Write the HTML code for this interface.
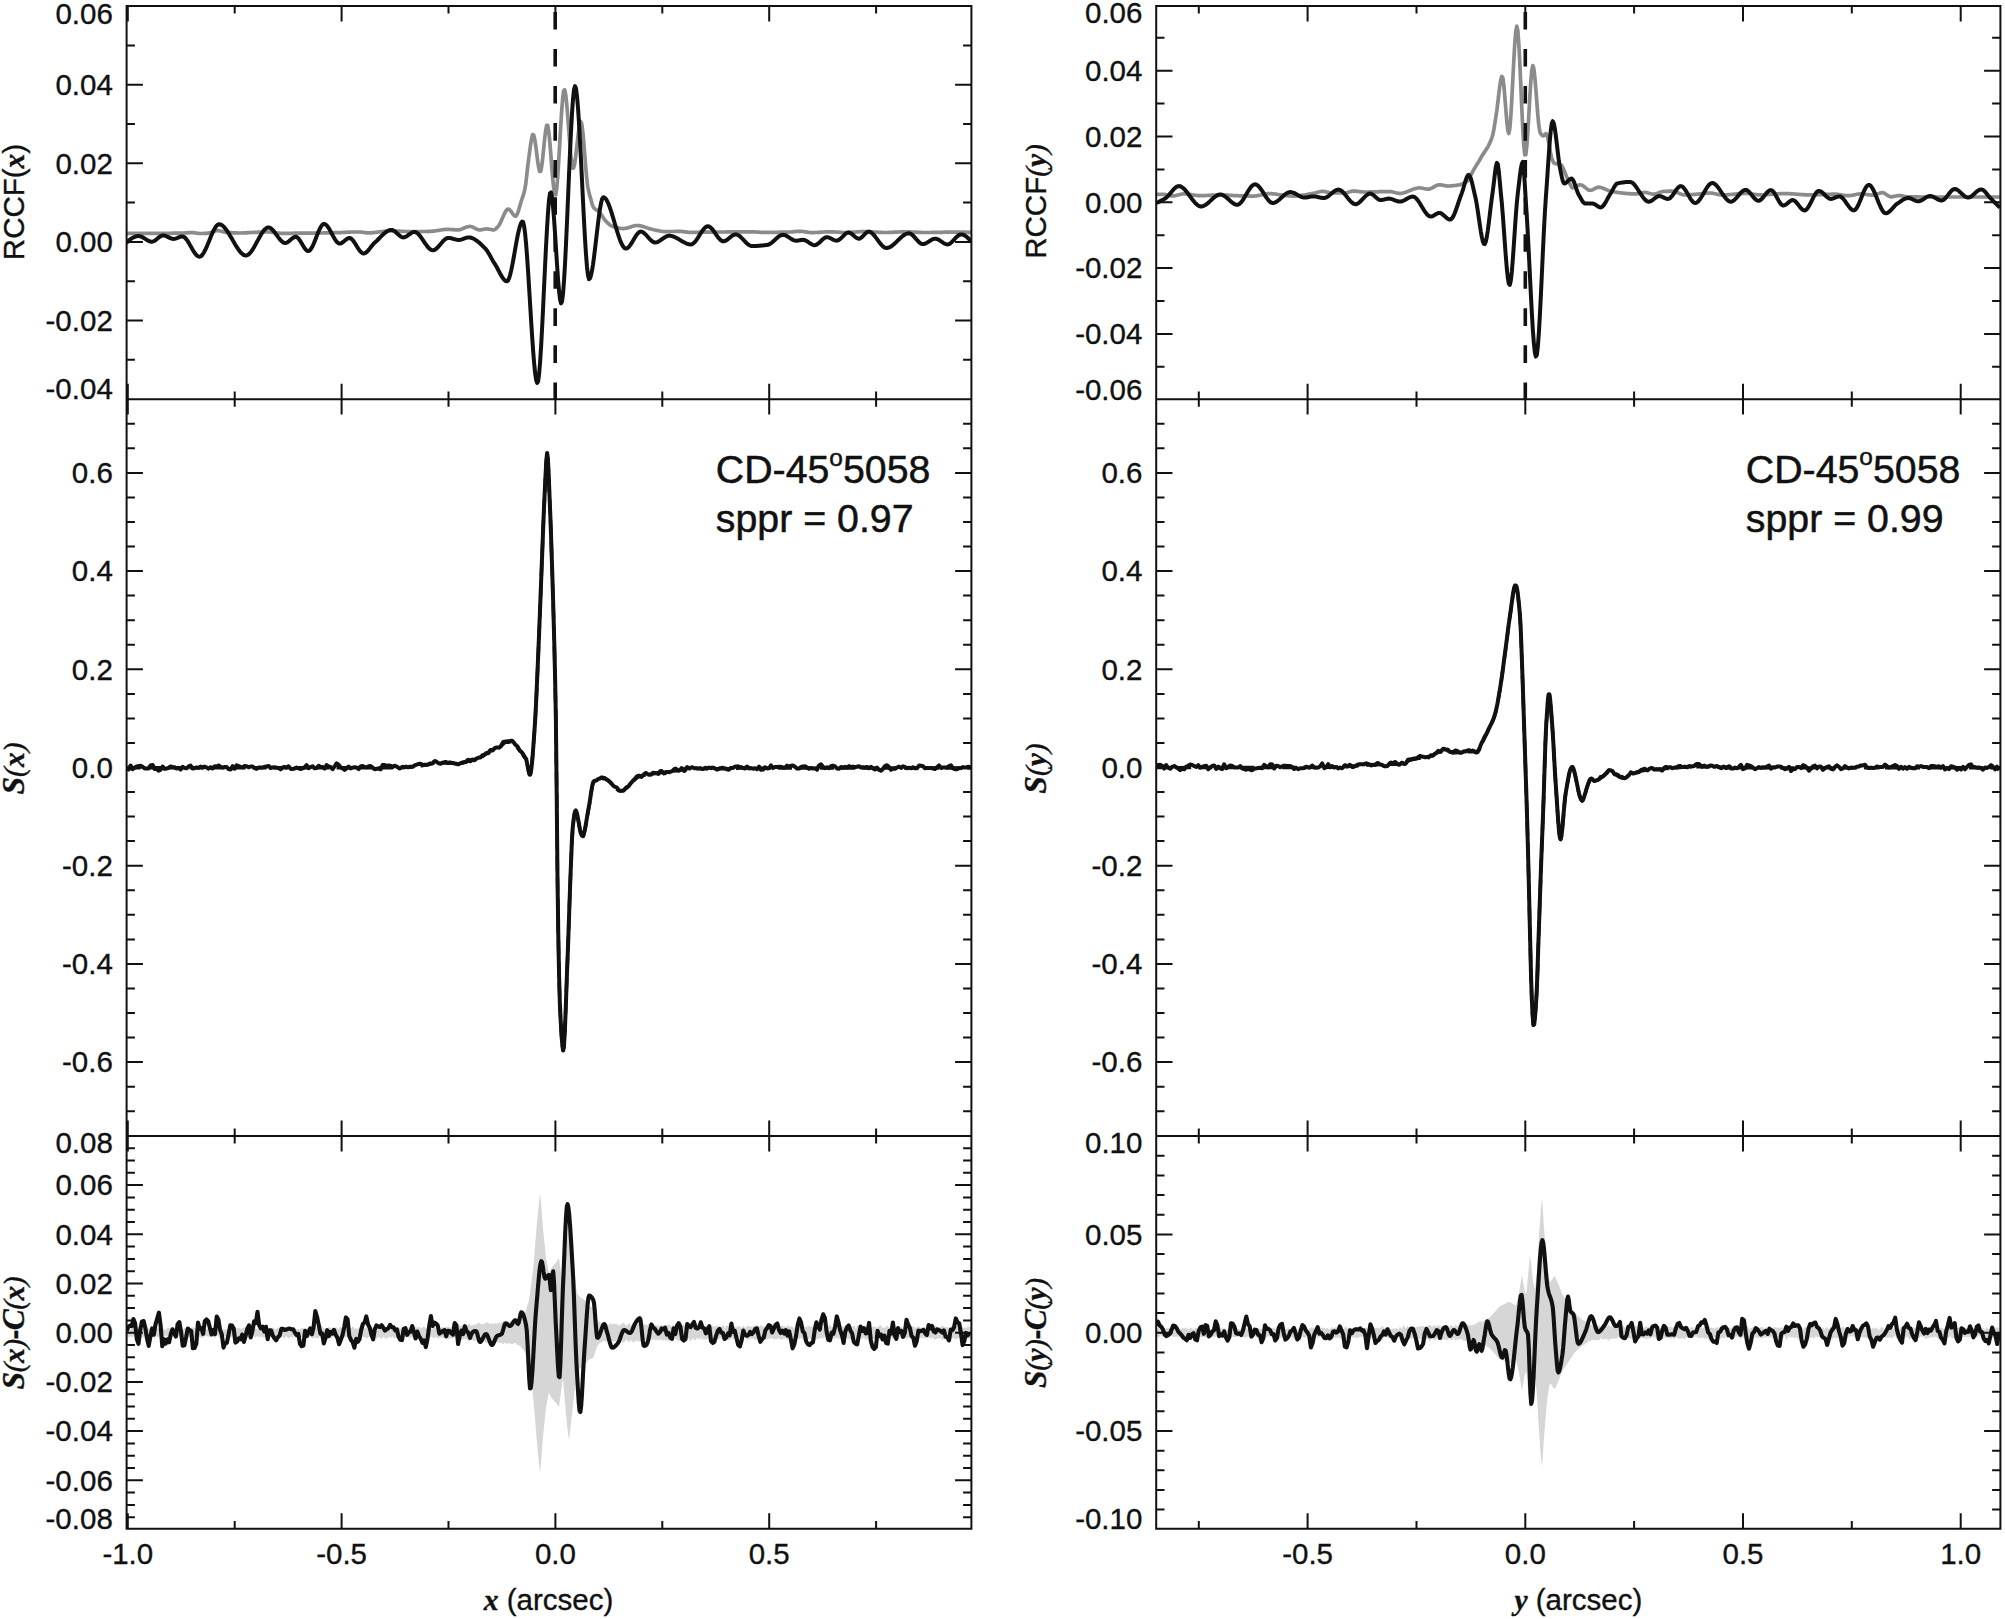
<!DOCTYPE html>
<html lang="en"><head><meta charset="utf-8"><title>RCCF / S-curve figure: CD-45 5058</title>
<style>html,body{margin:0;padding:0;background:#fff}svg{display:block}</style></head>
<body>
<svg width="2005" height="1619" viewBox="0 0 2005 1619">
<rect width="2005" height="1619" fill="#fff"/>
<g id="colL">
<clipPath id="cLt"><rect x="126.6" y="6" width="844.8" height="393.2"/></clipPath>
<clipPath id="cLm"><rect x="126.6" y="399.2" width="844.8" height="736.8"/></clipPath>
<clipPath id="cLb"><rect x="126.6" y="1136" width="844.8" height="392.7"/></clipPath>
<g clip-path="url(#cLt)" fill="none" stroke-linejoin="round" stroke-linecap="butt">
<path d="M126.5 233.3L127.5 233.3L128.5 233.3L129.5 233.3L130.5 233.3L131.5 233.3L132.5 233.3L133.5 233.3L134.5 233.3L135.5 233.3L136.5 233.3L137.5 233.3L138.5 233.3L139.5 233.3L140.5 233.3L141.5 233.3L142.5 233.3L143.5 233.3L144.5 233.3L145.5 233.3L146.5 233.3L147.5 233.3L148.5 233.3L149.5 233.3L150.5 233.3L151.5 233.3L152.5 233.3L153.5 233.3L154.5 233.3L155.5 233.3L156.5 233.3L157.5 233.3L158.5 233.3L159.5 233.3L160.5 233.3L161.5 233.3L162.5 233.3L163.5 233.3L164.5 233.3L165.5 233.3L166.5 233.3L167.5 233.3L168.5 233.3L169.5 233.3L170.5 233.3L171.5 233.3L172.5 233.2L173.5 233.2L174.5 233.2L175.5 233.2L176.5 233.2L177.5 233.2L178.5 233.2L179.5 233.2L180.5 233.2L181.5 233.2L182.5 233.1L183.5 233.1L184.5 233L185.5 232.9L186.5 232.9L187.5 232.8L188.5 232.7L189.5 232.7L190.5 232.6L191.5 232.6L192.5 232.6L193.5 232.7L194.5 232.8L195.5 233L196.5 233.1L197.5 233.3L198.5 233.4L199.5 233.5L200.5 233.5L201.5 233.5L202.5 233.5L203.5 233.4L204.5 233.4L205.5 233.3L206.5 233.3L207.5 233.2L208.5 233.1L209.5 232.9L210.5 232.7L211.5 232.3L212.5 231.9L213.5 231.5L214.5 231.2L215.5 230.9L216.5 230.7L217.5 230.6L218.5 230.7L219.5 230.8L220.5 231L221.5 231.3L222.5 231.6L223.5 231.9L224.5 232.1L225.5 232.3L226.5 232.3L227.5 232.4L228.5 232.5L229.5 232.6L230.5 232.6L231.5 232.7L232.6 232.8L233.6 232.8L234.6 232.9L235.6 232.9L236.6 232.9L237.6 233L238.6 233L239.6 233L240.6 233L241.6 233L242.6 233L243.6 232.9L244.6 232.9L245.6 232.8L246.6 232.8L247.6 232.7L248.6 232.6L249.6 232.6L250.6 232.5L251.6 232.5L252.6 232.4L253.6 232.4L254.6 232.3L255.6 232.3L256.6 232.3L257.6 232.2L258.6 232.2L259.6 232.2L260.6 232.1L261.6 232.1L262.6 232.1L263.6 232.1L264.6 232L265.6 232L266.6 232L267.6 232L268.6 232L269.6 232L270.6 232.1L271.6 232.2L272.6 232.3L273.6 232.5L274.6 232.6L275.6 232.7L276.6 232.9L277.6 233L278.6 233.1L279.6 233.2L280.6 233.3L281.6 233.3L282.6 233.3L283.6 233.3L284.6 233.3L285.6 233.3L286.6 233.3L287.6 233.3L288.6 233.3L289.6 233.3L290.6 233.3L291.6 233.3L292.6 233.3L293.6 233.2L294.6 233.2L295.6 233.2L296.6 233.2L297.6 233.2L298.6 233.2L299.6 233.2L300.6 233.2L301.6 233.2L302.6 233.2L303.6 233.2L304.6 233.2L305.6 233.2L306.6 233.1L307.6 233.1L308.6 233.1L309.6 233.1L310.6 233.1L311.6 233.1L312.6 233.1L313.6 233.1L314.6 233.1L315.6 233.1L316.6 233L317.6 233L318.6 233L319.6 233L320.6 233L321.6 233L322.6 233L323.6 232.9L324.6 232.9L325.6 232.9L326.6 232.9L327.6 232.9L328.6 232.9L329.6 232.8L330.6 232.8L331.6 232.8L332.6 232.8L333.6 232.8L334.6 232.7L335.6 232.7L336.6 232.7L337.6 232.7L338.6 232.6L339.6 232.6L340.6 232.6L341.6 232.5L342.6 232.5L343.6 232.4L344.6 232.4L345.6 232.3L346.6 232.2L347.6 232.2L348.6 232.1L349.6 232.1L350.6 232L351.6 232L352.6 232L353.6 232L354.6 232L355.6 232L356.6 232L357.6 232L358.6 232L359.6 232L360.6 232L361.6 232.1L362.6 232.2L363.6 232.4L364.6 232.6L365.6 232.7L366.6 232.8L367.6 232.9L368.6 232.9L369.6 232.9L370.6 232.8L371.6 232.8L372.6 232.7L373.6 232.6L374.6 232.5L375.6 232.4L376.6 232.3L377.6 232.1L378.6 232L379.6 231.9L380.6 231.8L381.6 231.6L382.6 231.5L383.6 231.4L384.6 231.3L385.6 231.2L386.6 231.1L387.6 231L388.6 231L389.6 230.9L390.6 230.9L391.6 230.9L392.6 230.9L393.6 230.9L394.6 231L395.6 231L396.6 231L397.6 231.1L398.6 231.1L399.6 231.2L400.6 231.3L401.6 231.3L402.6 231.4L403.6 231.4L404.6 231.5L405.6 231.5L406.6 231.5L407.6 231.6L408.6 231.6L409.6 231.6L410.6 231.6L411.6 231.6L412.6 231.6L413.6 231.6L414.6 231.6L415.6 231.6L416.6 231.6L417.6 231.6L418.6 231.6L419.6 231.6L420.6 231.5L421.6 231.5L422.6 231.5L423.6 231.5L424.6 231.5L425.6 231.5L426.6 231.5L427.6 231.4L428.6 231.4L429.6 231.4L430.6 231.4L431.6 231.3L432.6 231.2L433.6 231.1L434.6 231L435.6 230.8L436.6 230.7L437.6 230.5L438.6 230.3L439.6 230.2L440.6 230L441.6 229.8L442.6 229.7L443.7 229.6L444.7 229.5L445.7 229.4L446.7 229.4L447.7 229.4L448.7 229.4L449.7 229.5L450.7 229.5L451.7 229.6L452.7 229.7L453.7 229.7L454.7 229.8L455.7 229.8L456.7 229.9L457.7 229.9L458.7 229.9L459.7 229.7L460.7 229.4L461.7 229.1L462.7 228.7L463.7 228.2L464.7 227.8L465.7 227.4L466.7 227L467.7 226.7L468.7 226.5L469.7 226.4L470.7 226.5L471.7 226.8L472.7 227.1L473.7 227.6L474.7 228.1L475.7 228.7L476.7 229.1L477.7 229.5L478.7 229.8L479.7 229.9L480.7 229.8L481.7 229.7L482.7 229.5L483.7 229.3L484.7 229.1L485.7 229L486.7 228.9L487.7 229L488.7 229.1L489.7 229.3L490.7 229.5L491.7 229.7L492.7 229.8L493.7 229.9L494.7 229.6L495.7 228.9L496.7 227.9L497.7 226.9L498.7 225.7L499.7 224L500.7 222L501.7 219.7L502.7 217.4L503.7 215.2L504.7 213.1L505.7 211.3L506.7 210L507.7 209.2L508.7 209.2L509.7 209.8L510.7 210.9L511.7 212.3L512.7 213.8L513.7 215.1L514.7 215.9L515.7 216.2L516.7 215.2L517.7 213L518.7 210L519.7 206.5L520.7 203L521.7 199.7L522.7 196.8L523.7 193.7L524.7 189.9L525.7 184.4L526.7 175.8L527.7 166.5L528.7 158.7L529.7 151.3L530.7 144L531.7 138L532.7 134.6L533.7 134.9L534.7 139.1L535.7 145.6L536.7 153.5L537.7 161.2L538.7 167.6L539.7 171.5L540.7 171.3L541.7 166.4L542.7 158.2L543.7 148.3L544.7 138.4L545.7 130.2L546.7 125.3L547.7 125.4L548.7 131L549.7 140.7L550.7 152.9L551.7 166L552.7 178.3L553.7 188.3L554.7 194.4L555.7 194.9L556.7 188.6L557.7 176.8L558.7 161.4L559.7 144.1L560.7 126.6L561.7 110.7L562.7 98.1L563.7 90.6L564.7 89.8L565.7 94.7L566.7 103.9L567.7 115.8L568.7 129.1L569.7 142.4L570.7 154.3L571.7 163.4L572.7 168.2L573.7 167.9L574.7 163.5L575.7 156.3L576.7 147.7L577.7 138.6L578.7 130.5L579.7 124.3L580.7 121.5L581.7 123.5L582.7 130.7L583.7 141.5L584.7 154.2L585.7 167L586.7 178.3L587.7 186.3L588.7 191.3L589.7 195.3L590.7 198.8L591.7 202.4L592.7 205.9L593.7 207.7L594.7 208.7L595.7 209.5L596.7 210.1L597.7 210.7L598.7 211.5L599.7 212.6L600.7 213.9L601.7 215.3L602.7 216.8L603.7 218.3L604.7 219.7L605.7 221L606.7 222L607.7 223L608.7 223.9L609.7 224.7L610.7 225.4L611.7 226L612.7 226.4L613.7 226.7L614.7 227L615.7 227.3L616.7 227.6L617.7 227.9L618.7 228.1L619.7 228.3L620.7 228.4L621.7 228.5L622.7 228.6L623.7 228.6L624.7 228.5L625.7 228.3L626.7 228.1L627.7 227.9L628.7 227.6L629.7 227.2L630.7 226.9L631.7 226.6L632.7 226.3L633.7 226L634.7 225.8L635.7 225.6L636.7 225.5L637.7 225.5L638.7 225.6L639.7 225.7L640.7 225.9L641.7 226.1L642.7 226.4L643.7 226.7L644.7 227L645.7 227.4L646.7 227.7L647.7 228.1L648.7 228.4L649.7 228.7L650.7 229L651.7 229.3L652.7 229.5L653.7 229.8L654.8 230L655.8 230.2L656.8 230.4L657.8 230.6L658.8 230.8L659.8 231L660.8 231.2L661.8 231.3L662.8 231.5L663.8 231.5L664.8 231.6L665.8 231.6L666.8 231.6L667.8 231.6L668.8 231.6L669.8 231.6L670.8 231.5L671.8 231.5L672.8 231.5L673.8 231.5L674.8 231.5L675.8 231.4L676.8 231.4L677.8 231.4L678.8 231.4L679.8 231.4L680.8 231.4L681.8 231.5L682.8 231.6L683.8 231.7L684.8 231.8L685.8 231.9L686.8 232.1L687.8 232.2L688.8 232.3L689.8 232.3L690.8 232.3L691.8 232.3L692.8 232.3L693.8 232.3L694.8 232.3L695.8 232.3L696.8 232.3L697.8 232.3L698.8 232.3L699.8 232.2L700.8 232.2L701.8 232.2L702.8 232.2L703.8 232.2L704.8 232.2L705.8 232.2L706.8 232.2L707.8 232.1L708.8 232.1L709.8 232.1L710.8 232.1L711.8 232.1L712.8 232.1L713.8 232.1L714.8 232.1L715.8 232L716.8 232L717.8 232L718.8 232L719.8 232L720.8 232L721.8 232L722.8 232L723.8 232L724.8 232L725.8 232L726.8 231.9L727.8 231.9L728.8 231.9L729.8 231.9L730.8 231.9L731.8 231.9L732.8 231.9L733.8 231.9L734.8 231.9L735.8 231.9L736.8 231.9L737.8 231.8L738.8 231.8L739.8 231.8L740.8 231.8L741.8 231.8L742.8 231.8L743.8 231.8L744.8 231.8L745.8 231.8L746.8 231.8L747.8 231.8L748.8 231.8L749.8 231.8L750.8 231.8L751.8 231.8L752.8 231.9L753.8 231.9L754.8 231.9L755.8 232L756.8 232.1L757.8 232.1L758.8 232.2L759.8 232.2L760.8 232.3L761.8 232.3L762.8 232.4L763.8 232.4L764.8 232.4L765.8 232.4L766.8 232.4L767.8 232.4L768.8 232.4L769.8 232.4L770.8 232.4L771.8 232.4L772.8 232.4L773.8 232.3L774.8 232.3L775.8 232.3L776.8 232.3L777.8 232.3L778.8 232.3L779.8 232.2L780.8 232.2L781.8 232.2L782.8 232.2L783.8 232.2L784.8 232.1L785.8 232.1L786.8 232.1L787.8 232.1L788.8 232L789.8 232L790.8 232L791.8 231.9L792.8 231.8L793.8 231.7L794.8 231.6L795.8 231.5L796.8 231.4L797.8 231.4L798.8 231.3L799.8 231.3L800.8 231.3L801.8 231.4L802.8 231.5L803.8 231.6L804.8 231.8L805.8 231.9L806.8 232.1L807.8 232.2L808.8 232.4L809.8 232.5L810.8 232.6L811.8 232.6L812.8 232.6L813.8 232.6L814.8 232.5L815.8 232.5L816.8 232.5L817.8 232.4L818.8 232.3L819.8 232.3L820.8 232.2L821.8 232.1L822.8 232.1L823.8 232L824.8 232L825.8 231.9L826.8 231.9L827.8 231.8L828.8 231.8L829.8 231.8L830.8 231.8L831.8 231.8L832.8 231.9L833.8 231.9L834.8 232L835.8 232L836.8 232.1L837.8 232.2L838.8 232.2L839.8 232.3L840.8 232.4L841.8 232.4L842.8 232.5L843.8 232.5L844.8 232.5L845.8 232.5L846.8 232.5L847.8 232.5L848.8 232.4L849.8 232.4L850.8 232.3L851.8 232.3L852.8 232.2L853.8 232.1L854.8 232.1L855.8 232L856.8 231.9L857.8 231.9L858.8 231.8L859.8 231.7L860.8 231.7L861.8 231.7L862.8 231.6L863.8 231.6L864.8 231.6L865.9 231.6L866.9 231.6L867.9 231.6L868.9 231.7L869.9 231.7L870.9 231.8L871.9 231.8L872.9 231.9L873.9 232L874.9 232L875.9 232.1L876.9 232.2L877.9 232.2L878.9 232.3L879.9 232.4L880.9 232.4L881.9 232.4L882.9 232.5L883.9 232.5L884.9 232.5L885.9 232.5L886.9 232.5L887.9 232.5L888.9 232.4L889.9 232.4L890.9 232.4L891.9 232.3L892.9 232.3L893.9 232.2L894.9 232.2L895.9 232.1L896.9 232.1L897.9 232L898.9 232L899.9 231.9L900.9 231.9L901.9 231.8L902.9 231.8L903.9 231.8L904.9 231.8L905.9 231.8L906.9 231.8L907.9 231.8L908.9 231.9L909.9 231.9L910.9 231.9L911.9 232L912.9 232L913.9 232.1L914.9 232.1L915.9 232.2L916.9 232.2L917.9 232.3L918.9 232.3L919.9 232.4L920.9 232.4L921.9 232.5L922.9 232.5L923.9 232.5L924.9 232.5L925.9 232.5L926.9 232.5L927.9 232.5L928.9 232.5L929.9 232.5L930.9 232.5L931.9 232.4L932.9 232.4L933.9 232.4L934.9 232.4L935.9 232.4L936.9 232.4L937.9 232.3L938.9 232.3L939.9 232.3L940.9 232.3L941.9 232.3L942.9 232.3L943.9 232.2L944.9 232.2L945.9 232.2L946.9 232.2L947.9 232.2L948.9 232.2L949.9 232.2L950.9 232.2L951.9 232.2L952.9 232.2L953.9 232.2L954.9 232.2L955.9 232.2L956.9 232.2L957.9 232.2L958.9 232.2L959.9 232.2L960.9 232.2L961.9 232.2L962.9 232.2L963.9 232.2L964.9 232.2L965.9 232.2L966.9 232.3L967.9 232.3L968.9 232.3L969.9 232.3L970.9 232.3" stroke="#8b8b8b" stroke-width="3.7"/>
<line x1="555.2" y1="400" x2="555.2" y2="0" stroke="#111111" stroke-width="3.6" stroke-dasharray="17.6 19.45"/>
<path d="M126.2 243L127.2 242L128.2 241.1L129.2 240.2L130.2 239.4L131.2 238.7L132.2 238.1L133.2 237.5L134.2 237.1L135.2 236.7L136.2 236.4L137.2 236.2L138.2 236.1L139.2 236.1L140.2 236.3L141.2 236.6L142.2 237.1L143.2 237.6L144.2 238.2L145.2 238.9L146.2 239.5L147.2 240.1L148.2 240.7L149.2 241.1L150.2 241.5L151.2 241.7L152.2 241.7L153.2 241.4L154.2 241L155.2 240.3L156.2 239.6L157.2 238.8L158.2 237.9L159.2 237.2L160.2 236.5L161.2 235.9L162.2 235.6L163.2 235.5L164.2 235.6L165.2 235.9L166.2 236.2L167.2 236.7L168.2 237.1L169.2 237.6L170.2 238.1L171.2 238.5L172.2 238.7L173.2 238.9L174.2 238.9L175.2 238.7L176.2 238.4L177.2 238L178.2 237.6L179.2 237.1L180.2 236.8L181.2 236.5L182.2 236.4L183.2 236.6L184.2 237.1L185.2 237.9L186.2 239.1L187.2 240.4L188.2 241.9L189.2 243.6L190.2 245.4L191.2 247.1L192.2 248.9L193.2 250.6L194.2 252.2L195.2 253.6L196.2 254.8L197.2 255.8L198.2 256.4L199.2 256.7L200.2 256.6L201.2 256L202.2 255L203.2 253.6L204.2 251.9L205.2 250L206.2 247.8L207.2 245.6L208.2 243.2L209.2 240.7L210.2 238.2L211.2 235.8L212.2 233.5L213.2 231.3L214.2 229.4L215.2 227.7L216.2 226.2L217.2 225.2L218.2 224.5L219.2 224.3L220.2 224.4L221.2 224.8L222.2 225.4L223.2 226.2L224.2 227.2L225.2 228.4L226.2 229.7L227.2 231.1L228.2 232.6L229.2 234.2L230.2 235.9L231.2 237.6L232.2 239.3L233.2 241.1L234.2 242.8L235.2 244.5L236.2 246.1L237.2 247.7L238.2 249.2L239.2 250.6L240.2 251.8L241.2 252.9L242.2 253.8L243.2 254.6L244.2 255.1L245.2 255.4L246.2 255.5L247.2 255.2L248.2 254.7L249.2 253.9L250.2 252.9L251.2 251.6L252.2 250.2L253.2 248.6L254.2 246.9L255.2 245.1L256.2 243.3L257.2 241.4L258.2 239.6L259.2 237.7L260.2 236L261.2 234.3L262.2 232.7L263.2 231.3L264.2 230L265.2 229L266.2 228.2L267.1 227.7L268.1 227.4L269.1 227.5L270.1 227.9L271.1 228.5L272.1 229.4L273.1 230.4L274.1 231.6L275.1 232.9L276.1 234.3L277.1 235.7L278.1 237.1L279.1 238.4L280.1 239.6L281.1 240.7L282.1 241.6L283.1 242.4L284.1 242.8L285.1 243L286.1 242.9L287.1 242.5L288.1 241.8L289.1 241.1L290.1 240.2L291.1 239.3L292.1 238.5L293.1 237.8L294.1 237.2L295.1 236.9L296.1 236.8L297.1 237.3L298.1 238.1L299.1 239.3L300.1 240.8L301.1 242.4L302.1 244.1L303.1 245.8L304.1 247.4L305.1 248.8L306.1 250L307.1 250.8L308.1 251.1L309.1 250.9L310.1 250.1L311.1 248.8L312.1 247.1L313.1 245L314.1 242.7L315.1 240.2L316.1 237.7L317.1 235.1L318.1 232.6L319.1 230.3L320.1 228.2L321.1 226.4L322.1 225.1L323.1 224.2L324.1 223.9L325.1 224.1L326.1 224.8L327.1 225.8L328.1 227.2L329.1 228.7L330.1 230.5L331.1 232.3L332.1 234.2L333.1 236.1L334.1 237.9L335.1 239.5L336.1 241L337.1 242.2L338.1 243L339.1 243.5L340.1 243.6L341.1 243.3L342.1 242.7L343.1 242L344.1 241.2L345.1 240.3L346.1 239.5L347.1 238.8L348.1 238.3L349.1 238L350.1 238.1L351.1 238.6L352.1 239.5L353.1 240.6L354.1 242L355.1 243.5L356.1 245.1L357.1 246.8L358.1 248.4L359.1 249.8L360.1 251.2L361.1 252.2L362.1 253L363.1 253.4L364.1 253.5L365.1 253.1L366.1 252.5L367.1 251.6L368.1 250.6L369.1 249.4L370.1 248.1L371.1 246.8L372.1 245.6L373.1 244.3L374.1 243.2L375.1 242.3L376.1 241.4L377.1 240.5L378.1 239.5L379.1 238.5L380.1 237.4L381.1 236.4L382.1 235.4L383.1 234.5L384.1 233.6L385.1 232.7L386.1 232L387.1 231.3L388.1 230.8L389.1 230.3L390.1 230L391.1 229.9L392.1 230L393.1 230.3L394.1 230.9L395.1 231.6L396.1 232.5L397.1 233.4L398.1 234.3L399.1 235.2L400.1 236L401.1 236.7L402.1 237.2L403.1 237.4L404.1 237.3L405.1 237L406.1 236.6L407.1 236L408.1 235.2L409.1 234.5L410.1 233.8L411.1 233.1L412.1 232.5L413.1 232.1L414.1 231.9L415.1 232L416.1 232.3L417.1 233L418.1 233.8L419.1 234.9L420.1 236.1L421.1 237.4L422.1 238.9L423.1 240.3L424.1 241.8L425.1 243.3L426.1 244.7L427.1 246.1L428.1 247.3L429.1 248.4L430.1 249.2L431.1 249.9L432.1 250.2L433.1 250.3L434.1 250.1L435.1 249.6L436.1 248.9L437.1 248L438.1 247L439.1 245.8L440.1 244.7L441.1 243.5L442.1 242.3L443.1 241.2L444.1 240.2L445.1 239.3L446.1 238.6L447.1 238.1L448.1 237.9L449.1 237.9L450.1 238.1L451.1 238.2L452.1 238.5L453.1 238.8L454.1 239.1L455.1 239.3L456.1 239.6L457.1 239.8L458.1 239.9L459.1 239.9L460.1 239.8L461.1 239.6L462.1 239.3L463.1 238.9L464.1 238.5L465.1 238.2L466.1 237.8L467.1 237.6L468.1 237.4L469.1 237.4L470.1 237.5L471.1 237.7L472.1 238.1L473.1 238.5L474.1 239L475.1 239.6L476.1 240.3L477.1 241L478.1 241.8L479.1 242.6L480.1 243.5L481.1 244.4L482.1 245.4L483.1 246.3L484.1 247.3L485.1 248.3L486.1 249.5L487.1 250.8L488.1 252.4L489.1 254.1L490.1 255.8L491.1 257.6L492.1 259.4L493.1 261.2L494.1 262.8L495.1 264.4L496.1 266L497.1 267.8L498.1 269.7L499.1 271.6L500.1 273.5L501.1 275.3L502.1 277L503.1 278.4L504.1 279.7L505.1 280.6L506.1 281.1L507.1 281.3L508.1 280.4L509.1 278.2L510.1 275L511.1 270.9L512.1 266.1L513.1 260.9L514.1 255.3L515.1 249.6L516.1 243.9L517.1 238.5L518.1 233.5L519.1 229.2L520.1 225.6L521.1 223L522.1 221.6L523.1 221.9L524.1 225.9L525.1 233.5L526.1 244L527.1 257L528.1 271.7L529.1 287.6L530.1 304L531.1 320.4L532.1 336L533.1 350.4L534.1 362.9L535.1 372.9L536.1 379.8L537.1 383L538.1 381.4L539.1 374.1L540.1 362.2L541.1 346.5L542.1 328L543.1 307.7L544.1 286.4L545.1 265.2L546.1 245L547.1 226.8L548.1 211.5L549 200L550 193.3L551 192.4L552 197L553 206L554 218.4L555 232.9L556 248.5L557 264.1L558 278.5L559 290.6L560 299.3L561 303.4L562 301.8L563 294L564 281.2L565 264.3L566 244.2L567 221.9L568 198.6L569 175L570 152.3L571 131.5L572 113.4L573 99.2L574 89.7L575 86.1L576 88.6L577 96.1L578 107.8L579 122.9L580 140.6L581 160L582 180.4L583 200.8L584 220.5L585 238.6L586 254.4L587 267L588 275.5L589 279.1L590 278.4L591 275.4L592 270.7L593 264.5L594 257.2L595 249.1L596 240.5L597 231.9L598 223.5L599 215.7L600 208.9L601 203.3L602 199.3L603 197.4L604 197.3L605 198L606 199.1L607 200.8L608 202.8L609 205.2L610 208L611 210.9L612 214.1L613 217.4L614 220.8L615 224.2L616 227.6L617 230.9L618 234.1L619 237.1L620 239.9L621 242.4L622 244.5L623 246.3L624 247.6L625 248.4L626 248.6L627 248.3L628 247.7L629 246.7L630 245.4L631 244L632 242.4L633 240.7L634 239L635 237.3L636 235.7L637 234.3L638 233.2L639 232.3L640 231.7L641 231.6L642 231.8L643 232.3L644 233L645 233.9L646 234.9L647 236L648 237.1L649 238.3L650 239.3L651 240.3L652 241.2L653 241.9L654 242.3L655 242.5L656 242.4L657 242.2L658 241.8L659 241.2L660 240.6L661 239.9L662 239.2L663 238.5L664 237.8L665 237.2L666 236.6L667 236.2L668 235.9L669 235.7L670 235.7L671 235.9L672 236.1L673 236.4L674 236.8L675 237.2L676 237.7L677 238.2L678 238.8L679 239.4L680 240L681 240.6L682 241.2L683 241.8L684 242.3L685 242.8L686 243.3L687 243.7L688 244L689 244.2L690 244.4L691 244.4L692 244.2L693 243.6L694 242.8L695 241.8L696 240.5L697 239.1L698 237.6L699 236L700 234.4L701 232.8L702 231.3L703 230L704 228.7L705 227.7L706 226.9L707 226.4L708 226.3L709 226.5L710 227.1L711 227.9L712 228.9L713 230.1L714 231.5L715 232.9L716 234.4L717 235.8L718 237.2L719 238.4L720 239.5L721 240.4L722 241L723 241.3L724 241.2L725 241L726 240.5L727 239.8L728 239.1L729 238.3L730 237.4L731 236.6L732 235.9L733 235.2L734 234.8L735 234.5L736 234.4L737 234.6L738 235L739 235.6L740 236.4L741 237.3L742 238.3L743 239.3L744 240.4L745 241.5L746 242.5L747 243.4L748 244.3L749 245L750 245.5L751 245.9L752 246L753 246L754 246L755 245.9L756 245.9L757 245.9L758 245.8L759 245.7L760 245.7L761 245.6L762 245.5L763 245.4L764 245.3L765 245.2L766 245.1L767 245L768 244.8L769 244.4L770 243.9L771 243.3L772 242.5L773 241.6L774 240.7L775 239.8L776 238.8L777 237.9L778 237.1L779 236.3L780 235.7L781 235.2L782 234.9L783 234.8L784 234.9L785 235.2L786 235.6L787 236.2L788 236.8L789 237.4L790 238.1L791 238.8L792 239.4L793 239.9L794 240.3L795 240.6L796 240.7L797 240.7L798 240.5L799 240.4L800 240.2L801 240L802 239.9L803 239.8L804 239.9L805 240.2L806 240.7L807 241.3L808 241.9L809 242.6L810 243.3L811 243.9L812 244.5L813 244.9L814 245.2L815 245.2L816 244.9L817 244.4L818 243.7L819 242.9L820 242L821 241L822 240L823 239.1L824 238.4L825 237.7L826 237.3L827 237.2L828 237.3L829 237.6L830 238L830.9 238.5L831.9 239L832.9 239.6L833.9 240L834.9 240.4L835.9 240.6L836.9 240.7L837.9 240.4L838.9 239.9L839.9 239.2L840.9 238.3L841.9 237.3L842.9 236.3L843.9 235.3L844.9 234.3L845.9 233.5L846.9 232.9L847.9 232.6L848.9 232.5L849.9 232.8L850.9 233.3L851.9 234L852.9 234.9L853.9 235.8L854.9 236.7L855.9 237.5L856.9 238.1L857.9 238.5L858.9 238.7L859.9 238.5L860.9 237.9L861.9 237.1L862.9 236.1L863.9 235.1L864.9 234L865.9 233.1L866.9 232.3L867.9 231.8L868.9 231.7L869.9 231.9L870.9 232.4L871.9 233.1L872.9 234L873.9 235.1L874.9 236.3L875.9 237.6L876.9 238.9L877.9 240.3L878.9 241.7L879.9 243L880.9 244.2L881.9 245.3L882.9 246.3L883.9 247.1L884.9 247.6L885.9 248L886.9 248L887.9 247.8L888.9 247.5L889.9 247.1L890.9 246.5L891.9 245.8L892.9 245.1L893.9 244.2L894.9 243.3L895.9 242.4L896.9 241.4L897.9 240.4L898.9 239.4L899.9 238.5L900.9 237.6L901.9 236.7L902.9 235.9L903.9 235.2L904.9 234.5L905.9 234L906.9 233.6L907.9 233.4L908.9 233.3L909.9 233.5L910.9 233.9L911.9 234.6L912.9 235.5L913.9 236.5L914.9 237.6L915.9 238.8L916.9 239.9L917.9 241L918.9 242L919.9 242.9L920.9 243.6L921.9 244L922.9 244.1L923.9 244L924.9 243.7L925.9 243.2L926.9 242.7L927.9 242.1L928.9 241.5L929.9 240.8L930.9 240.2L931.9 239.6L932.9 239.2L933.9 238.9L934.9 238.7L935.9 238.8L936.9 239L937.9 239.4L938.9 239.9L939.9 240.6L940.9 241.2L941.9 241.9L942.9 242.6L943.9 243.2L944.9 243.7L945.9 244.1L946.9 244.4L947.9 244.4L948.9 244.1L949.9 243.6L950.9 242.8L951.9 241.9L952.9 240.9L953.9 239.8L954.9 238.7L955.9 237.7L956.9 236.7L957.9 235.8L958.9 235.1L959.9 234.6L960.9 234.4L961.9 234.5L962.9 234.7L963.9 235L964.9 235.6L965.9 236.2L966.9 237L967.9 238L968.9 239L969.9 240.2L970.9 241.5" stroke="#111111" stroke-width="4"/>
</g>
<g clip-path="url(#cLm)" fill="none" stroke-linejoin="round">
<path d="M126.6 767.9L128.6 769.5L130.6 765.5L132.6 769.2L134.6 767.7L136.6 766.4L138.6 766.1L140.6 765.7L142.6 766.8L144.6 768.4L146.6 768.4L148.6 768.4L150.6 765.4L152.6 764.9L154.6 769L156.6 769L158.6 770.6L160.6 769.6L162.6 766.5L164.6 768.9L166.6 768.5L168.6 767.9L170.6 766.4L172.6 767.2L174.6 767.2L176.6 768.5L178.6 767.8L180.6 769.6L182.6 766.8L184.6 767.9L186.6 768.2L188.6 766.4L190.6 765.6L192.6 768.4L194.6 768.3L196.6 767.4L198.6 767.9L200.6 766.6L202.6 767.6L204.6 766.6L206.6 767.5L208.6 768.7L210.6 767.2L212.6 768.5L214.6 766.2L216.6 766.8L218.6 765.5L220.6 766.9L222.6 767.4L224.6 767.1L226.6 767L228.6 769.1L230.6 769.6L232.6 766.2L234.6 768.7L236.6 765.4L238.6 766L240.6 766.9L242.6 767.4L244.6 766L246.6 766.2L248.6 767.3L250.6 766.5L252.6 766.4L254.6 768.1L256.6 768.8L258.6 767.6L260.6 767.5L262.6 767.4L264.6 766.8L266.6 766.6L268.6 765.9L270.6 768L272.6 767.4L274.6 767.2L276.6 767.6L278.6 768.1L280.6 769.4L282.6 767.4L284.6 766.9L286.6 767.6L288.6 766.3L290.6 768.9L292.6 768.9L294.6 768.6L296.6 767.5L298.6 768.4L300.6 769L302.6 768.4L304.6 767.2L306.6 765.1L308.6 768.2L310.6 767.1L312.6 766.2L314.6 768.3L316.6 768L318.6 765.7L320.6 766.9L322.6 766.9L324.6 768.6L326.6 765.1L328.6 766.4L330.6 767L332.6 769.2L334.6 766.3L336.6 763.3L338.6 764.7L340.6 767.2L342.6 768.4L344.6 769.9L346.6 768.4L348.6 766.5L350.6 768.4L352.6 767.6L354.6 767.2L356.6 767.4L358.6 769.1L360.6 766.5L362.6 765.9L364.6 767L366.6 767.2L368.6 766.3L370.6 766L372.6 767.6L374.6 769.2L376.6 768.7L378.6 768.6L380.6 769.3L382.6 765.1L384.6 765L386.6 766L388.6 765.5L390.6 765.7L392.6 767.2L394.6 765.7L396.6 766.5L399 768.1L399.8 768.5L400.6 768.2L401.4 767.4L402.2 766.9L403 766.8L403.8 767.2L404.6 767L405.4 767L406.2 766.6L407 767.2L407.8 767.2L408.6 767.2L409.4 766.7L410.2 766.7L411 766.8L411.8 766.9L412.6 766.7L413.4 766.3L414.2 765.8L415 765.3L415.8 764.9L416.6 764.7L417.4 764.4L418.2 764L419 763.9L419.8 763.8L420.6 763.8L421.4 764.1L422.2 764.7L423 765L423.8 764.9L424.6 764.7L425.4 764.7L426.2 764.8L427 764.8L427.8 764.7L428.6 764.4L429.4 763.8L430.2 763.4L431 763.5L431.8 763.5L432.6 763.2L433.4 762.2L434.2 761.5L435 761L435.8 761.3L436.6 761.8L437.4 762.5L438.2 762.9L439 763.5L439.8 763.6L440.6 763.7L441.4 763.2L442.2 762.9L443 762.5L443.8 762.4L444.6 762.2L445.4 761.9L446.2 762.3L447 762.5L447.8 762.9L448.6 762.7L449.4 762.6L450.2 762.6L451 762.6L451.8 762.9L452.6 762.9L453.4 763.3L454.2 763.3L455 763.7L455.8 763.7L456.6 763.8L457.4 764.2L458.2 764.3L459 764.2L459.8 763.4L460.6 763.3L461.4 762.9L462.2 762.8L463 762.2L463.8 762.2L464.6 762L465.4 762L466.2 761.5L467 760.5L467.8 759.9L468.6 759.8L469.4 760.9L470.2 761.3L471 760.9L471.8 759.7L472.6 759.5L473.4 759.9L474.2 760.3L475 759.8L475.8 759L476.6 758.6L477.4 758.2L478.2 757.9L479 757.6L479.8 757.6L480.6 757.3L481.4 756.5L482.2 755.5L483 754.9L483.8 754.7L484.7 754.4L485.5 753.8L486.3 753.1L487.1 753.3L487.9 753.3L488.7 752.9L489.5 751.3L490.3 750.2L491.1 749.9L491.9 750.5L492.7 750.5L493.5 749.6L494.3 748.5L495.1 748L495.9 747.6L496.7 747.4L497.5 747.4L498.3 747.6L499.1 747.7L499.9 747.1L500.7 746.4L501.5 745L502.3 743.6L503.1 742.2L503.9 741.7L504.7 741.7L505.5 741.6L506.3 741.9L507.1 741.8L507.9 742.1L508.7 742L509.5 741.7L510.3 741L511.1 740.7L511.9 740.8L512.7 741.3L513.5 742.1L514.3 743.2L515.1 744.4L515.9 745.2L516.7 745.8L517.5 746.4L518.3 747.9L519.1 749.4L519.9 750.8L520.7 751.2L521.5 751.9L522.3 752.9L523.1 754.6L523.9 756.2L524.7 757.4L525.5 758L526.3 759.5L527.1 763.3L527.9 767.5L528.7 771.4L529.5 774.5L530.3 774.4L531.1 770.8L531.9 764L532.7 754.8L533.5 744.2L534.3 733.2L535.1 721.4L535.9 706.6L536.7 689.5L537.5 671.3L538.3 652.8L539.1 633.7L539.9 613.3L540.7 592.3L541.5 571.4L542.3 551L543.1 529.9L543.9 509.9L544.7 493L545.5 475.8L546.3 460.9L547.1 452.9L547.9 458.6L548.7 474.4L549.5 495L550.3 514.9L551.1 536.9L551.9 561.5L552.7 587L553.5 613.7L554.3 643.7L555.1 677.9L555.9 720.2L556.7 794.7L557.5 878L558.3 935.4L559.1 976.6L559.9 1004.4L560.7 1020.9L561.5 1034.8L562.3 1044.9L563.1 1050.5L563.9 1046.8L564.7 1034L565.5 1014.8L566.3 992.3L567.1 970L567.9 949.6L568.7 926.8L569.5 903.3L570.3 881L571.1 860.5L571.9 840.5L572.7 828L573.5 820.6L574.3 814.8L575.1 811.3L575.9 810.4L576.7 812.4L577.5 815.8L578.3 820L579.1 824.6L579.9 829.1L580.7 833L581.5 834.9L582.3 835.9L583.1 836.2L583.9 833.8L584.7 830.4L585.5 826.3L586.3 821.7L587.1 816.8L587.9 812.1L588.7 807.7L589.5 803.3L590.3 798.1L591.1 792.6L591.9 787.7L592.7 783.9L593.5 781.5L594.3 780.9L595.1 780.7L595.9 780.6L596.7 780.2L597.5 779.5L598.3 779L599.1 778.7L599.9 778.5L600.7 778L601.5 777.8L602.3 778.2L603.1 778.5L603.9 778.4L604.7 778.3L605.5 778.7L606.3 779.3L607.1 779.9L607.9 780.2L608.7 780.9L609.5 781.4L610.3 782.2L611.1 782.9L611.9 784L612.7 785.1L613.5 785.9L614.3 786.5L615.1 786.9L615.9 787.1L616.7 787.5L617.5 788.3L618.3 789.6L619.1 790.5L619.9 790.8L620.7 790.8L621.5 790.8L622.3 790.7L623.1 790.7L623.9 790.2L624.7 789.4L625.5 788.3L626.3 787.5L627.1 787L627.9 786.8L628.7 786.1L629.5 785L630.3 783.9L631.1 782.8L631.9 782L632.7 780.9L633.5 780.2L634.3 779.3L635.1 778.7L635.9 777.6L636.7 776.7L637.5 776.1L638.3 775.8L639.1 775.7L639.9 776L640.7 776.6L641.5 777L642.3 776L643.1 775.3L643.9 774.2L644.7 773.8L645.5 773.1L646.3 773.1L647.1 773.9L647.9 774.4L648.7 774.7L649.5 774.6L650.3 774.7L651.1 774.6L651.9 773.7L652.7 773L653.5 772.8L654.3 773.2L655.2 773.3L656 772.9L656.8 773L657.6 773.7L658.4 773.9L659.2 773L660 771.4L660.8 771L661.6 771.1L662.4 772.2L663.2 772.7L664 773.4L664.8 773.2L665.6 772.8L666.4 772.1L667.2 771.9L668 772.1L668.8 772.2L669.6 772L670.4 771.7L671.2 771.6L672 771.1L672.8 770.5L673.6 769.8L674.4 769L675.2 768.7L676 768.8L676.8 769.7L677.6 770.4L678.4 770.7L679.2 770.7L680 769.9L680.8 769.1L681.6 768.1L682.4 768.7L683.2 769.7L684 770.9L684.8 770.8L685.6 769.5L686.4 767.8L687.2 767L688 767.6L688.8 768.2L689.6 768.6L690.4 768L691.2 767.7L692 767.2L692.8 767.5L693.6 767.8L694.4 768.2L695.2 768.3L696 768.2L696.8 768.3L697.6 768.5L698.4 768.6L699.2 768.3L700 768.2L700.8 768.3L701.6 768.9L702.4 769.1L703.2 769L704 768.4L704.8 767.9L705.6 767.7L706.4 768.1L707.2 768.3L708 768.1L708.8 767.5L709.6 767.8L710.4 767.9L711.2 768.2L712 767.6L712.8 767.8L713.6 767.8L714.4 768.3L715.2 768.5L716 769.1L716.8 769.5L717.6 769.4L718.4 769L719.2 768.5L720 768.2L720.8 768.1L721.6 767.9L722.4 767.7L723.2 767.9L724 768.2L724.8 768.4L725.6 768.5L726.4 768.7L727.2 769.4L728 769.7L728.8 769.7L729.6 769L730.4 768.2L731.2 767.9L732 768L732.8 768L733.6 767.7L734.4 766.9L735.2 766.7L736 766.5L736.8 766.6L737.6 766.3L738.4 766.5L739.2 766.9L740 767.4L741 767.1L743 767.8L745 768.5L747 766.5L749 768.4L751 768.1L753 768.7L755 768.2L757 769.3L759 766.7L761 769.8L763 769.6L765 767.2L767 768.4L769 768.3L771 765.4L773 768L775 766.9L777 767.1L779 766.7L781 766.9L783 767.5L785 767.7L787 765.6L789 766.8L791 765.7L793 765.5L795 766.7L797 768.6L799 768.6L801 767L803 766.5L805 766.3L807 767.5L809 768.8L811 767.9L813 768.6L815 768.2L817 769.7L819 765.4L821 764.3L823 766.7L825 768.3L827 767.2L829 768.1L831 766.1L833 765.6L835 766.3L837 768.4L839 768.7L841 766.9L843 767.7L845 766.8L847 767.5L849 766.1L851 767.2L853 766.6L855 767.3L857 766.7L859 766.3L861 767.5L863 767.1L865 767.5L867 767L869 768.3L871 766.7L873 768.4L875 769.5L877 767.6L879 769.9L881 770.7L883 768.8L885 766L887 765.2L889 766.9L891 769.8L893 768.8L895 768.8L897 767.5L899 766.6L901 767.9L903 766.2L905 767.1L907 768.2L909 767.8L911 768.3L913 767.2L915 768.3L917 768.3L919 765.6L921 765.8L923 766.3L925 768.2L927 768.1L929 768.1L931 767.9L933 768.5L935 769L937 767.2L939 765.4L941 768L943 767.4L945 767.6L947 767.4L949 766.1L951 765.3L953 768.4L955 769.2L957 769.2L959 768.2L961 768.1L963 767.1L965 767.6L967 767.1L969 766.8L971 767.7" stroke="#111111" stroke-width="4.0"/>
<path d="M126.6 767.8L399 767.8L399.8 767.8L400.6 767.7L401.4 767.7L402.2 767.6L403 767.6L403.8 767.5L404.6 767.5L405.4 767.4L406.2 767.4L407 767.3L407.8 767.2L408.6 767.2L409.4 767.1L410.2 767L411 766.9L411.8 766.9L412.6 766.8L413.4 766.7L414.2 766.6L415 766.6L415.8 766.5L416.6 766.4L417.4 766.3L418.2 766.2L419 766.1L419.8 766L420.6 765.9L421.4 765.8L422.2 765.7L423 765.5L423.8 765.4L424.6 765.2L425.4 765.1L426.2 764.9L427 764.7L427.8 764.5L428.6 764.4L429.4 764.2L430.2 764L431 763.9L431.8 763.7L432.6 763.6L433.4 763.4L434.2 763.3L435 763.2L435.8 763.1L436.6 763L437.4 763L438.2 762.9L439 762.9L439.8 762.9L440.6 762.9L441.4 762.9L442.2 762.9L443 763L443.8 763L444.6 763L445.4 763L446.2 763.1L447 763.1L447.8 763.1L448.6 763.2L449.4 763.2L450.2 763.2L451 763.3L451.8 763.3L452.6 763.3L453.4 763.4L454.2 763.4L455 763.4L455.8 763.5L456.6 763.5L457.4 763.5L458.2 763.5L459 763.5L459.8 763.5L460.6 763.4L461.4 763.3L462.2 763.1L463 763L463.8 762.7L464.6 762.5L465.4 762.2L466.2 762L467 761.7L467.8 761.4L468.6 761.1L469.4 760.9L470.2 760.6L471 760.4L471.8 760.2L472.6 760L473.4 759.9L474.2 759.7L475 759.5L475.8 759.3L476.6 759.1L477.4 758.9L478.2 758.7L479 758.4L479.8 758.1L480.6 757.7L481.4 757.2L482.2 756.7L483 756.2L483.8 755.6L484.7 754.9L485.5 754.3L486.3 753.7L487.1 753L487.9 752.4L488.7 751.9L489.5 751.3L490.3 750.8L491.1 750.4L491.9 750.1L492.7 749.7L493.5 749.4L494.3 749.2L495.1 748.9L495.9 748.6L496.7 748.4L497.5 748.1L498.3 747.7L499.1 747.4L499.9 746.9L500.7 746.3L501.5 745.6L502.3 744.9L503.1 744.2L503.9 743.4L504.7 742.8L505.5 742.1L506.3 741.6L507.1 741.2L507.9 741L508.7 741L509.5 741.2L510.3 741.4L511.1 741.9L511.9 742.4L512.7 743L513.5 743.7L514.3 744.4L515.1 745.3L515.9 746.1L516.7 747L517.5 747.9L518.3 748.8L519.1 749.7L519.9 750.6L520.7 751.4L521.5 752.2L522.3 753.1L523.1 754L523.9 755.1L524.7 756.3L525.5 757.8L526.3 760L527.1 763.8L527.9 768L528.7 771.9L529.5 774.5L530.3 774.8L531.1 771.3L531.9 764.5L532.7 755.3L533.5 744.7L534.3 733.7L535.1 721.9L535.9 707.1L536.7 690L537.5 671.8L538.3 653.3L539.1 634.2L539.9 613.8L540.7 592.8L541.5 571.9L542.3 551.5L543.1 530.4L543.9 510.4L544.7 493.5L545.5 476.3L546.3 461.4L547.1 453.9L547.9 459.1L548.7 474.9L549.5 495.5L550.3 515.4L551.1 537.4L551.9 562L552.7 587.5L553.5 614.2L554.3 644.2L555.1 678.4L555.9 720.7L556.7 795.2L557.5 878.5L558.3 935.9L559.1 977.1L559.9 1004.9L560.7 1021.4L561.5 1035.3L562.3 1045.4L563.1 1050.3L563.9 1047.3L564.7 1034.5L565.5 1015.3L566.3 992.8L567.1 970.5L567.9 950.1L568.7 927.3L569.5 903.8L570.3 881.5L571.1 861L571.9 841L572.7 828.5L573.5 821.1L574.3 815.3L575.1 811.9L575.9 811.4L576.7 813.1L577.5 816.3L578.3 820.5L579.1 825.1L579.9 829.6L580.7 833.5L581.5 836.2L582.3 837.2L583.1 836.4L583.9 834.2L584.7 830.9L585.5 826.8L586.3 822.2L587.1 817.3L587.9 812.6L588.7 808.2L589.5 803.8L590.3 798.6L591.1 793.1L591.9 788.2L592.7 784.5L593.5 782.7L594.3 781.7L595.1 780.9L595.9 780.2L596.7 779.5L597.5 778.9L598.3 778.4L599.1 778L599.9 777.7L600.7 777.5L601.5 777.3L602.3 777.3L603.1 777.4L603.9 777.6L604.7 777.9L605.5 778.4L606.3 779L607.1 779.6L607.9 780.3L608.7 781.1L609.5 781.9L610.3 782.8L611.1 783.7L611.9 784.6L612.7 785.5L613.5 786.3L614.3 787.1L615.1 787.9L615.9 788.6L616.7 789.3L617.5 789.8L618.3 790.3L619.1 790.6L619.9 790.8L620.7 790.9L621.5 790.8L622.3 790.6L623.1 790.3L623.9 790L624.7 789.5L625.5 788.9L626.3 788.3L627.1 787.6L627.9 786.8L628.7 786L629.5 785.2L630.3 784.4L631.1 783.5L631.9 782.7L632.7 781.8L633.5 781L634.3 780.2L635.1 779.5L635.9 778.8L636.7 778.1L637.5 777.6L638.3 777.1L639.1 776.7L639.9 776.3L640.7 776.1L641.5 775.9L642.3 775.7L643.1 775.5L643.9 775.3L644.7 775.1L645.5 775L646.3 774.8L647.1 774.7L647.9 774.5L648.7 774.4L649.5 774.2L650.3 774.1L651.1 774L651.9 773.9L652.7 773.7L653.5 773.6L654.3 773.5L655.2 773.4L656 773.3L656.8 773.2L657.6 773.1L658.4 772.9L659.2 772.8L660 772.7L660.8 772.6L661.6 772.5L662.4 772.4L663.2 772.3L664 772.2L664.8 772.1L665.6 772L666.4 771.9L667.2 771.8L668 771.7L668.8 771.6L669.6 771.5L670.4 771.4L671.2 771.4L672 771.3L672.8 771.2L673.6 771.1L674.4 771L675.2 770.9L676 770.8L676.8 770.7L677.6 770.5L678.4 770.4L679.2 770.3L680 770.2L680.8 770L681.6 769.8L682.4 769.7L683.2 769.5L684 769.3L684.8 769.2L685.6 769L686.4 768.9L687.2 768.7L688 768.6L688.8 768.5L689.6 768.4L690.4 768.4L691.2 768.4L692 768.4L692.8 768.4L693.6 768.4L694.4 768.4L695.2 768.4L696 768.4L696.8 768.5L697.6 768.5L698.4 768.5L699.2 768.5L700 768.5L700.8 768.6L701.6 768.6L702.4 768.6L703.2 768.6L704 768.6L704.8 768.7L705.6 768.7L706.4 768.7L707.2 768.7L708 768.7L708.8 768.8L709.6 768.8L710.4 768.8L711.2 768.8L712 768.8L712.8 768.8L713.6 768.8L714.4 768.8L715.2 768.8L716 768.8L716.8 768.8L717.6 768.8L718.4 768.8L719.2 768.8L720 768.8L720.8 768.7L721.6 768.7L722.4 768.7L723.2 768.7L724 768.7L724.8 768.7L725.6 768.6L726.4 768.6L727.2 768.6L728 768.6L728.8 768.6L729.6 768.5L730.4 768.5L731.2 768.5L732 768.5L732.8 768.4L733.6 768.4L734.4 768.4L735.2 768.3L736 768.3L736.8 768.3L737.6 768.2L738.4 768.2L739.2 768.1L740 768.1L971.4 768" stroke="#111111" stroke-width="3.4" stroke-dasharray="14 7"/>
</g>
<g clip-path="url(#cLb)" stroke-linejoin="round">
<path d="M127 1329.8L128 1328.5L129 1328.7L130 1328.2L131 1329.9L132 1327.7L133 1328.6L134 1329.7L135 1329.9L136 1329.8L137 1329.3L138 1327.6L139 1327.9L140 1329.2L141 1329.2L142 1326.9L143 1327.8L144 1329.4L145 1328.8L146 1329L147 1328.5L148 1327.8L149 1328.9L150 1328.3L151 1328.1L152 1327.9L153 1329.2L154 1328.8L155 1326.8L156 1328.8L157 1328.6L158 1328.2L159 1329.1L160 1329L161 1327.1L162 1327.4L163 1329.6L164 1328.5L165 1329.8L166 1330L167 1328.6L168 1327.2L169 1328.7L170 1327.3L171 1329.5L172 1328.4L173 1328.5L174 1328.5L175 1327.7L176 1328L177 1329L178 1329.8L179 1329L180 1328.6L181 1329L182 1329.9L183 1330.1L184 1327.8L185 1328.3L186 1329.1L187 1328.1L188 1328.1L189 1328.7L190 1328.9L191 1327.5L192 1327.7L193 1327.2L194 1327.6L195 1328.3L196 1328.9L197 1328.8L198 1329L199 1328.4L200 1328.3L201 1327.4L202 1327.3L203 1328.5L204 1328.1L205 1329.5L206 1329.1L207 1329.4L208 1328.4L209 1328.9L210 1329.2L211 1328.5L212 1330.1L213 1328.5L214 1328L215 1327.3L216 1329.5L217 1328.8L218 1330.3L219 1327.2L220 1328.6L221 1328.2L222 1329.8L223 1328.7L224 1329L225 1329.5L226 1329.5L227 1329.3L228 1329.2L229 1330L230 1327.3L231 1328.5L232 1328.3L233 1328.4L234 1328.7L235 1328.6L236 1328L237 1328.7L238 1327.4L239 1328.7L240 1327.5L241 1329.3L242 1328.2L243 1327.9L244 1327.3L245 1327.3L246 1329.3L247 1329L248 1327.1L249 1328.8L250 1329.8L251 1327.5L252 1327.9L253 1329.5L254 1329L255 1327.3L256 1328.8L257 1328.9L258 1328.8L259 1327.3L260 1329.9L261 1328.1L262 1328.4L263 1328.1L264 1327.8L265 1328.5L266 1328L267 1328.1L268 1327.2L269 1330.5L270 1328.6L271 1328.3L272 1329.6L273 1327.2L274 1327.9L275 1329.9L276 1328.6L277 1327.7L278 1328.2L279 1329L280 1327.8L281 1328L282 1329.1L283 1328.5L284 1327.1L285 1327.2L286 1329.1L287 1328.8L288 1327L289 1327.7L290 1328.2L291 1328.5L292 1328.1L293 1327.4L294 1330.3L295 1327.5L296 1329L297 1329.4L298 1328.8L299 1329.2L300 1329.1L301 1328.2L302 1328.6L303 1327.3L304 1329.5L305 1327.5L306 1329.2L307 1328L308 1328.5L309 1327.3L310 1329.3L311 1328.1L312 1326.8L313 1327L314 1328.4L315 1327.4L316 1327.2L317 1327.6L318 1327L319 1327.2L320 1330.1L321 1327.5L322 1324.9L323 1328.4L324 1328.3L325 1328L326 1328.7L327 1328.3L328 1328.1L329 1326.3L330 1328.2L331 1327.5L332 1328.2L333 1328.8L334 1328.6L335 1329L336 1326.8L337 1328.2L338 1329.3L339 1328L340 1326.2L341 1327.8L342 1328L343 1327.7L344 1328.3L345 1328.9L346 1326.8L347 1330.9L348 1328.4L349 1328.8L350 1328.1L351 1328.6L352 1326.9L353 1326.5L354 1327.8L355 1329.1L356 1328.6L357 1328.3L358 1328.7L359 1329L360 1326.4L361 1327.1L362 1328.8L363 1328.7L364 1327.9L365 1328.5L366 1327.4L367 1327.2L368 1327.9L369 1328.7L370 1328.2L371 1329.4L372 1328.2L373 1326.3L374 1328.4L375 1327.3L376 1326.8L377 1326.4L378 1329.1L379 1328L380 1328.4L381 1326.6L382 1326.9L383 1328.8L384 1328.3L385 1327.5L386 1326L387 1328.2L388 1326.7L389 1328.6L390 1328.9L391 1327.1L392 1328.5L393 1329.2L394 1326.7L395 1327.3L396 1328.9L397 1327L398 1327.4L399 1327.3L400 1328.7L401 1328.2L402 1329.7L403 1329.7L404 1327L405 1328.2L406 1327.6L407 1328L408 1328.2L409 1328.2L410 1327.3L411 1328L412 1329.1L413 1326.7L414 1326.5L415 1327L416 1326.4L417 1327.5L418 1327.7L419 1326.7L420 1327.2L421 1328.8L422 1327.8L423 1327.6L424 1325.7L425 1327.6L426 1328.3L427 1328.6L428 1327.7L429 1328.1L430 1327.6L431 1328.4L432 1329L433 1327.7L434 1327.2L435 1327.4L436 1328.8L437 1327.7L438 1326.7L439 1327.1L440 1328L441 1327.8L442 1327.8L443 1327.1L444 1327.7L445 1326.9L446 1327.1L447 1327.1L448 1326.5L449 1326.5L450 1327.6L451 1327.4L452 1326.2L453 1327.3L454 1328L455 1327.4L456 1327.7L457 1326.7L458 1326.5L459 1325.3L460 1326.1L461 1325.9L462 1325L463 1325.6L464 1327L465 1326.2L466 1326.6L467 1326.1L468 1324.8L469 1323.2L470 1325L471 1325.3L472 1326L473 1325L474 1323.7L475 1325.6L476 1324.3L477 1323.8L478 1323.5L479 1322.1L480 1324L481 1323.7L482 1324.6L483 1324L484 1324.2L485 1323.1L486 1322.8L487 1322.5L488 1322.4L489 1323.5L490 1324L491 1323.9L492 1323.3L493 1323.4L494 1324L495 1322.6L496 1323.9L497 1323L498 1323.4L499 1322.5L500 1322.3L501 1323.5L502 1322.3L503 1320.8L504 1322L505 1323.3L506 1320.3L507 1322.9L508 1321.3L509 1322.8L510 1321.1L511 1321.8L512 1321.1L513 1321.2L514 1322.6L515 1322.6L516 1321.8L517 1320.2L518 1320.6L519 1319.7L520 1319.9L521 1318.5L522 1317.2L523 1315.8L524 1314.5L525 1313.1L526 1310.2L527 1306.8L528 1303.2L529 1299.8L530 1293.3L531 1285.6L532 1277.9L533 1270.2L534 1258.9L535 1246.7L536 1234.4L537 1222.2L538 1212L539 1202.3L540 1192.7L541 1203.1L542 1215.8L543 1228.4L544 1238.4L545 1248.1L546 1257.7L547 1263L548 1267.9L549 1272.7L550 1270.7L551 1268.7L552 1266.7L553 1265.7L554 1264.7L555 1263.7L556 1262.7L557 1261L558 1259.3L559 1258.5L560 1266L561 1273.5L562 1281L563 1286.5L564 1274.4L565 1262.4L566 1250.8L567 1241.1L568 1231.4L569 1225.4L570 1233.9L571 1242.5L572 1251.4L573 1260.3L574 1269.1L575 1277.8L576 1286.6L577 1293.1L578 1294.4L579 1295.6L580 1296.9L581 1297.9L582 1298.4L583 1298.9L584 1299.4L585 1300.3L586 1301.8L587 1303.3L588 1304.8L589 1305.9L590 1306.3L591 1306.7L592 1307.1L593 1307.5L594 1309.4L595 1312.7L596 1316L597 1318.5L598 1320L599 1321.5L600 1322.1L601 1323.5L602 1323.1L603 1324.7L604 1324.5L605 1324.6L606 1322.8L607 1325.7L608 1324.5L609 1325.8L610 1322.7L611 1323.6L612 1325L613 1323.6L614 1323.6L615 1324.5L616 1324L617 1324.5L618 1324.5L619 1325.9L620 1325.2L621 1323.7L622 1324.2L623 1322.4L624 1323.2L625 1324L626 1326.2L627 1325L628 1324.3L629 1322.7L630 1324.1L631 1325.8L632 1323.7L633 1323.6L634 1323.4L635 1323.2L636 1325.3L637 1324.6L638 1324.1L639 1323.7L640 1325.1L641 1323.7L642 1323.8L643 1326.7L644 1324L645 1324.4L646 1325.2L647 1325.1L648 1324.2L649 1323.2L650 1324.2L651 1326.1L652 1325.1L653 1324.7L654 1327L655 1324.8L656 1325.5L657 1325.3L658 1326L659 1324.7L660 1326L661 1326.1L662 1325L663 1324.4L664 1325.7L665 1325.5L666 1324.5L667 1324.8L668 1325.2L669 1324.3L670 1324.6L671 1326.3L672 1326.4L673 1323.8L674 1326.2L675 1327.2L676 1325.9L677 1325.5L678 1324.8L679 1323.9L680 1325.7L681 1327.5L682 1326.3L683 1325.2L684 1324.5L685 1326L686 1326.6L687 1326.3L688 1327.2L689 1326.9L690 1323.9L691 1324.5L692 1326.6L693 1327.2L694 1325.3L695 1325.5L696 1325.7L697 1327.9L698 1326.3L699 1327L700 1325.2L701 1328.6L702 1325.5L703 1326.8L704 1325.4L705 1326.7L706 1325.2L707 1326.6L708 1326.9L709 1326.8L710 1325L711 1327L712 1326L713 1325.5L714 1327.3L715 1326.2L716 1326.5L717 1324.9L718 1326.9L719 1325.9L720 1327.4L721 1327.6L722 1325.8L723 1325.6L724 1325.7L725 1328.9L726 1324.9L727 1326L728 1326L729 1324.3L730 1325.6L731 1326.2L732 1327.3L733 1326.5L734 1325.5L735 1328.3L736 1326.1L737 1326.9L738 1327L739 1325.5L740 1326.6L741 1327.8L742 1327.2L743 1326L744 1325.8L745 1328.1L746 1327.2L747 1326.2L748 1325.2L749 1325.9L750 1327.1L751 1325.8L752 1327.3L753 1326.2L754 1326.6L755 1325.5L756 1325.3L757 1325.1L758 1326.3L759 1326.5L760 1326.1L761 1324.4L762 1326.4L763 1326.2L764 1326.5L765 1327.4L766 1325.7L767 1325.9L768 1326.4L769 1327L770 1326.9L771 1326.9L772 1327.9L773 1327L774 1325.6L775 1326.1L776 1326.9L777 1325.9L778 1326.8L779 1327.1L780 1326.5L781 1326.3L782 1324.9L783 1326.5L784 1326.6L785 1326.1L786 1327.8L787 1325.4L788 1325L789 1326.7L790 1327.1L791 1326.5L792 1326.3L793 1327.3L794 1328.1L795 1326.7L796 1327.3L797 1325.4L798 1326.8L799 1326.7L800 1326.6L801 1327.7L802 1327.5L803 1324.9L804 1325.5L805 1327.8L806 1326.4L807 1327L808 1326L809 1325.8L810 1327.1L811 1325.8L812 1327.2L813 1326.4L814 1325.2L815 1326.2L816 1326.5L817 1325.4L818 1327.3L819 1326.2L820 1326.9L821 1328.2L822 1326.8L823 1326.4L824 1328.6L825 1328.5L826 1326.9L827 1326.8L828 1326.9L829 1325.3L830 1324L831 1327L832 1326.5L833 1327.4L834 1325.8L835 1328.6L836 1325.8L837 1328.5L838 1326.5L839 1326.4L840 1327.7L841 1326.7L842 1325.5L843 1326.9L844 1326.6L845 1327.9L846 1327.2L847 1328.3L848 1325.5L849 1327.1L850 1325.9L851 1326L852 1327.2L853 1326.3L854 1325.9L855 1325.6L856 1329.5L857 1325.5L858 1325.6L859 1326.6L860 1327L861 1326.7L862 1326.1L863 1328.6L864 1325.3L865 1328L866 1324.8L867 1326.5L868 1325.9L869 1326.6L870 1327.3L871 1328.1L872 1327.5L873 1326.1L874 1327.3L875 1326.9L876 1327L877 1327.7L878 1327.4L879 1325.6L880 1325.6L881 1324.4L882 1327.7L883 1327.9L884 1326.8L885 1328.3L886 1326.6L887 1325.4L888 1326.6L889 1327.2L890 1328.7L891 1327L892 1327.9L893 1326.6L894 1326.8L895 1329L896 1328.2L897 1327.9L898 1326.8L899 1326.2L900 1328.1L901 1327.5L902 1326.6L903 1328.5L904 1327.9L905 1327.7L906 1327.7L907 1325.8L908 1326.8L909 1328.5L910 1325.8L911 1327.2L912 1327.2L913 1325.7L914 1327L915 1327.8L916 1327.8L917 1327.1L918 1326.3L919 1326.3L920 1327.3L921 1328.2L922 1326.3L923 1328.5L924 1327.3L925 1326.4L926 1328L927 1327.2L928 1327.9L929 1327.8L930 1327.5L931 1326.5L932 1327.7L933 1327.7L934 1325.8L935 1325.8L936 1326.2L937 1327.2L938 1327.1L939 1326.8L940 1327.1L941 1327L942 1326.1L943 1325.2L944 1326.8L945 1327.3L946 1326.8L947 1327.3L948 1327.8L949 1326.9L950 1327.5L951 1326L952 1326.8L953 1326.9L954 1327.6L955 1326.2L956 1326L957 1326.7L958 1327.7L959 1327L960 1329.8L961 1326.9L962 1326.4L963 1328.4L964 1326.8L965 1328.3L966 1327.6L967 1327.7L968 1325.8L969 1326.7L970 1327.3L971 1327.2L972 1324.9L972 1340.5L971 1338.2L970 1338.1L969 1338.7L968 1339.6L967 1337.7L966 1337.8L965 1337.1L964 1338.6L963 1337L962 1339L961 1338.5L960 1335.6L959 1338.4L958 1337.7L957 1338.7L956 1339.4L955 1339.2L954 1337.8L953 1338.5L952 1338.6L951 1339.4L950 1337.9L949 1338.5L948 1337.6L947 1338.1L946 1338.6L945 1338.1L944 1338.6L943 1340.2L942 1339.3L941 1338.4L940 1338.3L939 1338.6L938 1338.3L937 1338.2L936 1339.2L935 1339.6L934 1339.6L933 1337.7L932 1337.7L931 1338.9L930 1337.9L929 1337.6L928 1337.5L927 1338.2L926 1337.4L925 1339L924 1338.1L923 1336.9L922 1339.1L921 1337.2L920 1338.1L919 1339.1L918 1339.1L917 1338.3L916 1337.6L915 1337.6L914 1338.4L913 1339.7L912 1338.2L911 1338.2L910 1339.6L909 1336.9L908 1338.6L907 1339.6L906 1337.7L905 1337.7L904 1337.5L903 1336.9L902 1338.8L901 1337.9L900 1337.3L899 1339.2L898 1338.6L897 1337.5L896 1337.2L895 1336.4L894 1338.6L893 1338.8L892 1337.5L891 1338.4L890 1336.7L889 1338.2L888 1338.8L887 1340L886 1338.8L885 1337.1L884 1338.6L883 1337.5L882 1337.7L881 1341L880 1339.8L879 1339.8L878 1338L877 1337.7L876 1338.4L875 1338.5L874 1338.1L873 1339.3L872 1337.9L871 1337.3L870 1338.1L869 1338.8L868 1339.5L867 1338.9L866 1340.6L865 1337.4L864 1340.1L863 1336.8L862 1339.3L861 1338.7L860 1338.4L859 1338.8L858 1339.8L857 1339.9L856 1335.9L855 1339.8L854 1339.5L853 1339.1L852 1338.2L851 1339.4L850 1339.5L849 1338.3L848 1339.9L847 1337.1L846 1338.2L845 1337.5L844 1338.8L843 1338.5L842 1339.9L841 1338.7L840 1337.7L839 1339L838 1338.9L837 1336.9L836 1339.6L835 1336.8L834 1339.6L833 1338L832 1338.9L831 1338.4L830 1341.4L829 1340.1L828 1338.5L827 1338.6L826 1338.5L825 1336.9L824 1336.8L823 1339L822 1338.6L821 1337.2L820 1338.5L819 1339.2L818 1338.1L817 1340L816 1338.9L815 1339.2L814 1340.2L813 1339L812 1338.2L811 1339.6L810 1338.3L809 1339.6L808 1339.4L807 1338.4L806 1339L805 1337.6L804 1339.9L803 1340.5L802 1337.9L801 1337.7L800 1338.8L799 1338.7L798 1338.6L797 1340L796 1338.1L795 1338.7L794 1337.3L793 1338.1L792 1339.1L791 1338.9L790 1338.3L789 1338.7L788 1340.4L787 1340L786 1337.6L785 1339.3L784 1338.8L783 1338.9L782 1340.5L781 1339.1L780 1338.9L779 1338.3L778 1338.6L777 1339.5L776 1338.5L775 1339.3L774 1339.8L773 1338.4L772 1337.5L771 1338.5L770 1338.5L769 1338.4L768 1339L767 1339.5L766 1339.7L765 1338L764 1338.9L763 1339.2L762 1339L761 1341L760 1339.3L759 1338.9L758 1339.1L757 1340.3L756 1340.1L755 1339.9L754 1338.8L753 1339.2L752 1338.1L751 1339.6L750 1338.3L749 1339.5L748 1340.2L747 1339.2L746 1338.2L745 1337.3L744 1339.6L743 1339.4L742 1338.2L741 1337.6L740 1338.8L739 1339.9L738 1338.4L737 1338.5L736 1339.3L735 1337.1L734 1339.9L733 1338.9L732 1338.1L731 1339.2L730 1339.8L729 1341.1L728 1339.4L727 1339.4L726 1340.5L725 1336.5L724 1339.7L723 1339.8L722 1339.6L721 1337.8L720 1338L719 1339.5L718 1338.5L717 1340.5L716 1338.9L715 1339.2L714 1338.1L713 1339.9L712 1339.4L711 1338.4L710 1340.4L709 1338.6L708 1338.5L707 1338.8L706 1340.2L705 1338.7L704 1340L703 1338.6L702 1339.9L701 1336.8L700 1340.2L699 1338.4L698 1339.1L697 1337.5L696 1339.7L695 1339.9L694 1340.1L693 1338.2L692 1338.8L691 1340.9L690 1341.5L689 1338.5L688 1338.2L687 1339.1L686 1338.8L685 1339.4L684 1340.9L683 1340.2L682 1339.1L681 1337.9L680 1339.7L679 1341.5L678 1340.6L677 1339.9L676 1339.5L675 1338.2L674 1339.2L673 1341.6L672 1339L671 1339.1L670 1340.8L669 1341.1L668 1340.2L667 1340.6L666 1340.9L665 1339.9L664 1339.7L663 1341L662 1340.4L661 1339.3L660 1339.4L659 1340.7L658 1339.4L657 1340.1L656 1339.9L655 1340.6L654 1338.4L653 1340.7L652 1340.3L651 1339.3L650 1341.2L649 1342.2L648 1341.2L647 1340.3L646 1340.2L645 1341L644 1341.4L643 1338.7L642 1341.6L641 1341.7L640 1340.3L639 1341.7L638 1341.3L637 1340.8L636 1340.1L635 1342.2L634 1342L633 1341.8L632 1341.7L631 1339.6L630 1341.3L629 1342.7L628 1341.1L627 1340.4L626 1339.2L625 1341.4L624 1342.2L623 1343L622 1341.2L621 1341.7L620 1340.2L619 1339.5L618 1340.9L617 1340.9L616 1341.4L615 1340.9L614 1341.8L613 1341.8L612 1340.4L611 1341.8L610 1342.7L609 1339.6L608 1340.9L607 1339.7L606 1342.6L605 1340.8L604 1340.9L603 1340.7L602 1342.3L601 1341.9L600 1343.3L599 1343.9L598 1345.4L597 1346.9L596 1349.4L595 1352.7L594 1356L593 1357.9L592 1358.3L591 1358.7L590 1359.1L589 1359.5L588 1360.6L587 1362.1L586 1363.6L585 1365.1L584 1366L583 1366.5L582 1367L581 1367.5L580 1368.5L579 1369.8L578 1371L577 1372.3L576 1378.8L575 1387.6L574 1396.3L573 1405.1L572 1414L571 1422.9L570 1431.5L569 1440L568 1434L567 1424.3L566 1414.6L565 1403L564 1391L563 1378.9L562 1384.4L561 1391.9L560 1399.4L559 1406.9L558 1406.1L557 1404.4L556 1402.7L555 1401.7L554 1400.7L553 1399.7L552 1398.7L551 1396.7L550 1394.7L549 1392.7L548 1397.5L547 1402.4L546 1407.7L545 1417.3L544 1427L543 1437L542 1449.6L541 1462.3L540 1472.7L539 1463.1L538 1453.4L537 1443.2L536 1431L535 1418.7L534 1406.5L533 1395.2L532 1387.5L531 1379.8L530 1372.1L529 1365.7L528 1362.2L527 1358.7L526 1355.2L525 1352.3L524 1350.9L523 1349.6L522 1348.2L521 1346.9L520 1345.5L519 1345.7L518 1344.8L517 1345.2L516 1343.6L515 1342.8L514 1342.8L513 1344.2L512 1344.3L511 1343.6L510 1344.3L509 1342.6L508 1344.1L507 1342.5L506 1345.1L505 1342.1L504 1343.4L503 1344.6L502 1343.1L501 1341.9L500 1343.1L499 1342.9L498 1342L497 1342.4L496 1341.5L495 1342.8L494 1341.4L493 1342L492 1342.1L491 1341.5L490 1341.4L489 1341.9L488 1343L487 1342.9L486 1342.6L485 1342.3L484 1341.2L483 1341.4L482 1340.8L481 1341.7L480 1341.4L479 1343.3L478 1341.9L477 1341.6L476 1341.1L475 1339.8L474 1341.7L473 1340.4L472 1339.4L471 1340.1L470 1340.4L469 1342.2L468 1340.6L467 1339.3L466 1338.8L465 1339.2L464 1338.4L463 1339.8L462 1340.4L461 1339.5L460 1339.3L459 1340.1L458 1338.9L457 1338.7L456 1337.7L455 1338L454 1337.4L453 1338.1L452 1339.2L451 1338L450 1337.8L449 1338.9L448 1338.9L447 1338.3L446 1338.3L445 1338.5L444 1337.7L443 1338.3L442 1337.6L441 1337.6L440 1337.4L439 1338.3L438 1338.7L437 1337.7L436 1336.6L435 1338L434 1338.2L433 1337.7L432 1336.4L431 1337L430 1337.8L429 1337.3L428 1337.7L427 1336.8L426 1337.1L425 1337.8L424 1339.7L423 1337.8L422 1337.6L421 1336.6L420 1338.2L419 1338.7L418 1337.7L417 1337.9L416 1339L415 1338.4L414 1338.9L413 1338.7L412 1336.3L411 1337.4L410 1338.1L409 1337.2L408 1337.2L407 1337.4L406 1337.8L405 1337.2L404 1338.4L403 1335.7L402 1335.7L401 1337.2L400 1336.7L399 1338.1L398 1338L397 1338.4L396 1336.5L395 1338.1L394 1338.7L393 1336.2L392 1336.9L391 1338.3L390 1336.5L389 1336.8L388 1338.7L387 1337.2L386 1339.4L385 1337.9L384 1337.1L383 1336.6L382 1338.5L381 1338.8L380 1337L379 1337.4L378 1336.3L377 1339L376 1338.6L375 1338.1L374 1337L373 1339.1L372 1337.2L371 1336L370 1337.2L369 1336.7L368 1337.5L367 1338.2L366 1338L365 1336.9L364 1337.5L363 1336.7L362 1336.6L361 1338.3L360 1339L359 1336.4L358 1336.7L357 1337.1L356 1336.8L355 1336.3L354 1337.6L353 1338.9L352 1338.5L351 1336.8L350 1337.3L349 1336.6L348 1337L347 1334.5L346 1338.6L345 1336.5L344 1337.1L343 1337.7L342 1337.4L341 1337.6L340 1339.2L339 1337.4L338 1336.1L337 1337.2L336 1338.6L335 1336.4L334 1336.8L333 1336.6L332 1337.2L331 1337.9L330 1337.2L329 1339.1L328 1337.3L327 1337.1L326 1336.7L325 1337.4L324 1337.1L323 1337L322 1340.5L321 1337.9L320 1335.3L319 1338.2L318 1338.4L317 1337.8L316 1338.2L315 1338L314 1337L313 1338.4L312 1338.6L311 1337.3L310 1336.1L309 1338.1L308 1336.9L307 1337.4L306 1336.2L305 1337.9L304 1335.9L303 1338.1L302 1336.8L301 1337.2L300 1336.3L299 1336.2L298 1336.6L297 1336L296 1336.4L295 1337.9L294 1335.1L293 1338L292 1337.3L291 1336.9L290 1337.2L289 1337.7L288 1338.4L287 1336.6L286 1336.3L285 1338.2L284 1338.3L283 1336.9L282 1336.3L281 1337.4L280 1337.6L279 1336.4L278 1337.2L277 1337.7L276 1336.8L275 1335.5L274 1337.5L273 1338.2L272 1335.8L271 1337.1L270 1336.8L269 1334.9L268 1338.2L267 1337.3L266 1337.4L265 1336.9L264 1337.6L263 1337.3L262 1337L261 1337.3L260 1335.5L259 1338.1L258 1336.6L257 1336.5L256 1336.6L255 1338.1L254 1336.4L253 1335.9L252 1337.5L251 1337.9L250 1335.6L249 1336.6L248 1338.3L247 1336.4L246 1336.1L245 1338.1L244 1338.1L243 1337.5L242 1337.2L241 1336.1L240 1337.9L239 1336.7L238 1338L237 1336.7L236 1337.4L235 1336.8L234 1336.7L233 1337L232 1337.1L231 1336.9L230 1338.1L229 1335.4L228 1336.2L227 1336.1L226 1335.9L225 1335.9L224 1336.4L223 1336.7L222 1335.6L221 1337.2L220 1336.8L219 1338.2L218 1335.1L217 1336.6L216 1335.9L215 1338.1L214 1337.4L213 1336.9L212 1335.3L211 1336.9L210 1336.2L209 1336.5L208 1337L207 1336L206 1336.3L205 1335.9L204 1337.3L203 1336.9L202 1338.1L201 1338L200 1337.1L199 1337L198 1336.4L197 1336.6L196 1336.5L195 1337.1L194 1337.8L193 1338.2L192 1337.7L191 1337.9L190 1336.5L189 1336.7L188 1337.3L187 1337.3L186 1336.3L185 1337.1L184 1337.6L183 1335.3L182 1335.5L181 1336.4L180 1336.8L179 1336.4L178 1335.6L177 1336.4L176 1337.4L175 1337.7L174 1336.9L173 1336.9L172 1337L171 1335.9L170 1338.1L169 1336.7L168 1338.2L167 1336.8L166 1335.4L165 1335.6L164 1336.9L163 1335.8L162 1338L161 1338.3L160 1336.4L159 1336.3L158 1337.2L157 1336.8L156 1336.6L155 1338.6L154 1336.6L153 1336.2L152 1337.5L151 1337.3L150 1337.1L149 1336.5L148 1337.6L147 1336.9L146 1336.4L145 1336.6L144 1336L143 1337.6L142 1338.5L141 1336.2L140 1336.2L139 1337.5L138 1337.8L137 1336.1L136 1335.6L135 1335.5L134 1335.7L133 1336.8L132 1337.7L131 1335.5L130 1337.2L129 1336.7L128 1336.9L127 1335.6Z" fill="#d6d6d6" stroke="none"/>
<path d="M126.6 1330.9L128.3 1327L130 1325.5L131.7 1326.2L133.4 1319L135.1 1323.3L136.8 1339L138.5 1343.8L140.2 1330L141.9 1321.6L143.6 1321L145.3 1327.8L147 1338.4L148.7 1345.9L150.4 1336.5L152.1 1328.4L153.8 1334.7L155.5 1324.4L157.2 1318.6L158.9 1312.6L160.6 1325.3L162.3 1346.3L164 1339.2L165.7 1343.7L167.4 1339.4L169.1 1342.3L170.8 1334.1L172.5 1329.3L174.2 1333.3L175.9 1336.5L177.6 1324.2L179.3 1322.1L181 1331.3L182.7 1345.7L184.4 1345.2L186.1 1337.4L187.8 1328.5L189.5 1329.9L191.2 1331L192.9 1348.2L194.6 1348L196.3 1343.8L198 1322.6L199.7 1328.8L201.4 1328.2L203.1 1333.9L204.8 1321.2L206.5 1319.4L208.2 1321.1L209.9 1327.9L211.6 1334.5L213.3 1329.9L215 1334.1L216.7 1316.6L218.4 1319.6L220.1 1329.9L221.8 1334.5L223.5 1347.6L225.2 1343.3L226.9 1342.7L228.6 1334.4L230.3 1325.2L232 1325.6L233.7 1328.6L235.4 1342.6L237.1 1341.5L238.8 1338.4L240.5 1339.3L242.2 1334.6L243.9 1341.9L245.6 1336L247.3 1328.6L249 1325.4L250.7 1337.4L252.4 1330.9L254.1 1321.3L255.8 1323.1L257.5 1311.8L259.2 1325.3L260.9 1328.4L262.6 1326.6L264.3 1331.6L266 1326.8L267.7 1339.1L269.4 1330.3L271.1 1330.4L272.8 1335.7L274.5 1338.4L276.2 1340.3L277.9 1337.3L279.6 1335.6L281.3 1328.9L283 1328.8L284.7 1330L286.4 1329.6L288.1 1328.7L289.8 1328.5L291.5 1329.3L293.2 1329.4L294.9 1332.6L296.6 1335L298.3 1333.8L300 1343.9L301.7 1346.2L303.4 1345.5L305.1 1330.7L306.8 1336.1L308.5 1332.1L310.2 1328.4L311.9 1334.2L313.6 1327.2L315.3 1311.1L317 1316.8L318.7 1324.7L320.4 1333.7L322.1 1333.4L323.8 1343.4L325.5 1338.2L327.2 1330.2L328.9 1336.1L330.6 1331.8L332.3 1333.7L334 1329.8L335.7 1334.7L337.4 1337.8L339.1 1344.2L340.8 1339.9L342.5 1335.3L344.2 1327.1L345.9 1317.4L347.6 1319.3L349.3 1336L351 1339.9L352.7 1342.1L354.4 1347.7L356.1 1338.7L357.8 1341.8L359.5 1339.2L361.2 1329.9L362.9 1323.9L364.6 1322.7L366.3 1316.4L368 1324.3L369.7 1327.6L371.4 1334.6L373.1 1339.4L374.8 1329.2L376.5 1325.3L378.2 1326.5L379.9 1327L381.6 1325.2L383.3 1327.7L385 1330.6L386.7 1329.1L388.4 1328.2L390.1 1324.8L391.8 1327.1L393.5 1327.2L395.2 1330.4L396.9 1329.5L398.6 1336.7L400.3 1339.7L402 1340.1L403.7 1328.8L405.4 1328.1L407.1 1334.8L408.8 1332.1L410.5 1331.8L412.2 1326L413.9 1332.2L415.6 1338.5L417.3 1331.6L419 1336L420.7 1338.7L422.4 1342.8L424.1 1340.3L425.8 1347.1L427.5 1339.1L429.2 1326.1L430.9 1316L432.6 1326L434.3 1322.6L436 1323.5L437.7 1325.3L439.4 1333.7L441.1 1332.5L442.8 1330.9L444.5 1330.1L446.2 1336.3L447.9 1330.9L449.6 1331.1L451.3 1333.2L453 1334.6L454.7 1323L456.4 1325.2L458.1 1344L459.8 1335.7L461.5 1330.5L463.2 1334.1L464.9 1326.2L466.6 1331.1L468.3 1332.6L470 1338L470.8 1335.6L471.6 1333.8L472.4 1332.5L473.2 1331.7L474 1331.3L474.8 1331.1L475.6 1331L476.4 1331.3L477.2 1333.4L478 1336.5L478.8 1339.6L479.6 1341.7L480.4 1341.9L481.2 1341.2L482 1339.9L482.8 1338.4L483.6 1336.8L484.4 1335.4L485.2 1334.4L486 1334L486.8 1334.5L487.6 1335.9L488.4 1337.9L489.2 1340L490 1342.1L490.8 1343.9L491.6 1344.9L492.4 1344.9L493.2 1343.8L494 1342.2L494.8 1340.2L495.6 1338.2L496.4 1336.7L497.2 1335.9L498 1335.5L498.8 1335.2L499.6 1335L500.4 1334.7L501.2 1334.3L502 1333.5L502.8 1331.2L503.6 1328.2L504.4 1325.3L505.2 1323.5L506 1323.3L506.8 1323.7L507.6 1324.4L508.4 1325.2L509.2 1325.8L510 1326L510.8 1325.7L511.6 1324.8L512.4 1323.6L513.2 1322.3L514 1321.2L514.8 1320.4L515.6 1320.3L516.4 1321.5L517.2 1323.1L518 1324L518.8 1322.4L519.6 1318.7L520.4 1314.7L521.2 1312.4L522 1312.6L522.8 1313.6L523.6 1315.5L524.4 1318L525.2 1321.1L526 1324.7L526.8 1330.7L527.6 1344.7L528.4 1362.4L529.2 1378.7L530 1388.4L530.8 1388.1L531.6 1381.6L532.4 1371L533.2 1357.7L534 1343L534.8 1328.6L535.6 1315.9L536.4 1306.1L537.2 1296.8L538 1287.1L538.8 1278L539.6 1270.1L540.4 1264.2L541.2 1261.2L542 1261.8L542.8 1266.2L543.6 1272L544.4 1276.9L545.2 1278.7L546 1278.2L546.8 1277.1L547.6 1275.9L548.4 1275L549.2 1275.1L550 1282.6L550.8 1290.1L551.6 1286.2L552.4 1275.1L553.2 1271.3L554 1281.8L554.8 1300.5L555.6 1320.1L556.4 1335.3L557.2 1351.4L558 1366.4L558.8 1376.5L559.6 1377.2L560.4 1363.5L561.2 1340L562 1313.6L562.8 1290.8L563.6 1272.3L564.4 1252.3L565.2 1233L566 1217L566.8 1206.6L567.6 1204.1L568.4 1207.5L569.2 1214.6L570 1224.7L570.8 1236.8L571.6 1250.1L572.4 1263.8L573.2 1278.5L574 1298.3L574.8 1320.8L575.6 1343.1L576.4 1362L577.2 1376.5L578 1390.8L578.8 1403.1L579.6 1411L580.4 1412L581.2 1405.5L582 1393.7L582.8 1378.9L583.6 1363.8L584.4 1350.5L585.2 1339.5L586 1327.2L586.8 1315.1L587.6 1304.8L588.4 1297.7L589.2 1295.5L590 1295.7L590.8 1296.3L591.6 1297.2L592.4 1298.4L593.2 1299.8L594 1302.9L594.8 1311.3L595.6 1322.3L596.4 1332.2L597.2 1337.7L598 1337.7L598.8 1336.6L599.6 1334.7L600.4 1332.5L601.2 1330.2L602 1327.9L602.8 1325.9L603.6 1324.6L604.4 1324.1L605.2 1325.4L606 1328.3L606.8 1331.4L607.6 1334L608.4 1337L609.2 1340.2L610 1343.2L610.8 1345.6L611.6 1347.3L612.4 1347.8L613.2 1347.6L614 1347.2L614.8 1346.6L615.6 1345.8L616.4 1344.9L617.2 1344L618 1343L618.8 1341.7L619.6 1339.7L620.4 1337.5L621.2 1335.2L622 1333L622.8 1331.3L623.6 1330.2L624.4 1330L625.2 1330.3L626 1330.7L626.8 1331.3L627.6 1331.9L628.4 1332.5L629.2 1332.8L630 1333L630.8 1332.6L631.6 1331.5L632.4 1329.8L633.2 1327.9L634 1326L634.8 1324.1L635.6 1322.6L636.4 1321.5L637.2 1320.4L638 1319.4L638.8 1318.7L639.6 1318.2L640.4 1319.4L641.2 1325.1L642 1333.1L642.8 1340.8L643.6 1345.5L644.4 1345.9L645.2 1345.7L646 1345.3L646.8 1344.2L647.6 1342.4L648.4 1339.5L649.2 1335.5L650 1330L651.5 1324.4L653.2 1327.7L654.9 1328.9L656.6 1331.7L658.3 1333.7L660 1332.1L661.7 1328.5L663.4 1329.4L665.1 1327.7L666.8 1334.6L668.5 1332.9L670.2 1337.6L671.9 1338.8L673.6 1328.3L675.3 1334.1L677 1325.7L678.7 1323.2L680.4 1326.7L682.1 1338.9L683.8 1340.5L685.5 1338.9L687.2 1324L688.9 1325.8L690.6 1327.2L692.3 1324.4L694 1322L695.7 1327.9L697.4 1328.5L699.1 1327.4L700.8 1322.3L702.5 1327.6L704.2 1328.3L705.9 1333.4L707.6 1329L709.3 1326.2L711 1341.1L712.7 1343L714.4 1341.8L716.1 1335.8L717.8 1330.9L719.5 1328.9L721.2 1332.5L722.9 1333L724.6 1339L726.3 1337.4L728 1333.5L729.7 1335.3L731.4 1323.5L733.1 1331.9L734.8 1330.8L736.5 1338.1L738.2 1345L739.9 1346.4L741.6 1340.4L743.3 1330.5L745 1334.5L746.7 1335.8L748.4 1335.1L750.1 1331.9L751.8 1334.1L753.5 1332.4L755.2 1329L756.9 1328.3L758.6 1335.8L760.3 1341.8L762 1339.3L763.7 1337.8L765.4 1330.4L767.1 1328L768.8 1325.1L770.5 1326L772.2 1332.4L773.9 1328.4L775.6 1324.9L777.3 1323.5L779 1329.9L780.7 1333L782.4 1330.6L784.1 1333.6L785.8 1330.1L787.5 1335.6L789.2 1331.3L790.9 1339.4L792.6 1348.3L794.3 1344.4L796 1336.2L797.7 1325L799.4 1318.4L801.1 1322.6L802.8 1331.3L804.5 1333.1L806.2 1341.5L807.9 1344.2L809.6 1345.1L811.3 1343.1L813 1342.3L814.7 1330.3L816.4 1322.3L818.1 1326.4L819.8 1329.6L821.5 1319.7L823.2 1314.3L824.9 1318.1L826.6 1331.7L828.3 1339.7L830 1340.3L831.7 1332.5L833.4 1333.7L835.1 1326.7L836.8 1316.4L838.5 1322.3L840.2 1330.6L841.9 1334.9L843.6 1342.9L845.3 1331.5L847 1327.2L848.7 1325.4L850.4 1330.4L852.1 1333.4L853.8 1341.8L855.5 1343.7L857.2 1344.3L858.9 1335.2L860.6 1326.5L862.3 1331L864 1328.2L865.7 1333.4L867.4 1333.1L869.1 1322.9L870.8 1340.6L872.5 1346.9L874.2 1348.9L875.9 1347.1L877.6 1330.8L879.3 1336L881 1334.6L882.7 1339.5L884.4 1335.7L886.1 1343.1L887.8 1343.6L889.5 1330.7L891.2 1333.6L892.9 1322.6L894.6 1335.2L896.3 1338.9L898 1328L899.7 1332.2L901.4 1330.9L903.1 1336.9L904.8 1332.9L906.5 1319.8L908.2 1324.6L909.9 1328L911.6 1336.1L913.3 1337.7L915 1345.7L916.7 1341.5L918.4 1330.5L920.1 1331.3L921.8 1330.8L923.5 1329.9L925.2 1333.4L926.9 1335L928.6 1325L930.3 1328.4L932 1325.9L933.7 1331.5L935.4 1332.5L937.1 1329.3L938.8 1330.1L940.5 1330.9L942.2 1332.7L943.9 1330.3L945.6 1336.8L947.3 1337.4L949 1340.4L950.7 1329.8L952.4 1330.1L954.1 1327.2L955.8 1318.4L957.5 1322.1L959.2 1323.3L960.9 1332.6L962.6 1345.1L964.3 1341.2L966 1332.9L967.7 1335.3L969.4 1332.8" stroke="#111111" stroke-width="4.1" fill="none"/>
</g>
<path d="M126.6 5.0V1529.7M971.4 5.0V1529.7M126.6 6.0H971.4M126.6 399.2H971.4M126.6 1136.0H971.4M126.6 1528.7H971.4" stroke="#111111" stroke-width="2.0" fill="none"/>
<path d="M127.8 6.0v15.4M127.8 383.8v30.8M127.8 1120.6v30.8M127.8 1528.7v-15.4M341.6 6.0v15.4M341.6 383.8v30.8M341.6 1120.6v30.8M341.6 1528.7v-15.4M555.4 6.0v15.4M555.4 383.8v30.8M555.4 1120.6v30.8M555.4 1528.7v-15.4M769.2 6.0v15.4M769.2 383.8v30.8M769.2 1120.6v30.8M769.2 1528.7v-15.4M234.7 6.0v7.6M234.7 391.59999999999997v15.2M234.7 1128.4v15.2M234.7 1528.7v-7.6M448.5 6.0v7.6M448.5 391.59999999999997v15.2M448.5 1128.4v15.2M448.5 1528.7v-7.6M662.3 6.0v7.6M662.3 391.59999999999997v15.2M662.3 1128.4v15.2M662.3 1528.7v-7.6M876.1 6.0v7.6M876.1 391.59999999999997v15.2M876.1 1128.4v15.2M876.1 1528.7v-7.6" stroke="#111111" stroke-width="2.0" fill="none"/>
<text x="127.8" y="1564" font-size="29.5" text-anchor="middle" font-family="'Liberation Sans', Arial, Helvetica, sans-serif" fill="#111111" stroke="#111111" stroke-width="0.35">-1.0</text>
<text x="341.6" y="1564" font-size="29.5" text-anchor="middle" font-family="'Liberation Sans', Arial, Helvetica, sans-serif" fill="#111111" stroke="#111111" stroke-width="0.35">-0.5</text>
<text x="555.4" y="1564" font-size="29.5" text-anchor="middle" font-family="'Liberation Sans', Arial, Helvetica, sans-serif" fill="#111111" stroke="#111111" stroke-width="0.35">0.0</text>
<text x="769.2" y="1564" font-size="29.5" text-anchor="middle" font-family="'Liberation Sans', Arial, Helvetica, sans-serif" fill="#111111" stroke="#111111" stroke-width="0.35">0.5</text>
<path d="M126.6 45.4h8.3M971.4 45.4h-8.3M126.6 124h8.3M971.4 124h-8.3M126.6 202.6h8.3M971.4 202.6h-8.3M126.6 281.2h8.3M971.4 281.2h-8.3M126.6 359.8h8.3M971.4 359.8h-8.3M126.6 84.7h16.3M971.4 84.7h-16.3M126.6 163.3h16.3M971.4 163.3h-16.3M126.6 241.9h16.3M971.4 241.9h-16.3M126.6 320.5h16.3M971.4 320.5h-16.3" stroke="#111111" stroke-width="2.0" fill="none"/>
<text x="112.8" y="23.6" font-size="29.5" text-anchor="end" font-family="'Liberation Sans', Arial, Helvetica, sans-serif" fill="#111111" stroke="#111111" stroke-width="0.35">0.06</text>
<text x="112.8" y="95" font-size="29.5" text-anchor="end" font-family="'Liberation Sans', Arial, Helvetica, sans-serif" fill="#111111" stroke="#111111" stroke-width="0.35">0.04</text>
<text x="112.8" y="173.6" font-size="29.5" text-anchor="end" font-family="'Liberation Sans', Arial, Helvetica, sans-serif" fill="#111111" stroke="#111111" stroke-width="0.35">0.02</text>
<text x="112.8" y="252.2" font-size="29.5" text-anchor="end" font-family="'Liberation Sans', Arial, Helvetica, sans-serif" fill="#111111" stroke="#111111" stroke-width="0.35">0.00</text>
<text x="112.8" y="330.8" font-size="29.5" text-anchor="end" font-family="'Liberation Sans', Arial, Helvetica, sans-serif" fill="#111111" stroke="#111111" stroke-width="0.35">-0.02</text>
<text x="112.8" y="399.4" font-size="29.5" text-anchor="end" font-family="'Liberation Sans', Arial, Helvetica, sans-serif" fill="#111111" stroke="#111111" stroke-width="0.35">-0.04</text>
<path d="M126.6 423.8h8.3M971.4 423.8h-8.3M126.6 522h8.3M971.4 522h-8.3M126.6 620.2h8.3M971.4 620.2h-8.3M126.6 718.4h8.3M971.4 718.4h-8.3M126.6 816.6h8.3M971.4 816.6h-8.3M126.6 914.8h8.3M971.4 914.8h-8.3M126.6 1013h8.3M971.4 1013h-8.3M126.6 1111.2h8.3M971.4 1111.2h-8.3M126.6 448.3h8.3M971.4 448.3h-8.3M126.6 497.4h8.3M971.4 497.4h-8.3M126.6 546.5h8.3M971.4 546.5h-8.3M126.6 595.6h8.3M971.4 595.6h-8.3M126.6 644.8h8.3M971.4 644.8h-8.3M126.6 693.9h8.3M971.4 693.9h-8.3M126.6 743h8.3M971.4 743h-8.3M126.6 792h8.3M971.4 792h-8.3M126.6 841.1h8.3M971.4 841.1h-8.3M126.6 890.2h8.3M971.4 890.2h-8.3M126.6 939.4h8.3M971.4 939.4h-8.3M126.6 988.5h8.3M971.4 988.5h-8.3M126.6 1037.5h8.3M971.4 1037.5h-8.3M126.6 1086.7h8.3M971.4 1086.7h-8.3M126.6 472.9h16.3M971.4 472.9h-16.3M126.6 571.1h16.3M971.4 571.1h-16.3M126.6 669.3h16.3M971.4 669.3h-16.3M126.6 767.5h16.3M971.4 767.5h-16.3M126.6 865.7h16.3M971.4 865.7h-16.3M126.6 963.9h16.3M971.4 963.9h-16.3M126.6 1062.1h16.3M971.4 1062.1h-16.3" stroke="#111111" stroke-width="2.0" fill="none"/>
<text x="112.8" y="483.2" font-size="29.5" text-anchor="end" font-family="'Liberation Sans', Arial, Helvetica, sans-serif" fill="#111111" stroke="#111111" stroke-width="0.35">0.6</text>
<text x="112.8" y="581.4" font-size="29.5" text-anchor="end" font-family="'Liberation Sans', Arial, Helvetica, sans-serif" fill="#111111" stroke="#111111" stroke-width="0.35">0.4</text>
<text x="112.8" y="679.6" font-size="29.5" text-anchor="end" font-family="'Liberation Sans', Arial, Helvetica, sans-serif" fill="#111111" stroke="#111111" stroke-width="0.35">0.2</text>
<text x="112.8" y="777.8" font-size="29.5" text-anchor="end" font-family="'Liberation Sans', Arial, Helvetica, sans-serif" fill="#111111" stroke="#111111" stroke-width="0.35">0.0</text>
<text x="112.8" y="876" font-size="29.5" text-anchor="end" font-family="'Liberation Sans', Arial, Helvetica, sans-serif" fill="#111111" stroke="#111111" stroke-width="0.35">-0.2</text>
<text x="112.8" y="974.2" font-size="29.5" text-anchor="end" font-family="'Liberation Sans', Arial, Helvetica, sans-serif" fill="#111111" stroke="#111111" stroke-width="0.35">-0.4</text>
<text x="112.8" y="1072.4" font-size="29.5" text-anchor="end" font-family="'Liberation Sans', Arial, Helvetica, sans-serif" fill="#111111" stroke="#111111" stroke-width="0.35">-0.6</text>
<path d="M126.6 1517.2h8.3M971.4 1517.2h-8.3M126.6 1504.9h8.3M971.4 1504.9h-8.3M126.6 1492.6h8.3M971.4 1492.6h-8.3M126.6 1468h8.3M971.4 1468h-8.3M126.6 1455.7h8.3M971.4 1455.7h-8.3M126.6 1443.4h8.3M971.4 1443.4h-8.3M126.6 1418.8h8.3M971.4 1418.8h-8.3M126.6 1406.5h8.3M971.4 1406.5h-8.3M126.6 1394.2h8.3M971.4 1394.2h-8.3M126.6 1369.6h8.3M971.4 1369.6h-8.3M126.6 1357.3h8.3M971.4 1357.3h-8.3M126.6 1345h8.3M971.4 1345h-8.3M126.6 1320.4h8.3M971.4 1320.4h-8.3M126.6 1308.1h8.3M971.4 1308.1h-8.3M126.6 1295.8h8.3M971.4 1295.8h-8.3M126.6 1271.2h8.3M971.4 1271.2h-8.3M126.6 1258.9h8.3M971.4 1258.9h-8.3M126.6 1246.6h8.3M971.4 1246.6h-8.3M126.6 1222h8.3M971.4 1222h-8.3M126.6 1209.7h8.3M971.4 1209.7h-8.3M126.6 1197.4h8.3M971.4 1197.4h-8.3M126.6 1172.8h8.3M971.4 1172.8h-8.3M126.6 1160.5h8.3M971.4 1160.5h-8.3M126.6 1148.2h8.3M971.4 1148.2h-8.3M126.6 1185.1h16.3M971.4 1185.1h-16.3M126.6 1234.3h16.3M971.4 1234.3h-16.3M126.6 1283.5h16.3M971.4 1283.5h-16.3M126.6 1332.7h16.3M971.4 1332.7h-16.3M126.6 1381.9h16.3M971.4 1381.9h-16.3M126.6 1431.1h16.3M971.4 1431.1h-16.3M126.6 1480.3h16.3M971.4 1480.3h-16.3" stroke="#111111" stroke-width="2.0" fill="none"/>
<text x="112.8" y="1152.6" font-size="29.5" text-anchor="end" font-family="'Liberation Sans', Arial, Helvetica, sans-serif" fill="#111111" stroke="#111111" stroke-width="0.35">0.08</text>
<text x="112.8" y="1195.4" font-size="29.5" text-anchor="end" font-family="'Liberation Sans', Arial, Helvetica, sans-serif" fill="#111111" stroke="#111111" stroke-width="0.35">0.06</text>
<text x="112.8" y="1244.6" font-size="29.5" text-anchor="end" font-family="'Liberation Sans', Arial, Helvetica, sans-serif" fill="#111111" stroke="#111111" stroke-width="0.35">0.04</text>
<text x="112.8" y="1293.8" font-size="29.5" text-anchor="end" font-family="'Liberation Sans', Arial, Helvetica, sans-serif" fill="#111111" stroke="#111111" stroke-width="0.35">0.02</text>
<text x="112.8" y="1343" font-size="29.5" text-anchor="end" font-family="'Liberation Sans', Arial, Helvetica, sans-serif" fill="#111111" stroke="#111111" stroke-width="0.35">0.00</text>
<text x="112.8" y="1392.2" font-size="29.5" text-anchor="end" font-family="'Liberation Sans', Arial, Helvetica, sans-serif" fill="#111111" stroke="#111111" stroke-width="0.35">-0.02</text>
<text x="112.8" y="1441.4" font-size="29.5" text-anchor="end" font-family="'Liberation Sans', Arial, Helvetica, sans-serif" fill="#111111" stroke="#111111" stroke-width="0.35">-0.04</text>
<text x="112.8" y="1490.6" font-size="29.5" text-anchor="end" font-family="'Liberation Sans', Arial, Helvetica, sans-serif" fill="#111111" stroke="#111111" stroke-width="0.35">-0.06</text>
<text x="112.8" y="1529" font-size="29.5" text-anchor="end" font-family="'Liberation Sans', Arial, Helvetica, sans-serif" fill="#111111" stroke="#111111" stroke-width="0.35">-0.08</text>
</g>
<g id="colR">
<clipPath id="cRt"><rect x="1156.2" y="6" width="844.2" height="393.2"/></clipPath>
<clipPath id="cRm"><rect x="1156.2" y="399.2" width="844.2" height="736.8"/></clipPath>
<clipPath id="cRb"><rect x="1156.2" y="1136" width="844.2" height="392.7"/></clipPath>
<g clip-path="url(#cRt)" fill="none" stroke-linejoin="round" stroke-linecap="butt">
<path d="M1155.8 194.5L1156.8 194.4L1157.8 194.4L1158.8 194.3L1159.8 194.3L1160.8 194.3L1161.8 194.3L1162.8 194.3L1163.8 194.4L1164.8 194.6L1165.8 194.7L1166.8 194.9L1167.8 195.2L1168.8 195.4L1169.8 195.6L1170.8 195.7L1171.8 195.8L1172.8 195.9L1173.8 195.9L1174.8 195.8L1175.8 195.6L1176.8 195.3L1177.8 195.1L1178.8 194.8L1179.8 194.6L1180.8 194.3L1181.8 194.1L1182.8 194L1183.8 193.9L1184.8 193.9L1185.8 194L1186.8 194L1187.8 194.2L1188.8 194.3L1189.8 194.4L1190.8 194.6L1191.8 194.8L1192.8 194.9L1193.8 195.1L1194.8 195.3L1195.8 195.4L1196.8 195.5L1197.8 195.6L1198.8 195.7L1199.8 195.7L1200.8 195.7L1201.8 195.7L1202.8 195.7L1203.8 195.6L1204.8 195.6L1205.8 195.5L1206.8 195.5L1207.8 195.4L1208.8 195.4L1209.8 195.3L1210.8 195.3L1211.8 195.2L1212.8 195.1L1213.8 195.1L1214.8 195L1215.8 195L1216.8 195L1217.8 194.9L1218.8 194.9L1219.8 194.9L1220.8 194.9L1221.8 194.9L1222.8 194.9L1223.8 195L1224.8 195L1225.8 195.1L1226.8 195.1L1227.8 195.2L1228.8 195.3L1229.8 195.3L1230.8 195.4L1231.8 195.4L1232.8 195.5L1233.8 195.6L1234.8 195.6L1235.8 195.7L1236.8 195.7L1237.8 195.7L1238.8 195.8L1239.8 195.8L1240.8 195.8L1241.8 195.9L1242.8 195.9L1243.8 195.9L1244.8 196L1245.8 196L1246.8 196L1247.8 196L1248.8 196.1L1249.8 196.1L1250.8 196.1L1251.8 196.1L1252.8 196.1L1253.8 196.1L1254.8 196L1255.8 195.9L1256.8 195.8L1257.8 195.6L1258.8 195.4L1259.8 195.2L1260.8 195L1261.8 194.8L1262.8 194.6L1263.8 194.4L1264.8 194.2L1265.8 194L1266.8 193.8L1267.8 193.7L1268.8 193.6L1269.8 193.6L1270.8 193.6L1271.8 193.7L1272.8 193.8L1273.8 193.9L1274.8 194L1275.8 194.1L1276.8 194.3L1277.8 194.5L1278.8 194.6L1279.8 194.8L1280.8 194.9L1281.8 195L1282.8 195.1L1283.8 195.2L1284.8 195.4L1285.8 195.5L1286.8 195.6L1287.8 195.8L1288.8 195.9L1289.8 196L1290.8 196L1291.8 196.1L1292.8 196.1L1293.8 196.1L1294.8 196.1L1295.8 196L1296.8 195.9L1297.8 195.8L1298.8 195.7L1299.8 195.6L1300.8 195.5L1301.8 195.3L1302.8 195.2L1303.8 195L1304.8 194.9L1305.8 194.7L1306.8 194.5L1307.8 194.3L1308.8 194.1L1309.8 194L1310.8 193.8L1311.8 193.6L1312.8 193.4L1313.8 193.2L1314.8 193L1315.8 192.7L1316.8 192.4L1317.8 192.2L1318.8 191.9L1319.8 191.7L1320.8 191.5L1321.8 191.4L1322.8 191.4L1323.8 191.5L1324.8 191.6L1325.8 191.8L1326.8 192.1L1327.8 192.3L1328.8 192.6L1329.8 192.8L1330.8 192.9L1331.8 193L1332.8 193L1333.8 193L1334.8 193L1335.8 193L1336.8 193L1337.8 193L1338.8 193L1339.8 193L1340.8 193L1341.8 193L1342.8 193L1343.8 193L1344.8 193L1345.8 192.9L1346.8 192.7L1347.8 192.4L1348.8 192.1L1349.8 191.7L1350.8 191.4L1351.8 191.2L1352.8 191.1L1353.8 191.1L1354.8 191.2L1355.8 191.2L1356.8 191.3L1357.8 191.4L1358.8 191.5L1359.8 191.7L1360.8 191.8L1361.8 191.9L1362.8 191.9L1363.8 192L1364.8 192L1365.8 192L1366.8 192L1367.8 192L1368.8 192L1369.8 191.9L1370.8 191.9L1371.8 191.9L1372.8 191.9L1373.8 191.8L1374.8 191.8L1375.8 191.8L1376.8 191.8L1377.8 191.8L1378.8 191.7L1379.8 191.7L1380.8 191.7L1381.8 191.7L1382.8 191.7L1383.8 191.7L1384.8 191.6L1385.8 191.6L1386.8 191.6L1387.8 191.6L1388.8 191.6L1389.8 191.6L1390.8 191.6L1391.8 191.8L1392.8 192L1393.8 192.2L1394.8 192.5L1395.8 192.7L1396.8 193L1397.8 193.2L1398.8 193.3L1399.8 193.4L1400.8 193.4L1401.8 193.3L1402.8 193.1L1403.8 192.8L1404.8 192.5L1405.8 192.2L1406.8 191.8L1407.8 191.4L1408.8 191L1409.8 190.6L1410.8 190.2L1411.8 189.8L1412.8 189.4L1413.8 189L1414.8 188.7L1415.8 188.4L1416.8 188.2L1417.8 188L1418.8 187.9L1419.8 187.9L1420.8 188L1421.8 188.1L1422.8 188.3L1423.8 188.5L1424.8 188.7L1425.8 188.9L1426.8 189L1427.8 189.1L1428.8 189.1L1429.8 188.9L1430.8 188.5L1431.8 188.1L1432.8 187.5L1433.8 187L1434.8 186.4L1435.8 185.8L1436.8 185.4L1437.8 185L1438.8 184.8L1439.8 184.8L1440.8 184.9L1441.8 185L1442.8 185.2L1443.8 185.4L1444.8 185.6L1445.8 185.8L1446.8 185.9L1447.8 186L1448.8 186L1449.8 186L1450.8 185.9L1451.8 185.8L1452.8 185.7L1453.8 185.6L1454.8 185.5L1455.8 185.4L1456.8 185.2L1457.8 185L1458.8 184.9L1459.8 184.7L1460.8 184.4L1461.8 184.1L1462.8 183.7L1463.8 183.3L1464.8 182.8L1465.8 182.2L1466.8 181.5L1467.8 180.5L1468.8 179L1469.8 177.3L1470.8 175.4L1471.8 173.4L1472.8 171.4L1473.8 169.6L1474.8 167.9L1475.8 166.3L1476.8 164.6L1477.8 163L1478.8 161.4L1479.8 159.7L1480.8 158L1481.8 156.2L1482.8 154.6L1483.8 153.1L1484.8 151.6L1485.8 150.1L1486.8 148.5L1487.8 146.9L1488.8 145L1489.8 142.9L1490.8 140.6L1491.8 138L1492.8 134.8L1493.8 129.9L1494.8 123.7L1495.8 117.2L1496.8 110.7L1497.8 102.7L1498.8 94L1499.8 86L1500.8 79.7L1501.8 76.4L1502.8 77.6L1503.8 85L1504.8 96.3L1505.8 109.2L1506.8 121.3L1507.8 130.2L1508.8 133.5L1509.8 128.6L1510.8 116.5L1511.8 99.4L1512.8 80L1513.8 60.5L1514.8 43.4L1515.8 31.1L1516.8 26.1L1517.8 30.6L1518.8 43.7L1519.8 62.8L1520.8 85.1L1521.8 108.1L1522.8 129.2L1523.8 145.6L1524.8 154.9L1525.8 154.7L1526.8 146.3L1527.8 132.4L1528.8 115.4L1529.8 97.7L1530.8 81.9L1531.8 70.3L1532.8 65.6L1533.8 68.5L1534.8 76.8L1535.8 88.6L1536.8 101.9L1537.8 114.7L1538.8 125.3L1539.8 131.6L1540.8 133.7L1541.8 135.1L1542.8 135.9L1543.8 135.7L1544.8 134.6L1545.8 133.6L1546.8 134.2L1547.8 137.8L1548.8 143.1L1549.8 149.1L1550.8 154.6L1551.8 158.3L1552.8 160.9L1553.8 162.8L1554.8 163.4L1555.8 163.6L1556.8 163.8L1557.8 163.9L1558.8 164L1559.8 164.2L1560.8 164.6L1561.8 165.8L1562.8 167.5L1563.8 169.7L1564.8 172.1L1565.8 174.6L1566.8 177L1567.8 179.1L1568.8 181.2L1569.8 183.6L1570.8 185.7L1571.8 187.3L1572.8 187.9L1573.8 187.7L1574.8 187.3L1575.8 186.8L1576.8 186.1L1577.8 185.5L1578.9 185.1L1579.9 184.8L1580.9 184.9L1581.9 185.2L1582.9 185.8L1583.9 186.5L1584.9 187.3L1585.9 188.1L1586.9 188.9L1587.9 189.6L1588.9 190.1L1589.9 190.3L1590.9 190.2L1591.9 190L1592.9 189.6L1593.9 189L1594.9 188.5L1595.9 188L1596.9 187.6L1597.9 187.3L1598.9 187.2L1599.9 187.3L1600.9 187.5L1601.9 187.8L1602.9 188.2L1603.9 188.6L1604.9 189L1605.9 189.5L1606.9 189.9L1607.9 190.4L1608.9 190.7L1609.9 191L1610.9 191.2L1611.9 191.4L1612.9 191.6L1613.9 191.8L1614.9 192L1615.9 192.2L1616.9 192.3L1617.9 192.5L1618.9 192.6L1619.9 192.8L1620.9 192.9L1621.9 193L1622.9 193.1L1623.9 193.2L1624.9 193.3L1625.9 193.4L1626.9 193.5L1627.9 193.6L1628.9 193.6L1629.9 193.7L1630.9 193.8L1631.9 193.8L1632.9 193.9L1633.9 193.9L1634.9 193.9L1635.9 193.9L1636.9 193.8L1637.9 193.6L1638.9 193.4L1639.9 193.2L1640.9 193L1641.9 192.8L1642.9 192.6L1643.9 192.5L1644.9 192.4L1645.9 192.5L1646.9 192.6L1647.9 192.9L1648.9 193.2L1649.9 193.5L1650.9 193.8L1651.9 194L1652.9 194.2L1653.9 194.2L1654.9 194.1L1655.9 193.9L1656.9 193.5L1657.9 193.2L1658.9 192.7L1659.9 192.3L1660.9 192L1661.9 191.7L1662.9 191.5L1663.9 191.4L1664.9 191.3L1665.9 191.3L1666.9 191.3L1667.9 191.3L1668.9 191.2L1669.9 191.2L1670.9 191.2L1671.9 191.2L1672.9 191.2L1673.9 191.4L1674.9 191.7L1675.9 192L1676.9 192.4L1677.9 192.8L1678.9 193.2L1679.9 193.7L1680.9 194.1L1681.9 194.4L1682.9 194.7L1683.9 194.8L1684.9 194.9L1685.9 194.9L1686.9 194.9L1687.9 194.8L1688.9 194.8L1689.9 194.7L1690.9 194.7L1691.9 194.6L1692.9 194.5L1693.9 194.4L1694.9 194.4L1695.9 194.3L1696.9 194.2L1697.9 194.1L1698.9 194L1699.9 193.9L1700.9 193.8L1701.9 193.7L1702.9 193.6L1703.9 193.4L1704.9 193.3L1705.9 193.2L1706.9 193.1L1707.9 193.1L1708.9 193L1709.9 193L1710.9 193L1711.9 193.1L1712.9 193.3L1713.9 193.5L1714.9 193.7L1715.9 193.9L1716.9 194.2L1717.9 194.4L1718.9 194.6L1719.9 194.7L1720.9 194.9L1721.9 194.9L1722.9 194.9L1723.9 194.9L1724.9 194.8L1725.9 194.8L1726.9 194.8L1727.9 194.7L1728.9 194.6L1729.9 194.5L1730.9 194.5L1731.9 194.4L1732.9 194.3L1733.9 194.2L1734.9 194.1L1735.9 194L1736.9 193.9L1737.9 193.9L1738.9 193.8L1739.9 193.7L1740.9 193.6L1741.9 193.6L1742.9 193.5L1743.9 193.5L1744.9 193.4L1745.9 193.4L1746.9 193.4L1747.9 193.4L1748.9 193.5L1749.9 193.6L1750.9 193.7L1751.9 193.9L1752.9 194L1753.9 194.2L1754.9 194.4L1755.9 194.5L1756.9 194.7L1757.9 194.8L1758.9 194.9L1759.9 194.9L1760.9 194.9L1761.9 194.9L1762.9 194.9L1763.9 194.8L1764.9 194.8L1765.9 194.7L1766.9 194.7L1767.9 194.6L1768.9 194.5L1769.9 194.5L1770.9 194.4L1771.9 194.3L1772.9 194.2L1773.9 194.1L1774.9 194.1L1775.9 194L1776.9 193.9L1777.9 193.9L1778.9 193.8L1779.9 193.7L1780.9 193.7L1781.9 193.7L1782.9 193.6L1783.9 193.6L1784.9 193.6L1785.9 193.6L1786.9 193.6L1787.9 193.6L1788.9 193.7L1789.9 193.7L1790.9 193.8L1791.9 193.8L1792.9 193.9L1793.9 194L1794.9 194L1795.9 194.1L1796.9 194.2L1797.9 194.3L1798.9 194.4L1799.9 194.4L1800.9 194.5L1801.9 194.6L1802.9 194.6L1803.9 194.7L1804.9 194.8L1805.9 194.8L1806.9 194.8L1807.9 194.9L1808.9 194.9L1809.9 194.9L1810.9 194.9L1811.9 194.9L1812.9 194.9L1813.9 194.9L1814.9 194.8L1815.9 194.8L1816.9 194.8L1817.9 194.7L1818.9 194.7L1819.9 194.7L1820.9 194.6L1821.9 194.6L1822.9 194.5L1823.9 194.5L1824.9 194.5L1825.9 194.4L1826.9 194.4L1827.9 194.3L1828.9 194.3L1829.9 194.3L1830.9 194.3L1831.9 194.2L1832.9 194.2L1833.9 194.2L1834.9 194.2L1835.9 194.2L1836.9 194.3L1837.9 194.4L1838.9 194.5L1839.9 194.7L1840.9 194.8L1841.9 195L1842.9 195.2L1843.9 195.3L1844.9 195.5L1845.9 195.6L1846.9 195.7L1847.9 195.7L1848.9 195.7L1849.9 195.6L1850.9 195.5L1851.9 195.3L1852.9 195.1L1853.9 194.9L1854.9 194.7L1855.9 194.5L1856.9 194.3L1857.9 194.1L1858.9 194L1859.9 193.9L1860.9 193.9L1861.9 193.9L1862.9 194L1863.9 194.1L1864.9 194.2L1865.9 194.4L1866.9 194.5L1867.9 194.7L1868.9 194.8L1869.9 194.9L1870.9 195L1871.9 195.1L1872.9 195.1L1873.9 195L1874.9 194.8L1875.9 194.6L1876.9 194.2L1877.9 193.8L1878.9 193.5L1879.9 193.1L1880.9 192.9L1881.9 192.7L1882.9 192.7L1883.9 193L1884.9 193.5L1885.9 194.2L1886.9 194.9L1887.9 195.6L1888.9 196.2L1889.9 196.6L1890.9 196.8L1891.9 196.8L1892.9 196.6L1893.9 196.4L1894.9 196.2L1895.9 196L1896.9 195.8L1897.9 195.7L1898.9 195.6L1899.9 195.6L1900.9 195.7L1901.9 195.9L1902.9 196.1L1903.9 196.3L1904.9 196.5L1905.9 196.7L1906.9 196.8L1907.9 196.8L1908.9 196.8L1909.9 196.8L1910.9 196.9L1911.9 196.9L1912.9 196.9L1913.9 196.9L1914.9 196.9L1915.9 196.9L1916.9 196.9L1917.9 196.9L1918.9 197L1919.9 197L1920.9 197L1921.9 197L1922.9 197L1923.9 197L1924.9 197L1925.9 197L1926.9 197L1927.9 197L1928.9 197L1929.9 197L1930.9 197L1931.9 197L1932.9 197L1933.9 197L1934.9 197L1935.9 197L1936.9 197L1937.9 197L1938.9 197L1939.9 197L1940.9 197L1941.9 197L1942.9 197L1943.9 197L1944.9 197L1945.9 197L1946.9 197L1947.9 197L1948.9 197L1949.9 197L1950.9 197L1951.9 197L1952.9 197L1953.9 197L1954.9 197L1955.9 197L1956.9 197L1957.9 197L1958.9 197L1959.9 197L1960.9 197L1961.9 197L1962.9 197L1963.9 197L1964.9 197L1965.9 197L1966.9 197L1967.9 197L1968.9 197L1969.9 197L1970.9 197L1971.9 197L1972.9 197L1973.9 197L1974.9 197L1975.9 197L1976.9 197L1977.9 197L1978.9 197L1979.9 197L1980.9 197L1981.9 197L1982.9 197L1983.9 197L1984.9 197L1985.9 197L1986.9 197L1987.9 197L1988.9 197L1989.9 197L1990.9 197L1991.9 197L1992.9 197L1993.9 197L1994.9 197L1995.9 197L1996.9 197L1997.9 197L1998.9 197L1999.9 197" stroke="#8b8b8b" stroke-width="3.7"/>
<line x1="1525.3" y1="400" x2="1525.3" y2="0" stroke="#111111" stroke-width="3.6" stroke-dasharray="17.6 19.45"/>
<path d="M1155.8 203L1156.8 202.7L1157.8 202.3L1158.8 201.9L1159.8 201.4L1160.8 200.9L1161.8 200.4L1162.8 199.9L1163.8 199.3L1164.8 198.7L1165.8 198L1166.8 197.2L1167.8 196.2L1168.8 195.1L1169.8 193.9L1170.8 192.7L1171.8 191.5L1172.8 190.3L1173.8 189.2L1174.8 188.2L1175.8 187.4L1176.8 186.7L1177.8 186.3L1178.8 186.1L1179.8 186.2L1180.8 186.5L1181.8 187.1L1182.8 187.8L1183.8 188.6L1184.8 189.7L1185.8 190.8L1186.8 192L1187.8 193.3L1188.8 194.7L1189.8 196L1190.8 197.4L1191.8 198.8L1192.8 200.1L1193.8 201.3L1194.8 202.5L1195.8 203.6L1196.8 204.5L1197.8 205.3L1198.8 205.9L1199.8 206.3L1200.8 206.5L1201.8 206.5L1202.8 206.2L1203.8 205.9L1204.8 205.3L1205.8 204.7L1206.8 204L1207.8 203.2L1208.8 202.3L1209.8 201.4L1210.8 200.4L1211.8 199.5L1212.8 198.6L1213.8 197.7L1214.8 196.9L1215.8 196.2L1216.8 195.6L1217.8 195.1L1218.8 194.7L1219.8 194.5L1220.8 194.5L1221.8 194.7L1222.8 195.1L1223.8 195.6L1224.8 196.2L1225.8 197L1226.8 197.8L1227.8 198.7L1228.8 199.6L1229.8 200.5L1230.8 201.4L1231.8 202.2L1232.8 203L1233.8 203.7L1234.8 204.2L1235.8 204.6L1236.8 204.8L1237.8 204.7L1238.8 204.4L1239.8 203.7L1240.8 202.7L1241.8 201.5L1242.8 200.1L1243.8 198.5L1244.8 196.9L1245.8 195.1L1246.8 193.4L1247.8 191.7L1248.8 190.1L1249.8 188.6L1250.8 187.2L1251.8 186.1L1252.8 185.2L1253.8 184.6L1254.8 184.3L1255.8 184.4L1256.8 184.8L1257.8 185.6L1258.8 186.5L1259.8 187.7L1260.8 189L1261.8 190.4L1262.8 191.9L1263.8 193.5L1264.8 195.1L1265.8 196.6L1266.8 198.1L1267.8 199.4L1268.8 200.6L1269.8 201.6L1270.8 202.4L1271.8 202.8L1272.8 203L1273.8 202.9L1274.8 202.6L1275.8 202.1L1276.8 201.5L1277.8 200.8L1278.8 200L1279.8 199.2L1280.8 198.2L1281.8 197.3L1282.8 196.4L1283.8 195.5L1284.8 194.6L1285.8 193.9L1286.8 193.2L1287.8 192.7L1288.8 192.3L1289.8 192.1L1290.8 192.1L1291.8 192.3L1292.8 192.6L1293.8 192.9L1294.8 193.4L1295.8 193.9L1296.8 194.5L1297.8 195.1L1298.8 195.6L1299.8 196.2L1300.8 196.6L1301.8 197.1L1302.8 197.4L1303.8 197.6L1304.8 197.6L1305.8 197.5L1306.8 197.4L1307.8 197.2L1308.8 197L1309.8 196.8L1310.8 196.6L1311.8 196.5L1312.8 196.4L1313.8 196.4L1314.8 196.5L1315.8 196.6L1316.8 196.8L1317.8 197L1318.8 197.2L1319.8 197.5L1320.8 197.7L1321.8 197.8L1322.8 198L1323.8 198L1324.8 197.9L1325.8 197.6L1326.8 197.1L1327.8 196.5L1328.8 195.8L1329.8 195L1330.8 194.1L1331.8 193.3L1332.8 192.4L1333.8 191.6L1334.8 190.9L1335.8 190.3L1336.8 189.9L1337.8 189.7L1338.8 189.6L1339.8 189.9L1340.8 190.3L1341.8 191.1L1342.8 192L1343.8 193L1344.8 194.2L1345.8 195.4L1346.8 196.7L1347.8 198L1348.8 199.2L1349.8 200.4L1350.8 201.5L1351.8 202.4L1352.8 203.2L1353.8 203.8L1354.8 204.1L1355.8 204.2L1356.8 204L1357.8 203.5L1358.8 202.8L1359.8 202L1360.8 201L1361.8 200L1362.8 198.9L1363.8 197.8L1364.8 196.8L1365.8 195.8L1366.8 195L1367.8 194.3L1368.8 193.8L1369.8 193.6L1370.8 193.7L1371.8 194.1L1372.8 194.7L1373.8 195.4L1374.8 196.3L1375.8 197.2L1376.8 198.1L1377.8 198.9L1378.8 199.6L1379.8 200L1380.8 200.1L1381.8 200L1382.8 199.8L1383.8 199.6L1384.8 199.3L1385.8 199.1L1386.8 198.8L1387.8 198.7L1388.8 198.6L1389.8 198.7L1390.8 198.9L1391.8 199.1L1392.8 199.5L1393.8 199.9L1394.8 200.3L1395.8 200.7L1396.8 201L1397.8 201.3L1398.8 201.5L1399.8 201.6L1400.8 201.5L1401.8 201.3L1402.8 201L1403.8 200.5L1404.8 200L1405.8 199.4L1406.8 198.9L1407.8 198.3L1408.8 197.8L1409.8 197.3L1410.8 196.9L1411.8 196.7L1412.8 196.6L1413.8 196.8L1414.8 197.2L1415.8 198L1416.8 199.1L1417.8 200.3L1418.8 201.7L1419.8 203.3L1420.8 204.9L1421.8 206.6L1422.8 208.2L1423.8 209.9L1424.8 211.4L1425.8 212.8L1426.8 214.1L1427.8 215.1L1428.8 215.9L1429.8 216.4L1430.8 216.6L1431.8 216.5L1432.8 216.1L1433.8 215.5L1434.8 214.9L1435.8 214.3L1436.8 213.7L1437.8 213.2L1438.8 212.9L1439.8 212.9L1440.8 213.2L1441.8 213.8L1442.8 214.5L1443.8 215.4L1444.8 216.3L1445.8 217.2L1446.8 218.1L1447.8 218.8L1448.8 219.3L1449.8 219.6L1450.8 219.5L1451.8 218.6L1452.8 217.2L1453.8 215.3L1454.8 213L1455.8 210.3L1456.8 207.5L1457.8 204.5L1458.8 201.4L1459.8 198.5L1460.8 195.7L1461.8 193.1L1462.8 190.1L1463.8 186.7L1464.8 183.2L1465.8 179.9L1466.8 177.2L1467.8 175.4L1468.8 174.9L1469.8 176L1470.8 178.4L1471.8 181.9L1472.8 186L1473.8 190.4L1474.8 194.7L1475.8 199L1476.8 204.6L1477.8 211L1478.8 217.9L1479.8 224.8L1480.8 231.3L1481.8 236.9L1482.8 241.2L1483.8 243.8L1484.8 244.1L1485.8 241.7L1486.8 237L1487.8 230.5L1488.8 222.8L1489.8 214.5L1490.8 206.1L1491.8 198.3L1492.8 191.3L1493.8 183.1L1494.8 174.4L1495.8 167L1496.8 162.9L1497.8 164L1498.8 171.2L1499.8 181.7L1500.8 192.7L1501.8 202.7L1502.8 214.9L1503.8 228.5L1504.8 242.7L1505.8 256.2L1506.8 268.3L1507.8 277.7L1508.8 283.6L1509.8 284.9L1510.8 280.7L1511.8 271.9L1512.8 259.7L1513.8 245.4L1514.8 230.4L1515.8 215.8L1516.8 203.1L1517.8 193.4L1518.8 184.9L1519.8 176.4L1520.8 169L1521.8 163.8L1522.8 161.9L1523.8 169L1524.8 184.3L1525.8 200.8L1526.8 215.8L1527.8 233.4L1528.8 252.9L1529.8 273.1L1530.8 293.2L1531.8 312.1L1532.8 328.9L1533.8 342.6L1534.8 352.1L1535.8 356.6L1536.8 354.9L1537.8 346.9L1538.8 333.8L1539.8 316.7L1540.8 296.9L1541.8 275.5L1542.8 253.7L1543.8 232.8L1544.8 213.8L1545.8 198.1L1546.8 184.3L1547.8 169.4L1548.8 154.7L1549.8 141.2L1550.8 130.4L1551.8 123.3L1552.8 121.2L1553.8 123.5L1554.8 128.5L1555.8 135.5L1556.8 143.8L1557.8 152.3L1558.8 160.4L1559.8 167.2L1560.8 172.2L1561.8 176.9L1562.8 181L1563.8 183.3L1564.8 183.4L1565.8 182.9L1566.8 182.1L1567.8 181.1L1568.8 180.1L1569.8 179.3L1570.8 178.7L1571.8 178.6L1572.8 179.6L1573.8 181.5L1574.8 184.1L1575.8 187.1L1576.8 190.1L1577.8 192.9L1578.9 195L1579.9 196.8L1580.9 198.6L1581.9 200.3L1582.9 201.8L1583.9 202.9L1584.9 203.4L1585.9 203.5L1586.9 203.5L1587.9 203.5L1588.9 203.6L1589.9 203.6L1590.9 203.6L1591.9 203.6L1592.9 203.6L1593.9 203.9L1594.9 204.4L1595.9 205L1596.9 205.7L1597.9 206.4L1598.9 206.9L1599.9 207.3L1600.9 207.4L1601.9 207L1602.9 206.1L1603.9 204.9L1604.9 203.4L1605.9 201.7L1606.9 199.9L1607.9 198L1608.9 196.2L1609.9 194.5L1610.9 193L1611.9 191.3L1612.9 189.4L1613.9 187.6L1614.9 185.9L1615.9 184.5L1616.9 183.6L1617.9 183.3L1618.9 183.1L1619.9 182.9L1620.9 182.7L1621.9 182.6L1622.9 182.4L1623.9 182.3L1624.9 182.2L1625.9 182.1L1626.9 182.1L1627.9 182L1628.9 182L1629.9 182L1630.9 182.1L1631.9 182.5L1632.9 183.2L1633.9 184.2L1634.9 185.3L1635.9 186.6L1636.9 188L1637.9 189.5L1638.9 191.1L1639.9 192.7L1640.9 194.2L1641.9 195.7L1642.9 197.1L1643.9 198.4L1644.9 199.5L1645.9 200.5L1646.9 201.2L1647.9 201.6L1648.9 201.7L1649.9 201.5L1650.9 201.1L1651.9 200.5L1652.9 199.8L1653.9 199L1654.9 198.2L1655.9 197.5L1656.9 196.9L1657.9 196.4L1658.9 196.1L1659.9 196.1L1660.9 196.3L1661.9 196.7L1662.9 197.1L1663.9 197.6L1664.9 198.1L1665.9 198.5L1666.9 198.8L1667.9 198.9L1668.9 198.7L1669.9 198.2L1670.9 197.3L1671.9 196.1L1672.9 194.8L1673.9 193.3L1674.9 191.8L1675.9 190.3L1676.9 189L1677.9 187.8L1678.9 186.9L1679.9 186.3L1680.9 186.1L1681.9 186.4L1682.9 187L1683.9 188.1L1684.9 189.4L1685.9 190.9L1686.9 192.6L1687.9 194.3L1688.9 196.1L1689.9 197.8L1690.9 199.3L1691.9 200.7L1692.9 201.8L1693.9 202.6L1694.9 203L1695.9 202.9L1696.9 202.5L1697.9 201.7L1698.9 200.6L1699.9 199.3L1700.9 197.8L1701.9 196.2L1702.9 194.5L1703.9 192.7L1704.9 191L1705.9 189.3L1706.9 187.7L1707.9 186.2L1708.9 185L1709.9 184L1710.9 183.4L1711.9 183L1712.9 183.1L1713.9 183.4L1714.9 184.1L1715.9 184.9L1716.9 186L1717.9 187.2L1718.9 188.5L1719.9 190L1720.9 191.5L1721.9 193L1722.9 194.5L1723.9 195.9L1724.9 197.3L1725.9 198.5L1726.9 199.6L1727.9 200.5L1728.9 201.2L1729.9 201.6L1730.9 201.7L1731.9 201.5L1732.9 201L1733.9 200.3L1734.9 199.4L1735.9 198.4L1736.9 197.3L1737.9 196.1L1738.9 194.9L1739.9 193.7L1740.9 192.6L1741.9 191.7L1742.9 190.9L1743.9 190.3L1744.9 190L1745.9 189.9L1746.9 190.2L1747.9 190.9L1748.9 191.7L1749.9 192.8L1750.9 194L1751.9 195.2L1752.9 196.5L1753.9 197.7L1754.9 198.8L1755.9 199.7L1756.9 200.4L1757.9 200.7L1758.9 200.8L1759.9 200.4L1760.9 199.7L1761.9 198.8L1762.9 197.6L1763.9 196.4L1764.9 195.1L1765.9 193.8L1766.9 192.6L1767.9 191.6L1768.9 190.8L1769.9 190.3L1770.9 190.1L1771.9 190.4L1772.9 191.2L1773.9 192.4L1774.9 193.9L1775.9 195.7L1776.9 197.5L1777.9 199.3L1778.9 201.1L1779.9 202.7L1780.9 204L1781.9 204.9L1782.9 205.4L1783.9 205.4L1784.9 205.1L1785.9 204.5L1786.9 203.8L1787.9 202.9L1788.9 202.1L1789.9 201.3L1790.9 200.6L1791.9 200.2L1792.9 200.1L1793.9 200.4L1794.9 201L1795.9 201.9L1796.9 203.1L1797.9 204.3L1798.9 205.6L1799.9 206.9L1800.9 208.1L1801.9 209.1L1802.9 209.9L1803.9 210.3L1804.9 210.4L1805.9 209.9L1806.9 209L1807.9 207.7L1808.9 206.1L1809.9 204.3L1810.9 202.3L1811.9 200.3L1812.9 198.3L1813.9 196.4L1814.9 194.6L1815.9 193.1L1816.9 191.9L1817.9 191.2L1818.9 190.9L1819.9 191.1L1820.9 191.5L1821.9 192.2L1822.9 193L1823.9 194L1824.9 195L1825.9 196L1826.9 196.9L1827.9 197.7L1828.9 198.4L1829.9 198.8L1830.9 198.9L1831.9 198.8L1832.9 198.5L1833.9 198.1L1834.9 197.7L1835.9 197.3L1836.9 196.9L1837.9 196.6L1838.9 196.4L1839.9 196.4L1840.9 196.8L1841.9 197.5L1842.9 198.5L1843.9 199.6L1844.9 200.9L1845.9 202.4L1846.9 203.8L1847.9 205.2L1848.9 206.6L1849.9 207.9L1850.9 208.9L1851.9 209.7L1852.9 210.2L1853.9 210.4L1854.9 210L1855.9 209.1L1856.9 207.6L1857.9 205.8L1858.9 203.6L1859.9 201.2L1860.9 198.7L1861.9 196.2L1862.9 193.7L1863.9 191.3L1864.9 189.2L1865.9 187.4L1866.9 186L1867.9 185.2L1868.9 184.9L1869.9 185.2L1870.9 186.1L1871.9 187.4L1872.9 189.1L1873.9 191.1L1874.9 193.3L1875.9 195.7L1876.9 198.2L1877.9 200.7L1878.9 203.2L1879.9 205.5L1880.9 207.7L1881.9 209.6L1882.9 211.2L1883.9 212.4L1884.9 213.1L1885.9 213.3L1886.9 213.1L1887.9 212.6L1888.9 211.9L1889.9 211.1L1890.9 210.1L1891.9 209L1892.9 207.9L1893.9 206.8L1894.9 205.7L1895.9 204.7L1896.9 203.9L1897.9 203.2L1898.9 202.6L1899.9 201.9L1900.9 201.2L1901.9 200.5L1902.9 199.9L1903.9 199.3L1904.9 198.8L1905.9 198.4L1906.9 198.2L1907.9 198L1908.9 198L1909.9 198.2L1910.9 198.6L1911.9 199L1912.9 199.5L1913.9 200L1914.9 200.4L1915.9 200.8L1916.9 201.1L1917.9 201.3L1918.9 201.2L1919.9 201L1920.9 200.6L1921.9 200.1L1922.9 199.5L1923.9 198.8L1924.9 198.2L1925.9 197.5L1926.9 196.9L1927.9 196.5L1928.9 196.2L1929.9 196L1930.9 196.1L1931.9 196.3L1932.9 196.7L1933.9 197.1L1934.9 197.7L1935.9 198.3L1936.9 198.9L1937.9 199.4L1938.9 199.9L1939.9 200.2L1940.9 200.5L1941.9 200.5L1942.9 200.2L1943.9 199.6L1944.9 198.7L1945.9 197.6L1946.9 196.4L1947.9 195.1L1948.9 193.8L1949.9 192.6L1950.9 191.4L1951.9 190.4L1952.9 189.6L1953.9 189.2L1954.9 189L1955.9 189.2L1956.9 189.6L1957.9 190.2L1958.9 191L1959.9 191.9L1960.9 192.8L1961.9 193.8L1962.9 194.7L1963.9 195.6L1964.9 196.4L1965.9 197L1966.9 197.4L1967.9 197.6L1968.9 197.5L1969.9 197.1L1970.9 196.6L1971.9 195.9L1972.9 195.1L1973.9 194.2L1974.9 193.2L1975.9 192.3L1976.9 191.4L1977.9 190.7L1978.9 190.1L1979.9 189.6L1980.9 189.4L1981.9 189.5L1982.9 189.9L1983.9 190.7L1984.9 191.6L1985.9 192.7L1986.9 194L1987.9 195.3L1988.9 196.5L1989.9 197.7L1990.9 198.7L1991.9 199.7L1992.9 200.7L1993.9 201.7L1994.9 202.6L1995.9 203.7L1996.9 204.7L1997.9 205.7L1998.9 206.7L1999.9 207.7" stroke="#111111" stroke-width="4"/>
</g>
<g clip-path="url(#cRm)" fill="none" stroke-linejoin="round">
<path d="M1156.2 765.1L1158.2 764.9L1160.2 764.8L1162.2 765.7L1164.2 768.6L1166.2 765.1L1168.2 767.8L1170.2 768.7L1172.2 766.8L1174.2 766L1176.2 767.3L1178.2 768.6L1180.2 770.1L1182.2 768.7L1184.2 769.4L1186.2 766.8L1188.2 765.7L1190.2 764.4L1192.2 764.9L1194.2 766L1196.2 767L1198.2 765.2L1200.2 767.6L1202.2 766.9L1204.2 766.1L1206.2 765.7L1208.2 769.3L1210.2 767.6L1212.2 765.9L1214.2 765.4L1216.2 769L1218.2 766.6L1220.2 768.4L1222.2 769.1L1224.2 764.3L1226.2 768.2L1228.2 766.9L1230.2 765.5L1232.2 765.9L1234.2 767.4L1236.2 767.5L1238.2 767.6L1240.2 766.1L1242.2 768.4L1244.2 769.2L1246.2 769.8L1248.2 768.8L1250.2 769.8L1252.2 770.2L1254.2 768.5L1256.2 768.4L1258.2 768L1260.2 767.8L1262.2 768.2L1264.2 764.9L1266.2 766.1L1268.2 767.4L1270.2 764.2L1272.2 764.5L1274.2 768.5L1276.2 765.8L1278.2 766.1L1280.2 767.2L1282.2 766.3L1284.2 765.6L1286.2 766L1288.2 766.1L1290.2 766L1292.2 767L1294.2 769L1296.2 767.8L1298.2 769.2L1300.2 768.3L1302.2 768.3L1304.2 768L1306.2 766.7L1308.2 767.4L1310.2 767.4L1312.2 765.5L1314.2 767.6L1316.2 767.8L1318.2 767.6L1320.2 766.3L1322.2 763.3L1324.2 768.1L1326.2 767.1L1328.2 764.1L1330.2 767.2L1332.2 766L1334.2 767.6L1336.2 766.9L1338.2 768.4L1340 767.5L1340.8 767.9L1341.6 768.2L1342.4 768L1343.2 767.3L1344 766L1344.8 765.3L1345.6 765.2L1346.4 765.9L1347.2 766.5L1348 766.2L1348.8 765.7L1349.6 764.8L1350.4 765.2L1351.2 765.8L1352 766.9L1352.8 767L1353.6 766.9L1354.4 766.3L1355.2 766.1L1356 765.7L1356.8 765.2L1357.6 764.7L1358.4 764.4L1359.2 764.3L1360 764.1L1360.8 764.3L1361.6 764.2L1362.4 764.5L1363.2 764.2L1364 764.4L1364.8 763.8L1365.6 763.6L1366.4 763.3L1367.2 763.7L1368 764L1368.8 764.2L1369.6 764.5L1370.4 765L1371.2 765.4L1372 765.2L1372.8 764.8L1373.6 764.7L1374.4 764.8L1375.2 764.9L1376 764.2L1376.8 763.5L1377.6 763L1378.4 763.2L1379.2 763.9L1380 764.4L1380.8 764.6L1381.6 764.8L1382.4 765L1383.2 765.6L1384 766L1384.8 766.2L1385.6 766.3L1386.4 766.2L1387.2 766.1L1388 765.3L1388.8 764.5L1389.5 763.7L1390.3 762.9L1391.1 762.5L1391.9 762.8L1392.7 763.3L1393.5 763.1L1394.3 762.4L1395.1 762L1395.9 762.5L1396.7 763.3L1397.5 764.1L1398.3 764.6L1399.1 764.8L1399.9 764.4L1400.7 763.6L1401.5 762.8L1402.3 762.7L1403.1 763.3L1403.9 764L1404.7 764.1L1405.5 763.7L1406.3 762.7L1407.1 761.3L1407.9 759.9L1408.7 759.5L1409.5 759.4L1410.3 759.6L1411.1 759.2L1411.9 759.2L1412.7 758.8L1413.5 759L1414.3 758.6L1415.1 758.6L1415.9 758.2L1416.7 758.2L1417.5 757.8L1418.3 757.1L1419.1 756.4L1419.9 755.9L1420.7 756.2L1421.5 756.5L1422.3 756.7L1423.1 756.7L1423.9 756.9L1424.7 757.2L1425.5 757.3L1426.3 757L1427.1 757.1L1427.9 757.2L1428.7 757.4L1429.5 756.5L1430.3 755.8L1431.1 755.2L1431.9 755.8L1432.7 755.7L1433.5 755.3L1434.3 754.2L1435.1 753.5L1435.9 753.2L1436.7 752.5L1437.5 751.6L1438.3 750.8L1439.1 751.3L1439.9 751.7L1440.7 751.9L1441.5 750.8L1442.3 749.7L1443.1 748.7L1443.9 748.7L1444.7 749.1L1445.5 749.8L1446.3 749.7L1447.1 749.6L1447.9 749.7L1448.7 750.8L1449.5 751.5L1450.3 751.9L1451.1 752L1451.9 752.2L1452.7 752.4L1453.5 751.9L1454.3 751.4L1455.1 750.6L1455.9 750.6L1456.7 750.8L1457.5 751.3L1458.3 751.6L1459.1 752.2L1459.9 752.7L1460.7 752.8L1461.5 752.7L1462.3 752.3L1463.1 751.7L1463.9 751.4L1464.7 751.3L1465.5 751.5L1466.3 751.1L1467.1 750.9L1467.9 750.3L1468.7 750.2L1469.5 750.3L1470.3 750.9L1471.1 751.1L1471.9 750.9L1472.7 750.5L1473.5 750.8L1474.3 751.4L1475.1 752.1L1475.9 752.4L1476.7 752.5L1477.5 752.1L1478.3 750.9L1479.1 749.1L1479.9 747.2L1480.7 745.1L1481.5 743.3L1482.3 741.6L1483.1 740.1L1483.9 738.3L1484.7 736.7L1485.5 735.3L1486.2 734.2L1487 732.7L1487.8 730.9L1488.6 729.1L1489.4 727.5L1490.2 725.9L1491 724.3L1491.8 722.7L1492.6 720.9L1493.4 719L1494.2 716.7L1495 714.2L1495.8 711.3L1496.6 707.8L1497.4 703.8L1498.2 699.4L1499 694.7L1499.8 690L1500.6 685.1L1501.4 679.8L1502.2 674.1L1503 668.2L1503.8 662.2L1504.6 656.1L1505.4 650.2L1506.2 644.1L1507 637.9L1507.8 631.5L1508.6 625.3L1509.4 619.5L1510.2 614.1L1511 608.4L1511.8 602.5L1512.6 596.7L1513.4 591.6L1514.2 587.6L1515 585.4L1515.8 585.5L1516.6 586.6L1517.4 590.9L1518.2 597.1L1519 604.8L1519.8 613.5L1520.6 626L1521.4 646.2L1522.2 668.8L1523 691.7L1523.8 716.5L1524.6 741.2L1525.4 764.9L1526.2 788.9L1527 815L1527.8 843.5L1528.6 874.2L1529.4 908.3L1530.2 941.8L1531 974.8L1531.8 999.2L1532.6 1015.2L1533.4 1025.1L1534.2 1024.6L1535 1017.4L1535.8 1006.3L1536.6 993.6L1537.4 973.9L1538.2 949.3L1539 925.3L1539.8 902.2L1540.6 879L1541.4 856.8L1542.2 836L1543 815.5L1543.8 793.2L1544.6 767.3L1545.4 742.7L1546.2 725.3L1547 712.3L1547.8 701.2L1548.6 694.4L1549.4 694.2L1550.2 699.8L1551 709.1L1551.8 719.9L1552.6 730.6L1553.4 743.7L1554.2 758.4L1555 772.8L1555.8 784.9L1556.6 797L1557.4 809.4L1558.2 821L1559 830.6L1559.8 837L1560.6 839.3L1561.4 836.3L1562.2 829.8L1563 820.9L1563.8 811.3L1564.6 802.2L1565.4 795L1566.2 790.1L1567 785.4L1567.8 780.8L1568.6 776.5L1569.4 772.7L1570.2 769.9L1571 768.2L1571.8 767L1572.6 767.1L1573.4 768.5L1574.2 771.1L1575 774.3L1575.8 777.9L1576.6 781.8L1577.4 785.8L1578.2 789.7L1579 793.2L1579.8 796.2L1580.6 798.2L1581.4 799.7L1582.2 800.8L1583 800L1583.8 798L1584.5 795.6L1585.3 793L1586.1 790.2L1586.9 787.5L1587.7 785.2L1588.5 782.9L1589.3 780.9L1590.1 779.1L1590.9 778.7L1591.7 778.5L1592.5 779.1L1593.3 780.3L1594.1 781L1594.9 781.1L1595.7 780.6L1596.5 780.3L1597.3 780.1L1598.1 779.9L1598.9 779.1L1599.7 778.3L1600.5 777.1L1601.3 777L1602.1 776.7L1602.9 776.5L1603.7 775.8L1604.5 775L1605.3 774.3L1606.1 773.4L1606.9 772.5L1607.7 771.3L1608.5 770.5L1609.3 770L1610.1 770.3L1610.9 770.5L1611.7 770.7L1612.5 771.1L1613.3 772.3L1614.1 773.8L1614.9 774.5L1615.7 774.4L1616.5 774.3L1617.3 774.7L1618.1 775.2L1618.9 775.8L1619.7 776.7L1620.5 777L1621.3 777.3L1622.1 776.9L1622.9 777.6L1623.7 777.9L1624.5 778.3L1625.3 778.1L1626.1 777.4L1626.9 776.9L1627.7 775.9L1628.5 775.7L1629.3 774.4L1630.1 773.4L1630.9 772.3L1631.7 772.8L1632.5 773.2L1633.3 773.6L1634.1 773.3L1634.9 773.1L1635.7 772.9L1636.5 772.6L1637.3 772.5L1638.1 772.2L1638.9 772L1639.7 771.5L1640.5 770.8L1641.3 769.9L1642.1 769.6L1642.9 769.3L1643.7 769L1644.5 768.7L1645.3 769L1646.1 769.8L1646.9 770.3L1647.7 770.3L1648.5 769.5L1649.3 768.9L1650.1 768.5L1650.9 768.2L1651.7 767.9L1652.5 768.1L1653.3 769L1654.1 769.6L1654.9 769.6L1655.7 769.2L1656.5 769.2L1657.3 769.6L1658.1 769.4L1658.9 769.3L1659.7 769.2L1660.5 769.9L1661.3 770.4L1662.1 770.6L1662.9 769.7L1663.7 768.6L1664.5 767.5L1665.3 767.2L1666.1 766.9L1666.9 767.2L1667.7 767.2L1668.5 767.7L1669.3 767.3L1670.1 767.3L1670.9 767.3L1671.7 767.9L1672.5 768.2L1673.3 767.9L1674.1 767.7L1674.9 767.5L1675.7 767.6L1676.5 767.3L1677.3 766.9L1678.1 766.5L1678.9 766L1679.7 766L1680.5 766.1L1681.2 766.7L1682 767L1682.8 767.1L1683.6 767L1684.4 766.7L1685.2 766.8L1686 766.9L1686.8 767.3L1687.6 767L1688.4 766.3L1689.2 766L1690 766.2L1690.8 766.8L1691.6 766.5L1692.4 766.2L1693.2 766.2L1694 766.1L1694.8 765.5L1695.6 764.6L1696.4 764L1697.2 764L1698 764L1698.8 764.1L1699.6 764.5L1700.4 765.3L1701.2 766.4L1702 766.8L1702.8 766.5L1703.6 765.8L1704.4 765.6L1705.2 766.2L1706 766.7L1706.8 767L1707.6 766.7L1708.4 766.3L1709.2 765.9L1710 765.7L1710.8 765.5L1711.6 765.7L1712.4 765.8L1713.2 766.3L1714 766.8L1714.8 766.8L1715.6 766.5L1716.4 766L1717.2 766.2L1718 766.5L1718.8 767L1719.6 767.5L1720.4 767.9L1721.2 768.2L1722 767.7L1722.8 767.1L1723.6 766.5L1724.4 766.8L1725.2 767.3L1726 768L1726.8 767.8L1727.6 767.1L1728.4 766.4L1729.2 766.3L1730 766.7L1731 768.6L1733 768.6L1735 767.6L1737 768.3L1739 766.7L1741 764.8L1743 769.1L1745 768.4L1747 764.9L1749 765.5L1751 766.2L1753 767.6L1755 769.2L1757 768.2L1759 767L1761 767.9L1763 767.2L1765 767.6L1767 766.6L1769 765.6L1771 768.7L1773 767.2L1775 767.5L1777 766.6L1779 766.5L1781 766.8L1783 768.1L1785 769.2L1787 768.5L1789 766.9L1791 771L1793 769.2L1795 769L1797 767L1799 767L1801 768.1L1803 765.2L1805 765.9L1807 767.6L1809 770.7L1811 768.6L1813 766.3L1815 765.6L1817 768.3L1819 766.5L1821 766.8L1823 769.9L1825 768L1827 767L1829 766.3L1831 768.9L1833 769.4L1835 766.9L1837 765.4L1839 766.8L1841 769.1L1843 768.3L1845 766L1847 767.6L1849 768.4L1851 767.6L1853 767.7L1855 767.5L1857 766.7L1859 766.4L1861 765.4L1863 765.4L1865 764.7L1867 767.4L1869 768L1871 767.6L1873 768L1875 767.6L1877 766.4L1879 767.4L1881 766.9L1883 767L1885 764.5L1887 766.1L1889 767.6L1891 766.9L1893 766.1L1895 764.9L1897 766L1899 768.9L1901 766.8L1903 768.6L1905 767L1907 768.7L1909 766.9L1911 767.8L1913 768.3L1915 768.3L1917 766.3L1919 766.7L1921 766.1L1923 766.9L1925 766.9L1927 766.9L1929 768.1L1931 766.1L1933 766.1L1935 766.3L1937 766.9L1939 766.2L1941 767.8L1943 766L1945 769.5L1947 767.9L1949 769.1L1951 766.3L1953 766.8L1955 767.5L1957 769.8L1959 768L1961 769.5L1963 766.9L1965 769.3L1967 766.9L1969 765L1971 764.3L1973 767.1L1975 767.1L1977 767.7L1979 767.4L1981 768.1L1983 769.7L1985 767.6L1987 767.9L1989 767L1991 765.1L1993 766.6L1995 769.3L1997 766.7L1999 770.4" stroke="#111111" stroke-width="4.0"/>
<path d="M1156.2 767.6L1340 767.4L1340.8 767.3L1341.6 767.2L1342.4 767.1L1343.2 767.1L1344 767L1344.8 766.9L1345.6 766.8L1346.4 766.7L1347.2 766.6L1348 766.5L1348.8 766.5L1349.6 766.4L1350.4 766.3L1351.2 766.2L1352 766.2L1352.8 766.1L1353.6 766L1354.4 765.9L1355.2 765.9L1356 765.8L1356.8 765.7L1357.6 765.7L1358.4 765.6L1359.2 765.5L1360 765.5L1360.8 765.4L1361.6 765.4L1362.4 765.3L1363.2 765.3L1364 765.2L1364.8 765.1L1365.6 765.1L1366.4 765.1L1367.2 765L1368 765L1368.8 764.9L1369.6 764.9L1370.4 764.9L1371.2 764.8L1372 764.8L1372.8 764.8L1373.6 764.8L1374.4 764.7L1375.2 764.7L1376 764.7L1376.8 764.7L1377.6 764.7L1378.4 764.6L1379.2 764.6L1380 764.6L1380.8 764.6L1381.6 764.6L1382.4 764.6L1383.2 764.6L1384 764.6L1384.8 764.5L1385.6 764.5L1386.4 764.5L1387.2 764.5L1388 764.5L1388.8 764.5L1389.5 764.5L1390.3 764.4L1391.1 764.4L1391.9 764.4L1392.7 764.4L1393.5 764.4L1394.3 764.3L1395.1 764.3L1395.9 764.3L1396.7 764.3L1397.5 764.2L1398.3 764.2L1399.1 764.2L1399.9 764.1L1400.7 764.1L1401.5 764L1402.3 764L1403.1 763.9L1403.9 763.8L1404.7 763.5L1405.5 763L1406.3 762.4L1407.1 761.8L1407.9 761.2L1408.7 760.7L1409.5 760.4L1410.3 760.1L1411.1 759.9L1411.9 759.7L1412.7 759.5L1413.5 759.3L1414.3 759.1L1415.1 759L1415.9 758.8L1416.7 758.7L1417.5 758.5L1418.3 758.4L1419.1 758.3L1419.9 758.2L1420.7 758L1421.5 757.9L1422.3 757.8L1423.1 757.7L1423.9 757.5L1424.7 757.4L1425.5 757.3L1426.3 757.1L1427.1 756.9L1427.9 756.7L1428.7 756.6L1429.5 756.3L1430.3 756.1L1431.1 755.8L1431.9 755.5L1432.7 755.1L1433.5 754.7L1434.3 754.3L1435.1 753.9L1435.9 753.5L1436.7 753.1L1437.5 752.7L1438.3 752.3L1439.1 751.9L1439.9 751.5L1440.7 751.2L1441.5 750.9L1442.3 750.7L1443.1 750.5L1443.9 750.3L1444.7 750.2L1445.5 750.2L1446.3 750.3L1447.1 750.5L1447.9 750.9L1448.7 751.2L1449.5 751.6L1450.3 752L1451.1 752.3L1451.9 752.6L1452.7 752.8L1453.5 752.8L1454.3 752.8L1455.1 752.8L1455.9 752.7L1456.7 752.7L1457.5 752.6L1458.3 752.6L1459.1 752.5L1459.9 752.4L1460.7 752.3L1461.5 752.3L1462.3 752.2L1463.1 752.1L1463.9 752L1464.7 752L1465.5 751.9L1466.3 751.9L1467.1 751.8L1467.9 751.8L1468.7 751.8L1469.5 751.8L1470.3 751.7L1471.1 751.7L1471.9 751.7L1472.7 751.7L1473.5 751.6L1474.3 751.6L1475.1 751.6L1475.9 751.5L1476.7 751.4L1477.5 751.3L1478.3 750.8L1479.1 749.7L1479.9 748.2L1480.7 746.4L1481.5 744.6L1482.3 742.7L1483.1 741L1483.9 739.4L1484.7 737.8L1485.5 736.2L1486.2 734.6L1487 732.9L1487.8 731.2L1488.6 729.5L1489.4 727.7L1490.2 726L1491 724.3L1491.8 722.6L1492.6 720.9L1493.4 719.1L1494.2 717.1L1495 714.7L1495.8 711.8L1496.6 708.3L1497.4 704.3L1498.2 699.9L1499 695.2L1499.8 690.5L1500.6 685.6L1501.4 680.3L1502.2 674.6L1503 668.7L1503.8 662.7L1504.6 656.6L1505.4 650.7L1506.2 644.6L1507 638.4L1507.8 632L1508.6 625.8L1509.4 620L1510.2 614.6L1511 608.9L1511.8 603L1512.6 597.2L1513.4 592.1L1514.2 588.1L1515 585.6L1515.8 585.1L1516.6 587.1L1517.4 591.4L1518.2 597.6L1519 605.3L1519.8 614L1520.6 626.5L1521.4 646.7L1522.2 669.3L1523 692.2L1523.8 717L1524.6 741.7L1525.4 765.4L1526.2 789.4L1527 815.5L1527.8 844L1528.6 874.7L1529.4 908.8L1530.2 942.3L1531 975.3L1531.8 999.7L1532.6 1015.7L1533.4 1025.6L1534.2 1025.1L1535 1017.9L1535.8 1006.8L1536.6 994.1L1537.4 974.4L1538.2 949.8L1539 925.8L1539.8 902.7L1540.6 879.5L1541.4 857.3L1542.2 836.5L1543 816L1543.8 793.7L1544.6 767.8L1545.4 743.2L1546.2 725.8L1547 712.8L1547.8 701.7L1548.6 694.9L1549.4 694.7L1550.2 700.3L1551 709.6L1551.8 720.4L1552.6 731.1L1553.4 744.2L1554.2 758.9L1555 773.3L1555.8 785.4L1556.6 797.5L1557.4 809.9L1558.2 821.5L1559 831.1L1559.8 837.5L1560.6 839.6L1561.4 836.8L1562.2 830.3L1563 821.4L1563.8 811.8L1564.6 802.7L1565.4 795.5L1566.2 790.6L1567 785.9L1567.8 781.3L1568.6 777L1569.4 773.2L1570.2 770.2L1571 768.2L1571.8 767.3L1572.6 767.7L1573.4 769.2L1574.2 771.6L1575 774.8L1575.8 778.4L1576.6 782.3L1577.4 786.3L1578.2 790.2L1579 793.7L1579.8 796.7L1580.6 799L1581.4 800.4L1582.2 800.6L1583 799.8L1583.8 798.2L1584.5 796L1585.3 793.4L1586.1 790.6L1586.9 787.8L1587.7 785.3L1588.5 783.2L1589.3 781.7L1590.1 781.1L1590.9 780.9L1591.7 780.8L1592.5 780.7L1593.3 780.7L1594.1 780.6L1594.9 780.5L1595.7 780.5L1596.5 780.3L1597.3 780.2L1598.1 779.9L1598.9 779.4L1599.7 778.9L1600.5 778.3L1601.3 777.7L1602.1 777L1602.9 776.3L1603.7 775.5L1604.5 774.8L1605.3 774.2L1606.1 773.5L1606.9 773L1607.7 772.5L1608.5 772.2L1609.3 772L1610.1 771.9L1610.9 772L1611.7 772.2L1612.5 772.5L1613.3 772.9L1614.1 773.4L1614.9 773.9L1615.7 774.5L1616.5 775.1L1617.3 775.7L1618.1 776.2L1618.9 776.7L1619.7 777.2L1620.5 777.5L1621.3 777.8L1622.1 778L1622.9 778L1623.7 777.9L1624.5 777.8L1625.3 777.6L1626.1 777.4L1626.9 777.1L1627.7 776.7L1628.5 776.4L1629.3 776L1630.1 775.6L1630.9 775.1L1631.7 774.7L1632.5 774.2L1633.3 773.8L1634.1 773.4L1634.9 773L1635.7 772.6L1636.5 772.2L1637.3 771.9L1638.1 771.6L1638.9 771.3L1639.7 771.2L1640.5 771L1641.3 770.9L1642.1 770.8L1642.9 770.7L1643.7 770.6L1644.5 770.4L1645.3 770.4L1646.1 770.3L1646.9 770.2L1647.7 770.1L1648.5 770L1649.3 769.9L1650.1 769.8L1650.9 769.8L1651.7 769.7L1652.5 769.6L1653.3 769.6L1654.1 769.5L1654.9 769.4L1655.7 769.4L1656.5 769.3L1657.3 769.2L1658.1 769.2L1658.9 769.1L1659.7 769.1L1660.5 769L1661.3 768.9L1662.1 768.9L1662.9 768.8L1663.7 768.8L1664.5 768.7L1665.3 768.6L1666.1 768.6L1666.9 768.5L1667.7 768.5L1668.5 768.4L1669.3 768.3L1670.1 768.3L1670.9 768.2L1671.7 768.1L1672.5 768.1L1673.3 768L1674.1 768L1674.9 767.9L1675.7 767.8L1676.5 767.8L1677.3 767.7L1678.1 767.7L1678.9 767.6L1679.7 767.5L1680.5 767.5L1681.2 767.4L1682 767.4L1682.8 767.3L1683.6 767.3L1684.4 767.2L1685.2 767.2L1686 767.1L1686.8 767.1L1687.6 767.1L1688.4 767L1689.2 767L1690 767L1690.8 766.9L1691.6 766.9L1692.4 766.9L1693.2 766.8L1694 766.8L1694.8 766.8L1695.6 766.8L1696.4 766.7L1697.2 766.7L1698 766.7L1698.8 766.7L1699.6 766.7L1700.4 766.7L1701.2 766.7L1702 766.7L1702.8 766.7L1703.6 766.7L1704.4 766.7L1705.2 766.7L1706 766.7L1706.8 766.7L1707.6 766.8L1708.4 766.8L1709.2 766.8L1710 766.8L1710.8 766.8L1711.6 766.9L1712.4 766.9L1713.2 766.9L1714 766.9L1714.8 767L1715.6 767L1716.4 767L1717.2 767.1L1718 767.1L1718.8 767.2L1719.6 767.2L1720.4 767.2L1721.2 767.3L1722 767.3L1722.8 767.4L1723.6 767.4L1724.4 767.5L1725.2 767.5L1726 767.6L1726.8 767.7L1727.6 767.7L1728.4 767.8L1729.2 767.8L1730 767.9L2000.4 767.8" stroke="#111111" stroke-width="3.4" stroke-dasharray="14 7"/>
</g>
<g clip-path="url(#cRb)" stroke-linejoin="round">
<path d="M1156 1328.4L1157 1329.6L1158 1328L1159 1327.8L1160 1330.4L1161 1329.9L1162 1328.6L1163 1329L1164 1328.7L1165 1329.4L1166 1327.9L1167 1328L1168 1328.6L1169 1327.6L1170 1328.2L1171 1329.4L1172 1328.3L1173 1329.5L1174 1327.8L1175 1328.7L1176 1328.8L1177 1329.2L1178 1327.5L1179 1328.8L1180 1329L1181 1328.9L1182 1328.1L1183 1328.3L1184 1328.2L1185 1328.2L1186 1326.7L1187 1329L1188 1329L1189 1329.3L1190 1328L1191 1327.6L1192 1328.7L1193 1329.3L1194 1329.3L1195 1328L1196 1327.9L1197 1328.1L1198 1329.2L1199 1328.3L1200 1328.4L1201 1328.3L1202 1327.8L1203 1328.3L1204 1327.9L1205 1328.5L1206 1328.3L1207 1328L1208 1329.8L1209 1328.8L1210 1328.9L1211 1329.1L1212 1328.8L1213 1327.2L1214 1329.3L1215 1327.6L1216 1330L1217 1328.8L1218 1328.3L1219 1328L1220 1327.8L1221 1327.8L1222 1328.8L1223 1328.9L1224 1327.7L1225 1328.6L1226 1329.6L1227 1329.5L1228 1329.3L1229 1328L1230 1328.3L1231 1327.8L1232 1328.8L1233 1328.3L1234 1327.9L1235 1328.7L1236 1328L1237 1329L1238 1328.7L1239 1328.8L1240 1329.5L1241 1328L1242 1328.8L1243 1328.4L1244 1328L1245 1328L1246 1327.8L1247 1328.5L1248 1328.8L1249 1328.4L1250 1329.9L1251 1329.7L1252 1329.6L1253 1329.3L1254 1328L1255 1329.2L1256 1328.7L1257 1327.2L1258 1328.7L1259 1327.7L1260 1329.2L1261 1328.5L1262 1329.2L1263 1328.6L1264 1327.6L1265 1329.9L1266 1327.9L1267 1328.1L1268 1328.8L1269 1329.6L1270 1328.2L1271 1328.8L1272 1328.1L1273 1328.3L1274 1326.8L1275 1328.5L1276 1329.2L1277 1328.1L1278 1328.1L1279 1327L1280 1327.5L1281 1327.9L1282 1326.9L1283 1329.3L1284 1328.8L1285 1329.1L1286 1328.6L1287 1329.5L1288 1327.7L1289 1328.4L1290 1329.6L1291 1329.1L1292 1327.9L1293 1327.5L1294 1326.4L1295 1325.6L1296 1327.8L1297 1329.1L1298 1330.1L1299 1328L1300 1328.9L1301 1328.6L1302 1328.7L1303 1328.3L1304 1327.2L1305 1328L1306 1328.3L1307 1329.1L1308 1329.7L1309 1328.6L1310 1328.2L1311 1326.6L1312 1328L1313 1327.3L1314 1328.6L1315 1329.2L1316 1329L1317 1328.8L1318 1326.2L1319 1328.8L1320 1327.3L1321 1328.9L1322 1327.3L1323 1327.7L1324 1328.2L1325 1328.1L1326 1328.7L1327 1327.7L1328 1328.5L1329 1329.2L1330 1329.2L1331 1327.9L1332 1326.6L1333 1327.9L1334 1328.1L1335 1327.8L1336 1326.8L1337 1327.8L1338 1328.4L1339 1327L1340 1327.6L1341 1326.6L1342 1327.8L1343 1329.1L1344 1329.2L1345 1326.5L1346 1326.4L1347 1328.1L1348 1328.3L1349 1326.6L1350 1328.9L1351 1328.8L1352 1327.4L1353 1328.3L1354 1327.9L1355 1328.1L1356 1327.6L1357 1326.6L1358 1327.8L1359 1327.3L1360 1329.7L1361 1327.9L1362 1328.6L1363 1329L1364 1328.7L1365 1328.2L1366 1327L1367 1329.1L1368 1327.8L1369 1328.3L1370 1328.1L1371 1326.9L1372 1327.4L1373 1326.6L1374 1328L1375 1328.5L1376 1328L1377 1327.6L1378 1327.7L1379 1328.8L1380 1327.7L1381 1327.6L1382 1325.5L1383 1326.1L1384 1328.5L1385 1328L1386 1329.1L1387 1328.3L1388 1327.5L1389 1326.7L1390 1328.4L1391 1328.3L1392 1329.7L1393 1327.9L1394 1328.7L1395 1328.2L1396 1328.5L1397 1327.8L1398 1329.3L1399 1329L1400 1325.8L1401 1328.8L1402 1328.6L1403 1325.9L1404 1324.9L1405 1328.5L1406 1327.7L1407 1327L1408 1325.7L1409 1328.1L1410 1327.4L1411 1326.5L1412 1326.7L1413 1327.4L1414 1327.1L1415 1328.2L1416 1327.1L1417 1327.1L1418 1326.6L1419 1327.2L1420 1326.3L1421 1325.7L1422 1326.5L1423 1326.2L1424 1326.5L1425 1326.4L1426 1327L1427 1326.1L1428 1326.4L1429 1324.4L1430 1324.8L1431 1325.8L1432 1326.8L1433 1327.1L1434 1324.9L1435 1325.7L1436 1325.5L1437 1327.4L1438 1325L1439 1325.3L1440 1326.7L1441 1326.1L1442 1325.5L1443 1325.7L1444 1326L1445 1325.8L1446 1325.9L1447 1325.6L1448 1324.4L1449 1328L1450 1325.9L1451 1325.5L1452 1325.4L1453 1326L1454 1327.3L1455 1325.4L1456 1324.1L1457 1327.1L1458 1324.9L1459 1326L1460 1325.8L1461 1326.6L1462 1326L1463 1324.5L1464 1325.2L1465 1324.1L1466 1324.6L1467 1325.3L1468 1324.1L1469 1325.3L1470 1325L1471 1325.7L1472 1325L1473 1325.4L1474 1323.5L1475 1325.2L1476 1323.1L1477 1323.7L1478 1322.1L1479 1322.2L1480 1320.8L1481 1321.3L1482 1322.9L1483 1321L1484 1320.4L1485 1319.9L1486 1319.4L1487 1318.9L1488 1318.4L1489 1317.9L1490 1317L1491 1315.9L1492 1314.8L1493 1313.7L1494 1312.6L1495 1311.5L1496 1310.4L1497 1309.3L1498 1308.1L1499 1307L1500 1306.3L1501 1305.8L1502 1305.3L1503 1304.8L1504 1304.3L1505 1303.8L1506 1303.3L1507 1302.8L1508 1302.3L1509 1301.8L1510 1302.2L1511 1302.7L1512 1303.3L1513 1303.9L1514 1304.5L1515 1305.1L1516 1305.6L1517 1301.7L1518 1297.2L1519 1292.7L1520 1286.7L1521 1280.7L1522 1274.7L1523 1280.9L1524 1287L1525 1291.6L1526 1294L1527 1287L1528 1276L1529 1265.3L1530 1254.8L1531 1262.7L1532 1272.7L1533 1280.5L1534 1286.2L1535 1288.9L1536 1279.9L1537 1269.2L1538 1251.7L1539 1234.9L1540 1220.9L1541 1206.9L1542 1198.6L1543 1213.1L1544 1227.6L1545 1241L1546 1252L1547 1263L1548 1272.2L1549 1277.2L1550 1282.2L1551 1281.3L1552 1279.7L1553 1278.2L1554 1276.6L1555 1276.6L1556 1278.9L1557 1281.1L1558 1283.4L1559 1285.7L1560 1288.3L1561 1290.9L1562 1293.4L1563 1295.5L1564 1297L1565 1298.5L1566 1300L1567 1301.5L1568 1303L1569 1304.5L1570 1306L1571 1307.5L1572 1309.1L1573 1310.6L1574 1312.1L1575 1313.2L1576 1314.1L1577 1315L1578 1315.9L1579 1316.8L1580 1317.7L1581 1318.5L1582 1319.4L1583 1320.1L1584 1320.7L1585 1320.9L1586 1322.7L1587 1321.9L1588 1323.1L1589 1325.2L1590 1323.3L1591 1324.9L1592 1325.1L1593 1325.8L1594 1325.6L1595 1324.8L1596 1325.6L1597 1325.3L1598 1325.5L1599 1324.9L1600 1326.6L1601 1327.8L1602 1325.7L1603 1327L1604 1325.7L1605 1326.4L1606 1326.9L1607 1326.4L1608 1325L1609 1324.9L1610 1326.7L1611 1326.6L1612 1325.8L1613 1327.6L1614 1326.5L1615 1326.9L1616 1326.6L1617 1327.6L1618 1328.3L1619 1328.7L1620 1327.9L1621 1327.3L1622 1327.2L1623 1325.2L1624 1325.9L1625 1327.8L1626 1326.6L1627 1327.3L1628 1327.2L1629 1326.8L1630 1326.4L1631 1327.3L1632 1326.1L1633 1328.1L1634 1327L1635 1324.7L1636 1326.9L1637 1325.8L1638 1327L1639 1326.6L1640 1327.1L1641 1327.3L1642 1327.8L1643 1326.7L1644 1327.9L1645 1326.5L1646 1326.2L1647 1326.8L1648 1327.4L1649 1326.8L1650 1327.5L1651 1326.4L1652 1328.9L1653 1327.5L1654 1329L1655 1328.6L1656 1326L1657 1326.4L1658 1327.9L1659 1328.6L1660 1329.9L1661 1327.7L1662 1325.1L1663 1326.9L1664 1327.8L1665 1326.8L1666 1328.7L1667 1327.5L1668 1327.2L1669 1327.3L1670 1326.6L1671 1327L1672 1326.7L1673 1327.9L1674 1326.5L1675 1325.8L1676 1328.2L1677 1328.1L1678 1326.1L1679 1327.5L1680 1326L1681 1327.7L1682 1326L1683 1327.2L1684 1327.1L1685 1325.9L1686 1327.6L1687 1328.2L1688 1327.7L1689 1326.9L1690 1328.7L1691 1326.8L1692 1327.8L1693 1326.3L1694 1329.5L1695 1328.1L1696 1328.9L1697 1328.1L1698 1327.1L1699 1327.5L1700 1327.6L1701 1327.5L1702 1327.2L1703 1328.3L1704 1326.7L1705 1326.8L1706 1327L1707 1326.9L1708 1327.1L1709 1325.6L1710 1327.5L1711 1327.7L1712 1328.1L1713 1328.3L1714 1328.5L1715 1328.2L1716 1327.5L1717 1327.1L1718 1327.4L1719 1328.1L1720 1326.6L1721 1326.8L1722 1327.6L1723 1328L1724 1327L1725 1327.3L1726 1328.8L1727 1327.5L1728 1327.2L1729 1328.3L1730 1327.3L1731 1328.8L1732 1326.3L1733 1326.4L1734 1327.7L1735 1327.2L1736 1329.7L1737 1328.5L1738 1327.8L1739 1328.5L1740 1326.9L1741 1325.7L1742 1328.6L1743 1328.3L1744 1327.3L1745 1326.1L1746 1328.6L1747 1327.3L1748 1325.9L1749 1329L1750 1328.7L1751 1327.9L1752 1328L1753 1326.8L1754 1327.3L1755 1329.1L1756 1327.1L1757 1328.1L1758 1326.4L1759 1328.1L1760 1328.1L1761 1327.1L1762 1326.9L1763 1327.2L1764 1329.1L1765 1327.1L1766 1328.5L1767 1327.4L1768 1328.9L1769 1327.2L1770 1328.3L1771 1328.8L1772 1327L1773 1327.4L1774 1328.2L1775 1326.3L1776 1328L1777 1327.6L1778 1327.4L1779 1328.2L1780 1327.2L1781 1328.1L1782 1328L1783 1326.4L1784 1328.6L1785 1329.8L1786 1326.2L1787 1325.4L1788 1328L1789 1329.4L1790 1327.9L1791 1327.9L1792 1327.8L1793 1328.7L1794 1327.2L1795 1327.2L1796 1329L1797 1327.1L1798 1325.8L1799 1327.5L1800 1328L1801 1327.8L1802 1327.2L1803 1329.3L1804 1327.6L1805 1328.1L1806 1326.1L1807 1327.9L1808 1326.2L1809 1328.7L1810 1327.2L1811 1327.4L1812 1328.5L1813 1327.6L1814 1326.6L1815 1328L1816 1329.3L1817 1327.8L1818 1328.6L1819 1328.1L1820 1327.8L1821 1329.3L1822 1329.2L1823 1327.3L1824 1328.2L1825 1330.1L1826 1327.1L1827 1327.5L1828 1328.4L1829 1329L1830 1327L1831 1327.5L1832 1325.6L1833 1327.4L1834 1327.4L1835 1327.9L1836 1327.1L1837 1327.2L1838 1326.7L1839 1328.3L1840 1328.2L1841 1328.2L1842 1327.1L1843 1326.5L1844 1328.2L1845 1328.2L1846 1327.5L1847 1328L1848 1327L1849 1329.8L1850 1328.6L1851 1328.5L1852 1329.9L1853 1328.7L1854 1328.7L1855 1328L1856 1326.8L1857 1328.1L1858 1328.8L1859 1327.9L1860 1326.9L1861 1328.7L1862 1328.7L1863 1327.4L1864 1328.1L1865 1327.3L1866 1327.9L1867 1327.2L1868 1328.8L1869 1327.9L1870 1328.1L1871 1329L1872 1329.3L1873 1327.3L1874 1328.2L1875 1328.8L1876 1328L1877 1326.9L1878 1329.9L1879 1329.2L1880 1328.7L1881 1326.6L1882 1327.7L1883 1327.2L1884 1328.9L1885 1328.9L1886 1327.5L1887 1327.9L1888 1327.4L1889 1328.1L1890 1327.7L1891 1327.8L1892 1327.2L1893 1327.2L1894 1329.4L1895 1330L1896 1327L1897 1326.9L1898 1328.9L1899 1329.6L1900 1327.9L1901 1327.1L1902 1326.3L1903 1327.5L1904 1328.3L1905 1328.8L1906 1328L1907 1328.2L1908 1328.9L1909 1326.1L1910 1326.4L1911 1327L1912 1328.8L1913 1327.2L1914 1327.4L1915 1327.6L1916 1326.9L1917 1327.4L1918 1327.3L1919 1327.4L1920 1327.7L1921 1329.6L1922 1327.9L1923 1328.5L1924 1329.2L1925 1326.5L1926 1326.5L1927 1326.8L1928 1327.8L1929 1326.8L1930 1328L1931 1327.8L1932 1329L1933 1327.7L1934 1328L1935 1329.2L1936 1328.1L1937 1328.1L1938 1326.4L1939 1327.2L1940 1328L1941 1327.8L1942 1328L1943 1328.2L1944 1329L1945 1328.2L1946 1328.7L1947 1329.2L1948 1327.6L1949 1327.7L1950 1329.7L1951 1328.2L1952 1327.2L1953 1327.1L1954 1327.2L1955 1328.1L1956 1328.9L1957 1329.1L1958 1327.8L1959 1327.8L1960 1326.9L1961 1327.1L1962 1328.2L1963 1329.2L1964 1328.4L1965 1327.9L1966 1328.3L1967 1328.6L1968 1327.9L1969 1328.6L1970 1328.7L1971 1327.8L1972 1328.5L1973 1327.9L1974 1327.9L1975 1329.2L1976 1328.6L1977 1326.8L1978 1329.2L1979 1330.1L1980 1329.8L1981 1328.1L1982 1328.1L1983 1328.3L1984 1327.1L1985 1330.6L1986 1327.8L1987 1326.8L1988 1329.2L1989 1328.5L1990 1328.9L1991 1329L1992 1328.5L1993 1326.9L1994 1326.5L1995 1328.5L1996 1326.5L1997 1328.2L1998 1326.6L1999 1328.3L2000 1328.1L2000 1337.3L1999 1337.1L1998 1338.8L1997 1337.2L1996 1338.9L1995 1336.9L1994 1338.9L1993 1338.5L1992 1336.9L1991 1336.4L1990 1336.5L1989 1336.9L1988 1336.2L1987 1338.6L1986 1337.6L1985 1334.8L1984 1338.3L1983 1337.1L1982 1337.3L1981 1337.3L1980 1335.6L1979 1335.3L1978 1336.2L1977 1338.6L1976 1336.8L1975 1336.2L1974 1337.5L1973 1337.5L1972 1336.9L1971 1337.6L1970 1336.7L1969 1336.8L1968 1337.5L1967 1336.8L1966 1337.1L1965 1337.5L1964 1337L1963 1336.2L1962 1337.2L1961 1338.3L1960 1338.5L1959 1337.6L1958 1337.6L1957 1336.3L1956 1336.5L1955 1337.3L1954 1338.2L1953 1338.3L1952 1338.2L1951 1337.2L1950 1335.7L1949 1337.7L1948 1337.8L1947 1336.2L1946 1336.7L1945 1337.2L1944 1336.4L1943 1337.2L1942 1337.4L1941 1337.6L1940 1337.4L1939 1338.2L1938 1339L1937 1337.3L1936 1337.3L1935 1336.2L1934 1337.4L1933 1337.7L1932 1336.4L1931 1337.6L1930 1337.4L1929 1338.6L1928 1337.6L1927 1338.6L1926 1338.9L1925 1338.9L1924 1336.2L1923 1336.9L1922 1337.5L1921 1335.8L1920 1337.7L1919 1338L1918 1338.1L1917 1338L1916 1338.5L1915 1337.8L1914 1338L1913 1338.2L1912 1336.6L1911 1338.4L1910 1339L1909 1339.3L1908 1336.5L1907 1337.2L1906 1337.4L1905 1336.6L1904 1337.1L1903 1337.9L1902 1339.1L1901 1338.3L1900 1337.5L1899 1335.8L1898 1336.5L1897 1338.5L1896 1338.4L1895 1335.4L1894 1336L1893 1338.2L1892 1338.2L1891 1337.6L1890 1337.7L1889 1337.3L1888 1338L1887 1337.5L1886 1337.9L1885 1336.5L1884 1336.5L1883 1338.2L1882 1337.7L1881 1338.8L1880 1336.7L1879 1336.2L1878 1335.5L1877 1338.5L1876 1337.4L1875 1336.6L1874 1337.2L1873 1338.1L1872 1336.1L1871 1336.4L1870 1337.3L1869 1337.5L1868 1336.6L1867 1338.2L1866 1337.5L1865 1338.1L1864 1337.3L1863 1338L1862 1336.7L1861 1336.7L1860 1338.5L1859 1337.5L1858 1336.6L1857 1337.3L1856 1338.6L1855 1337.4L1854 1336.7L1853 1336.7L1852 1335.5L1851 1336.9L1850 1336.8L1849 1335.6L1848 1338.4L1847 1337.4L1846 1337.9L1845 1337.2L1844 1337.2L1843 1338.9L1842 1338.3L1841 1337.2L1840 1337.2L1839 1337.1L1838 1338.7L1837 1338.2L1836 1338.3L1835 1337.5L1834 1338L1833 1338L1832 1339.8L1831 1337.9L1830 1338.4L1829 1336.4L1828 1337L1827 1337.9L1826 1338.3L1825 1335.3L1824 1337.2L1823 1338.1L1822 1336.2L1821 1336.1L1820 1337.6L1819 1337.3L1818 1336.8L1817 1337.6L1816 1336.1L1815 1337.4L1814 1338.8L1813 1337.8L1812 1336.9L1811 1338L1810 1338.2L1809 1336.7L1808 1339.2L1807 1337.5L1806 1339.3L1805 1337.3L1804 1337.8L1803 1336.1L1802 1338.2L1801 1337.6L1800 1337.4L1799 1337.9L1798 1339.6L1797 1338.3L1796 1336.4L1795 1338.2L1794 1338.2L1793 1336.7L1792 1337.6L1791 1337.5L1790 1337.5L1789 1336L1788 1337.4L1787 1340L1786 1339.2L1785 1335.6L1784 1336.8L1783 1339L1782 1337.4L1781 1337.3L1780 1338.2L1779 1337.2L1778 1338L1777 1337.8L1776 1337.4L1775 1339.1L1774 1337.2L1773 1338L1772 1338.4L1771 1336.6L1770 1337.1L1769 1338.2L1768 1336.5L1767 1338L1766 1336.9L1765 1338.3L1764 1336.3L1763 1338.2L1762 1338.5L1761 1338.3L1760 1337.3L1759 1337.3L1758 1339L1757 1337.3L1756 1338.3L1755 1336.3L1754 1338.1L1753 1338.6L1752 1337.4L1751 1337.5L1750 1336.7L1749 1336.4L1748 1339.5L1747 1338.1L1746 1336.8L1745 1339.3L1744 1338.1L1743 1337.1L1742 1336.8L1741 1339.7L1740 1338.5L1739 1336.9L1738 1337.6L1737 1336.9L1736 1335.7L1735 1338.2L1734 1337.7L1733 1339L1732 1339.1L1731 1336.6L1730 1338.1L1729 1337.1L1728 1338.2L1727 1337.9L1726 1336.6L1725 1338.1L1724 1338.4L1723 1337.4L1722 1337.8L1721 1338.6L1720 1338.8L1719 1337.3L1718 1338L1717 1338.3L1716 1337.9L1715 1337.2L1714 1336.9L1713 1337.1L1712 1337.3L1711 1337.7L1710 1337.9L1709 1339.8L1708 1338.3L1707 1338.5L1706 1338.4L1705 1338.6L1704 1338.7L1703 1337.1L1702 1338.2L1701 1337.9L1700 1337.8L1699 1337.9L1698 1338.3L1697 1337.3L1696 1336.5L1695 1337.3L1694 1335.9L1693 1339.1L1692 1337.6L1691 1338.6L1690 1336.7L1689 1338.5L1688 1337.7L1687 1337.2L1686 1337.8L1685 1339.5L1684 1338.3L1683 1338.2L1682 1339.4L1681 1337.7L1680 1339.4L1679 1337.9L1678 1339.3L1677 1337.3L1676 1337.2L1675 1339.6L1674 1338.9L1673 1337.5L1672 1338.7L1671 1338.4L1670 1338.8L1669 1338.1L1668 1338.2L1667 1337.9L1666 1336.7L1665 1338.6L1664 1337.6L1663 1338.5L1662 1340.3L1661 1337.7L1660 1335.5L1659 1336.8L1658 1337.5L1657 1339L1656 1339.4L1655 1336.8L1654 1336.4L1653 1337.9L1652 1336.5L1651 1339L1650 1337.9L1649 1338.6L1648 1338L1647 1338.6L1646 1339.2L1645 1338.9L1644 1337.5L1643 1338.7L1642 1337.6L1641 1338.1L1640 1338.3L1639 1338.8L1638 1338.4L1637 1339.6L1636 1338.5L1635 1340.7L1634 1338.4L1633 1337.3L1632 1339.3L1631 1338.1L1630 1339L1629 1338.6L1628 1338.2L1627 1338.1L1626 1338.8L1625 1337.6L1624 1339.5L1623 1340.2L1622 1338.2L1621 1338.1L1620 1337.5L1619 1336.7L1618 1337.1L1617 1337.8L1616 1338.8L1615 1338.5L1614 1338.9L1613 1337.8L1612 1339.6L1611 1338.8L1610 1338.7L1609 1340.5L1608 1340.4L1607 1339L1606 1338.5L1605 1339L1604 1339.7L1603 1338.4L1602 1339.7L1601 1337.6L1600 1338.8L1599 1340.5L1598 1339.9L1597 1340.1L1596 1339.8L1595 1340.6L1594 1339.8L1593 1339.6L1592 1340.3L1591 1340.5L1590 1342.1L1589 1340.2L1588 1342.3L1587 1343.5L1586 1342.7L1585 1344.5L1584 1344.7L1583 1345.3L1582 1346L1581 1346.9L1580 1347.7L1579 1348.6L1578 1349.5L1577 1350.4L1576 1351.3L1575 1352.2L1574 1353.3L1573 1354.8L1572 1356.3L1571 1357.9L1570 1359.4L1569 1360.9L1568 1362.4L1567 1363.9L1566 1365.5L1565 1367L1564 1368.5L1563 1370L1562 1372L1561 1374.5L1560 1377.1L1559 1379.7L1558 1382L1557 1384.3L1556 1386.5L1555 1388.8L1554 1388.8L1553 1387.2L1552 1385.7L1551 1384.1L1550 1383.2L1549 1388.2L1548 1393.2L1547 1402.4L1546 1413.4L1545 1424.4L1544 1437.8L1543 1452.3L1542 1466.8L1541 1458.5L1540 1444.5L1539 1430.5L1538 1413.7L1537 1396.2L1536 1385.5L1535 1376.5L1534 1379.2L1533 1384.9L1532 1392.7L1531 1402.7L1530 1410.6L1529 1400.1L1528 1389.4L1527 1378.4L1526 1371.4L1525 1373.8L1524 1378.4L1523 1384.5L1522 1390.7L1521 1384.7L1520 1378.7L1519 1372.7L1518 1368.2L1517 1363.7L1516 1359.8L1515 1360.3L1514 1360.9L1513 1361.5L1512 1362.1L1511 1362.7L1510 1363.2L1509 1363.6L1508 1363.1L1507 1362.6L1506 1362.1L1505 1361.6L1504 1361.1L1503 1360.6L1502 1360.1L1501 1359.6L1500 1359.1L1499 1358.4L1498 1357.3L1497 1356.1L1496 1355L1495 1353.9L1494 1352.8L1493 1351.7L1492 1350.6L1491 1349.5L1490 1348.4L1489 1347.5L1488 1347L1487 1346.5L1486 1346L1485 1345.5L1484 1345L1483 1344.4L1482 1342.5L1481 1344.1L1480 1344.6L1479 1343.2L1478 1343.3L1477 1341.7L1476 1342.3L1475 1340.2L1474 1341.9L1473 1340L1472 1340.4L1471 1339.7L1470 1340.4L1469 1340.1L1468 1341.3L1467 1340.1L1466 1340.8L1465 1341.3L1464 1340.2L1463 1340.9L1462 1339.4L1461 1338.8L1460 1339.6L1459 1339.4L1458 1340.5L1457 1338.3L1456 1341.3L1455 1340L1454 1338.1L1453 1339.4L1452 1340L1451 1339.9L1450 1339.5L1449 1337.4L1448 1341L1447 1339.8L1446 1339.5L1445 1339.6L1444 1339.4L1443 1339.7L1442 1339.9L1441 1339.3L1440 1338.7L1439 1340.1L1438 1340.4L1437 1338L1436 1339.9L1435 1339.7L1434 1340.5L1433 1338.3L1432 1338.6L1431 1339.6L1430 1340.6L1429 1341L1428 1339L1427 1339.3L1426 1338.4L1425 1339L1424 1338.9L1423 1339.2L1422 1338.9L1421 1339.7L1420 1339.1L1419 1338.2L1418 1338.8L1417 1338.3L1416 1338.3L1415 1337.2L1414 1338.3L1413 1338L1412 1338.7L1411 1338.9L1410 1338L1409 1337.3L1408 1339.7L1407 1338.4L1406 1337.7L1405 1336.9L1404 1340.5L1403 1339.5L1402 1336.8L1401 1336.6L1400 1339.6L1399 1336.4L1398 1336.1L1397 1337.6L1396 1336.9L1395 1337.2L1394 1336.7L1393 1337.5L1392 1335.7L1391 1337.1L1390 1337L1389 1338.7L1388 1337.9L1387 1337.1L1386 1336.3L1385 1337.4L1384 1336.9L1383 1339.3L1382 1339.9L1381 1337.8L1380 1337.7L1379 1336.6L1378 1337.7L1377 1337.8L1376 1337.4L1375 1336.9L1374 1337.4L1373 1338.8L1372 1338L1371 1338.5L1370 1337.3L1369 1337.1L1368 1337.6L1367 1336.3L1366 1338.4L1365 1337.2L1364 1336.7L1363 1336.4L1362 1336.8L1361 1337.5L1360 1335.7L1359 1338.1L1358 1337.6L1357 1338.8L1356 1337.8L1355 1337.3L1354 1337.5L1353 1337.1L1352 1338L1351 1336.6L1350 1336.5L1349 1338.8L1348 1337.1L1347 1337.3L1346 1339L1345 1338.9L1344 1336.2L1343 1336.3L1342 1337.6L1341 1338.8L1340 1337.8L1339 1338.4L1338 1337L1337 1337.6L1336 1338.6L1335 1337.6L1334 1337.3L1333 1337.5L1332 1338.8L1331 1337.5L1330 1336.2L1329 1336.2L1328 1336.9L1327 1337.7L1326 1336.7L1325 1337.3L1324 1337.2L1323 1337.7L1322 1338.1L1321 1336.5L1320 1338.1L1319 1336.6L1318 1339.2L1317 1336.6L1316 1336.4L1315 1336.2L1314 1336.8L1313 1338.1L1312 1337.4L1311 1338.8L1310 1337.2L1309 1336.8L1308 1335.7L1307 1336.3L1306 1337.1L1305 1337.4L1304 1338.2L1303 1337.1L1302 1336.7L1301 1336.8L1300 1336.5L1299 1337.4L1298 1335.3L1297 1336.3L1296 1337.6L1295 1339.8L1294 1339L1293 1337.9L1292 1337.5L1291 1336.3L1290 1335.8L1289 1337L1288 1337.7L1287 1335.9L1286 1336.8L1285 1336.3L1284 1336.6L1283 1336.1L1282 1338.5L1281 1337.5L1280 1337.9L1279 1338.4L1278 1337.3L1277 1337.3L1276 1336.2L1275 1336.9L1274 1338.6L1273 1337.1L1272 1337.3L1271 1336.6L1270 1337.2L1269 1335.8L1268 1336.6L1267 1337.3L1266 1337.5L1265 1335.5L1264 1337.8L1263 1336.8L1262 1336.2L1261 1336.9L1260 1336.2L1259 1337.7L1258 1336.7L1257 1338.2L1256 1336.7L1255 1336.2L1254 1337.4L1253 1336.1L1252 1335.8L1251 1335.7L1250 1335.5L1249 1337L1248 1336.6L1247 1336.9L1246 1337.6L1245 1337.4L1244 1337.4L1243 1337L1242 1336.6L1241 1337.4L1240 1335.9L1239 1336.6L1238 1336.7L1237 1336.4L1236 1337.4L1235 1336.7L1234 1337.5L1233 1337.1L1232 1336.6L1231 1337.6L1230 1337.1L1229 1337.4L1228 1336.1L1227 1335.9L1226 1335.8L1225 1336.8L1224 1337.7L1223 1336.5L1222 1336.6L1221 1337.6L1220 1337.6L1219 1337.4L1218 1337.1L1217 1336.6L1216 1335.4L1215 1337.8L1214 1336.1L1213 1338.2L1212 1336.6L1211 1336.3L1210 1336.5L1209 1336.6L1208 1335.6L1207 1337.4L1206 1337.1L1205 1336.9L1204 1337.5L1203 1337.1L1202 1337.6L1201 1337.1L1200 1337L1199 1337.1L1198 1336.2L1197 1337.3L1196 1337.5L1195 1337.4L1194 1336.1L1193 1336.1L1192 1336.7L1191 1337.8L1190 1337.4L1189 1336.1L1188 1336.4L1187 1336.4L1186 1338.7L1185 1337.2L1184 1337.2L1183 1337.1L1182 1337.3L1181 1336.5L1180 1336.4L1179 1336.6L1178 1337.9L1177 1336.2L1176 1336.6L1175 1336.7L1174 1337.6L1173 1335.9L1172 1337.1L1171 1336L1170 1337.2L1169 1337.8L1168 1336.8L1167 1337.4L1166 1337.5L1165 1336L1164 1336.7L1163 1336.4L1162 1336.8L1161 1335.5L1160 1335L1159 1337.6L1158 1337.4L1157 1335.8L1156 1337Z" fill="#d6d6d6" stroke="none"/>
<path d="M1156.2 1325.4L1157.9 1321.6L1159.6 1325.4L1161.3 1326.8L1163 1329.6L1164.7 1334.7L1166.4 1336.1L1168.1 1335L1169.8 1333.9L1171.5 1329.9L1173.2 1325.6L1174.9 1325.9L1176.6 1328.2L1178.3 1331.7L1180 1333.4L1181.7 1335.3L1183.4 1337.7L1185.1 1338.7L1186.8 1340.4L1188.5 1334.8L1190.2 1337.9L1191.9 1334.5L1193.6 1333.2L1195.3 1339.4L1197 1340.3L1198.7 1330.9L1200.4 1327.4L1202.1 1326.6L1203.8 1333.8L1205.5 1325.2L1207.2 1325.9L1208.9 1336.4L1210.6 1334.7L1212.3 1331.6L1214 1330.1L1215.7 1321.3L1217.4 1325.3L1219.1 1336.1L1220.8 1334.2L1222.5 1335.5L1224.2 1331.5L1225.9 1337.3L1227.6 1340.6L1229.3 1337.2L1231 1323.2L1232.7 1323.8L1234.4 1326.8L1236.1 1333.3L1237.8 1333.9L1239.5 1333.3L1241.2 1335L1242.9 1330.8L1244.6 1323.5L1246.3 1316.5L1248 1324L1249.7 1326.4L1251.4 1336.6L1253.1 1334.5L1254.8 1329.7L1256.5 1330.1L1258.2 1334.7L1259.9 1335.3L1261.6 1342.2L1263.3 1338.2L1265 1325.3L1266.7 1329L1268.4 1328.7L1270.1 1330.2L1271.8 1334.1L1273.5 1334L1275.2 1340.4L1276.9 1338.3L1278.6 1328.4L1280.3 1324.7L1282 1323.8L1283.7 1333.2L1285.4 1339.6L1287.1 1338.4L1288.8 1335.9L1290.5 1331.3L1292.2 1330.5L1293.9 1328L1295.6 1333.5L1297.3 1339.5L1299 1337.8L1300.7 1330.7L1302.4 1325L1304.1 1326.5L1305.8 1330.4L1307.5 1332.6L1309.2 1335.7L1310.9 1347.4L1312.6 1343L1314.3 1334.6L1316 1330.9L1317.7 1327.2L1319.4 1333.6L1321.1 1332.9L1322.8 1335L1324.5 1338L1326.2 1338.3L1327.9 1335.3L1329.6 1338.4L1331.3 1336.9L1333 1331.8L1334.7 1331.2L1336.4 1332.7L1338.1 1331.4L1339.8 1326.4L1341.5 1330.3L1343.2 1334.6L1344.9 1346.7L1346.6 1347.4L1348.3 1341.7L1350 1330.3L1351.7 1333.3L1353.4 1330.6L1355.1 1329.4L1356.8 1329.3L1358.5 1329.6L1360.2 1328.3L1361.9 1330.6L1363.6 1330.4L1365.3 1335L1367 1348.2L1368.7 1335.4L1370.4 1324.4L1372.1 1328.5L1373.8 1335.1L1375.5 1343L1377.2 1340.9L1378.9 1339.9L1380.6 1336.5L1382.3 1335L1384 1331.4L1385.7 1334.6L1387.4 1329.3L1389.1 1332.4L1390.8 1335.8L1392.5 1337.2L1394.2 1340.7L1395.9 1336.5L1397.6 1334.6L1399.3 1333.7L1401 1335L1402.7 1340.8L1404.4 1344.3L1406.1 1340.4L1407.8 1337.1L1409.5 1330.9L1411.2 1328.5L1412.9 1328.7L1414.6 1333.6L1416.3 1340.3L1418 1348.5L1419.7 1348.1L1421.4 1346.6L1423.1 1344L1424.8 1333.4L1426.5 1328.9L1428.2 1332.3L1429.9 1336.2L1431.6 1336.2L1433.3 1335.9L1435 1333.4L1436.7 1330.1L1438.4 1331L1440 1338L1440.8 1334.9L1441.6 1332.4L1442.4 1330.4L1443.2 1329L1444 1328L1444.8 1327.4L1445.6 1327.1L1446.4 1327.5L1447.2 1329.3L1448 1331.9L1448.8 1334.4L1449.6 1335.9L1450.4 1335.7L1451.2 1334.4L1452 1332.7L1452.8 1331L1453.6 1330L1454.4 1330.2L1455.2 1331.1L1456 1332.3L1456.8 1333.4L1457.6 1334L1458.4 1333.6L1459.2 1331.9L1460 1329.4L1460.8 1326.8L1461.6 1324.6L1462.4 1323.3L1463.2 1323.4L1464 1324.2L1464.8 1325.7L1465.6 1327.6L1466.4 1329.9L1467.2 1332.4L1468 1335.2L1468.8 1340.5L1469.6 1346.2L1470.4 1349.6L1471.2 1348.8L1472 1345.4L1472.8 1341.7L1473.6 1340L1474.4 1342.1L1475.2 1346.5L1476 1350.6L1476.8 1351.7L1477.6 1349.7L1478.4 1346.5L1479.2 1344.2L1480 1345.1L1480.8 1348.9L1481.6 1350.8L1482.4 1348.6L1483.2 1344L1484 1338.8L1484.8 1334.3L1485.6 1329.1L1486.4 1324.1L1487.2 1321.3L1488 1321.8L1488.8 1324.2L1489.6 1327.5L1490.4 1330.9L1491.2 1333.6L1492 1335.1L1492.8 1336.2L1493.6 1337.2L1494.4 1338.1L1495.2 1338.9L1496 1339.9L1496.8 1341.1L1497.6 1342.7L1498.4 1345.3L1499.2 1348.6L1500 1352.1L1500.8 1355.1L1501.6 1357.2L1502.4 1357.6L1503.2 1355.7L1504 1352.6L1504.8 1350.2L1505.6 1350.4L1506.4 1354.3L1507.2 1360.6L1508 1367.8L1508.8 1374.3L1509.6 1378.6L1510.4 1379.3L1511.2 1377.2L1512 1373L1512.8 1367.3L1513.6 1360.4L1514.4 1352.9L1515.2 1345.1L1516 1337.4L1516.8 1330.5L1517.6 1323.9L1518.4 1315.9L1519.2 1307.7L1520 1300.5L1520.8 1295.7L1521.6 1294.8L1522.4 1300.2L1523.2 1309.8L1524 1320.1L1524.8 1327.2L1525.6 1329.6L1526.4 1330.9L1527.2 1332.1L1528 1334.5L1528.8 1347.9L1529.6 1370.6L1530.4 1392.6L1531.2 1403.9L1532 1401L1532.8 1390.9L1533.6 1375.9L1534.4 1358L1535.2 1339.4L1536 1322.2L1536.8 1308.3L1537.6 1296.1L1538.4 1283.1L1539.2 1270.2L1540 1258.5L1540.8 1248.9L1541.6 1242.5L1542.4 1240.1L1543.2 1242.6L1544 1249L1544.8 1257.9L1545.6 1267.8L1546.4 1277.5L1547.2 1285.3L1548 1290L1548.8 1293.1L1549.6 1295.5L1550.4 1297.6L1551.2 1300L1552 1303.1L1552.8 1307.7L1553.6 1317.2L1554.4 1330.1L1555.2 1342.7L1556 1352.6L1556.8 1362.6L1557.6 1370.4L1558.4 1372.4L1559.2 1371.1L1560 1368.3L1560.8 1364.3L1561.6 1359.6L1562.4 1354.5L1563.2 1347.4L1564 1337.3L1564.8 1326.4L1565.6 1317.2L1566.4 1308.1L1567.2 1300L1568 1296.5L1568.8 1300L1569.6 1306.9L1570.4 1311.3L1571.2 1312.3L1572 1312.9L1572.8 1313.5L1573.6 1314.6L1574.4 1318.4L1575.2 1324.4L1576 1331.3L1576.8 1337.8L1577.6 1342.4L1578.4 1343.9L1579.2 1343.6L1580 1342.8L1580.8 1341.6L1581.6 1340.1L1582.4 1338.4L1583.2 1336.6L1584 1334.8L1584.8 1333L1585.6 1331.2L1586.4 1328.8L1587.2 1326.1L1588 1323.3L1588.8 1320.6L1589.6 1318.3L1590.4 1316.8L1591.2 1316.2L1592 1316.8L1592.8 1318.4L1593.6 1320.6L1594.4 1323.3L1595.2 1326L1596 1328.6L1596.8 1330.6L1597.6 1331.9L1598.4 1332.1L1599.2 1331.8L1600 1331.1L1600.8 1330.3L1601.6 1329.3L1602.4 1328.2L1603.2 1327.1L1604 1326.1L1604.8 1324.9L1605.6 1323.5L1606.4 1321.9L1607.2 1320.3L1608 1318.9L1608.8 1317.8L1609.6 1317.2L1610.4 1317.4L1611.2 1318.3L1612 1319.7L1612.8 1321.4L1613.6 1323.2L1614.4 1324.7L1615.2 1325.8L1616 1326.1L1616.8 1325.9L1617.6 1325.4L1618.4 1324.6L1619.2 1323.4L1620 1322L1621.5 1336.3L1623.2 1337.8L1624.9 1338.2L1626.6 1335.2L1628.3 1326.8L1630 1326.4L1631.7 1323L1633.4 1331.7L1635.1 1341.4L1636.8 1338.3L1638.5 1336L1640.2 1322.7L1641.9 1334.2L1643.6 1334.5L1645.3 1332.5L1647 1333.7L1648.7 1330.4L1650.4 1334.3L1652.1 1327.4L1653.8 1325.9L1655.5 1325.6L1657.2 1327.6L1658.9 1339L1660.6 1337.9L1662.3 1330.2L1664 1325.8L1665.7 1327.9L1667.4 1334.7L1669.1 1334.7L1670.8 1334.4L1672.5 1334.4L1674.2 1334.6L1675.9 1328.4L1677.6 1323.9L1679.3 1323L1681 1327.1L1682.7 1328.3L1684.4 1329.2L1686.1 1327.8L1687.8 1331.1L1689.5 1335.7L1691.2 1336L1692.9 1332.6L1694.6 1332.2L1696.3 1331.9L1698 1326.3L1699.7 1325.2L1701.4 1322.3L1703.1 1322.7L1704.8 1319.9L1706.5 1325.7L1708.2 1332.5L1709.9 1334L1711.6 1339.1L1713.3 1341.6L1715 1341.6L1716.7 1342.9L1718.4 1332.5L1720.1 1331.9L1721.8 1328.6L1723.5 1327.2L1725.2 1326.9L1726.9 1329.2L1728.6 1335.3L1730.3 1335L1732 1337.5L1733.7 1330.6L1735.4 1327.8L1737.1 1327.3L1738.8 1332.4L1740.5 1334.9L1742.2 1318.8L1743.9 1320.1L1745.6 1332.3L1747.3 1343L1749 1348.6L1750.7 1342.6L1752.4 1333.5L1754.1 1331.9L1755.8 1328.1L1757.5 1329.3L1759.2 1331.8L1760.9 1334.6L1762.6 1333.4L1764.3 1331.8L1766 1330.9L1767.7 1333.9L1769.4 1328.7L1771.1 1330.2L1772.8 1331L1774.5 1333.6L1776.2 1341.5L1777.9 1345.6L1779.6 1345.9L1781.3 1333.7L1783 1332.2L1784.7 1332.2L1786.4 1326.6L1788.1 1330.8L1789.8 1327.6L1791.5 1326.9L1793.2 1323.5L1794.9 1326L1796.6 1325.4L1798.3 1325.2L1800 1328.7L1801.7 1340.7L1803.4 1346.7L1805.1 1344.5L1806.8 1338.8L1808.5 1328.6L1810.2 1324L1811.9 1325.3L1813.6 1323.1L1815.3 1322.5L1817 1327L1818.7 1328.1L1820.4 1331.1L1822.1 1336.4L1823.8 1337.8L1825.5 1338.9L1827.2 1344.9L1828.9 1338.6L1830.6 1332.5L1832.3 1329.7L1834 1327.7L1835.7 1318.9L1837.4 1324.1L1839.1 1331.5L1840.8 1337L1842.5 1345.7L1844.2 1343.1L1845.9 1333.5L1847.6 1329L1849.3 1331.4L1851 1331.2L1852.7 1326L1854.4 1329.9L1856.1 1330.3L1857.8 1339.3L1859.5 1332.8L1861.2 1328.8L1862.9 1325.8L1864.6 1324.9L1866.3 1323.3L1868 1326.5L1869.7 1336.5L1871.4 1339.7L1873.1 1346.7L1874.8 1342.2L1876.5 1337.8L1878.2 1337.6L1879.9 1339.7L1881.6 1336.6L1883.3 1335.4L1885 1333.2L1886.7 1330.3L1888.4 1326.2L1890.1 1327.8L1891.8 1324.3L1893.5 1322.7L1895.2 1317.7L1896.9 1329.6L1898.6 1335.9L1900.3 1340L1902 1342.7L1903.7 1328.3L1905.4 1326.7L1907.1 1323.7L1908.8 1328.1L1910.5 1328.5L1912.2 1334.4L1913.9 1337.8L1915.6 1340.2L1917.3 1331.8L1919 1322.2L1920.7 1326.2L1922.4 1330.5L1924.1 1333.5L1925.8 1328.9L1927.5 1333.1L1929.2 1329.6L1930.9 1330.7L1932.6 1327.3L1934.3 1325L1936 1321L1937.7 1331L1939.4 1331.8L1941.1 1337.8L1942.8 1339.9L1944.5 1343.3L1946.2 1331.2L1947.9 1325.2L1949.6 1317.9L1951.3 1327.6L1953 1326.1L1954.7 1323.1L1956.4 1337.6L1958.1 1341.4L1959.8 1339.6L1961.5 1328.2L1963.2 1329.2L1964.9 1332.8L1966.6 1331.5L1968.3 1331.9L1970 1326.3L1971.7 1330.6L1973.4 1337.3L1975.1 1334.3L1976.8 1326.7L1978.5 1325.5L1980.2 1331.6L1981.9 1332L1983.6 1338.1L1985.3 1341L1987 1339.8L1988.7 1343.3L1990.4 1335.8L1992.1 1327.6L1993.8 1332.8L1995.5 1335.7L1997.2 1344L1998.9 1332.7" stroke="#111111" stroke-width="4.1" fill="none"/>
</g>
<path d="M1156.2 5.0V1529.7M2000.4 5.0V1529.7M1156.2 6.0H2000.4M1156.2 399.2H2000.4M1156.2 1136.0H2000.4M1156.2 1528.7H2000.4" stroke="#111111" stroke-width="2.0" fill="none"/>
<path d="M1307.6 6.0v15.4M1307.6 383.8v30.8M1307.6 1120.6v30.8M1307.6 1528.7v-15.4M1525.3 6.0v15.4M1525.3 383.8v30.8M1525.3 1120.6v30.8M1525.3 1528.7v-15.4M1743 6.0v15.4M1743 383.8v30.8M1743 1120.6v30.8M1743 1528.7v-15.4M1960.7 6.0v15.4M1960.7 383.8v30.8M1960.7 1120.6v30.8M1960.7 1528.7v-15.4M1198.8 6.0v7.6M1198.8 391.59999999999997v15.2M1198.8 1128.4v15.2M1198.8 1528.7v-7.6M1416.5 6.0v7.6M1416.5 391.59999999999997v15.2M1416.5 1128.4v15.2M1416.5 1528.7v-7.6M1634.1 6.0v7.6M1634.1 391.59999999999997v15.2M1634.1 1128.4v15.2M1634.1 1528.7v-7.6M1851.8 6.0v7.6M1851.8 391.59999999999997v15.2M1851.8 1128.4v15.2M1851.8 1528.7v-7.6" stroke="#111111" stroke-width="2.0" fill="none"/>
<text x="1307.6" y="1564" font-size="29.5" text-anchor="middle" font-family="'Liberation Sans', Arial, Helvetica, sans-serif" fill="#111111" stroke="#111111" stroke-width="0.35">-0.5</text>
<text x="1525.3" y="1564" font-size="29.5" text-anchor="middle" font-family="'Liberation Sans', Arial, Helvetica, sans-serif" fill="#111111" stroke="#111111" stroke-width="0.35">0.0</text>
<text x="1743" y="1564" font-size="29.5" text-anchor="middle" font-family="'Liberation Sans', Arial, Helvetica, sans-serif" fill="#111111" stroke="#111111" stroke-width="0.35">0.5</text>
<text x="1960.7" y="1564" font-size="29.5" text-anchor="middle" font-family="'Liberation Sans', Arial, Helvetica, sans-serif" fill="#111111" stroke="#111111" stroke-width="0.35">1.0</text>
<path d="M1156.2 37.8h8.3M2000.4 37.8h-8.3M1156.2 103.6h8.3M2000.4 103.6h-8.3M1156.2 169.4h8.3M2000.4 169.4h-8.3M1156.2 235.2h8.3M2000.4 235.2h-8.3M1156.2 301h8.3M2000.4 301h-8.3M1156.2 366.8h8.3M2000.4 366.8h-8.3M1156.2 70.7h16.3M2000.4 70.7h-16.3M1156.2 136.5h16.3M2000.4 136.5h-16.3M1156.2 202.3h16.3M2000.4 202.3h-16.3M1156.2 268.1h16.3M2000.4 268.1h-16.3M1156.2 333.9h16.3M2000.4 333.9h-16.3" stroke="#111111" stroke-width="2.0" fill="none"/>
<text x="1142.4" y="23" font-size="29.5" text-anchor="end" font-family="'Liberation Sans', Arial, Helvetica, sans-serif" fill="#111111" stroke="#111111" stroke-width="0.35">0.06</text>
<text x="1142.4" y="81" font-size="29.5" text-anchor="end" font-family="'Liberation Sans', Arial, Helvetica, sans-serif" fill="#111111" stroke="#111111" stroke-width="0.35">0.04</text>
<text x="1142.4" y="146.8" font-size="29.5" text-anchor="end" font-family="'Liberation Sans', Arial, Helvetica, sans-serif" fill="#111111" stroke="#111111" stroke-width="0.35">0.02</text>
<text x="1142.4" y="212.6" font-size="29.5" text-anchor="end" font-family="'Liberation Sans', Arial, Helvetica, sans-serif" fill="#111111" stroke="#111111" stroke-width="0.35">0.00</text>
<text x="1142.4" y="278.4" font-size="29.5" text-anchor="end" font-family="'Liberation Sans', Arial, Helvetica, sans-serif" fill="#111111" stroke="#111111" stroke-width="0.35">-0.02</text>
<text x="1142.4" y="344.2" font-size="29.5" text-anchor="end" font-family="'Liberation Sans', Arial, Helvetica, sans-serif" fill="#111111" stroke="#111111" stroke-width="0.35">-0.04</text>
<text x="1142.4" y="400" font-size="29.5" text-anchor="end" font-family="'Liberation Sans', Arial, Helvetica, sans-serif" fill="#111111" stroke="#111111" stroke-width="0.35">-0.06</text>
<path d="M1156.2 423.8h8.3M2000.4 423.8h-8.3M1156.2 522h8.3M2000.4 522h-8.3M1156.2 620.2h8.3M2000.4 620.2h-8.3M1156.2 718.4h8.3M2000.4 718.4h-8.3M1156.2 816.6h8.3M2000.4 816.6h-8.3M1156.2 914.8h8.3M2000.4 914.8h-8.3M1156.2 1013h8.3M2000.4 1013h-8.3M1156.2 1111.2h8.3M2000.4 1111.2h-8.3M1156.2 448.3h8.3M2000.4 448.3h-8.3M1156.2 497.4h8.3M2000.4 497.4h-8.3M1156.2 546.5h8.3M2000.4 546.5h-8.3M1156.2 595.6h8.3M2000.4 595.6h-8.3M1156.2 644.8h8.3M2000.4 644.8h-8.3M1156.2 693.9h8.3M2000.4 693.9h-8.3M1156.2 743h8.3M2000.4 743h-8.3M1156.2 792h8.3M2000.4 792h-8.3M1156.2 841.1h8.3M2000.4 841.1h-8.3M1156.2 890.2h8.3M2000.4 890.2h-8.3M1156.2 939.4h8.3M2000.4 939.4h-8.3M1156.2 988.5h8.3M2000.4 988.5h-8.3M1156.2 1037.5h8.3M2000.4 1037.5h-8.3M1156.2 1086.7h8.3M2000.4 1086.7h-8.3M1156.2 472.9h16.3M2000.4 472.9h-16.3M1156.2 571.1h16.3M2000.4 571.1h-16.3M1156.2 669.3h16.3M2000.4 669.3h-16.3M1156.2 767.5h16.3M2000.4 767.5h-16.3M1156.2 865.7h16.3M2000.4 865.7h-16.3M1156.2 963.9h16.3M2000.4 963.9h-16.3M1156.2 1062.1h16.3M2000.4 1062.1h-16.3" stroke="#111111" stroke-width="2.0" fill="none"/>
<text x="1142.4" y="483.2" font-size="29.5" text-anchor="end" font-family="'Liberation Sans', Arial, Helvetica, sans-serif" fill="#111111" stroke="#111111" stroke-width="0.35">0.6</text>
<text x="1142.4" y="581.4" font-size="29.5" text-anchor="end" font-family="'Liberation Sans', Arial, Helvetica, sans-serif" fill="#111111" stroke="#111111" stroke-width="0.35">0.4</text>
<text x="1142.4" y="679.6" font-size="29.5" text-anchor="end" font-family="'Liberation Sans', Arial, Helvetica, sans-serif" fill="#111111" stroke="#111111" stroke-width="0.35">0.2</text>
<text x="1142.4" y="777.8" font-size="29.5" text-anchor="end" font-family="'Liberation Sans', Arial, Helvetica, sans-serif" fill="#111111" stroke="#111111" stroke-width="0.35">0.0</text>
<text x="1142.4" y="876" font-size="29.5" text-anchor="end" font-family="'Liberation Sans', Arial, Helvetica, sans-serif" fill="#111111" stroke="#111111" stroke-width="0.35">-0.2</text>
<text x="1142.4" y="974.2" font-size="29.5" text-anchor="end" font-family="'Liberation Sans', Arial, Helvetica, sans-serif" fill="#111111" stroke="#111111" stroke-width="0.35">-0.4</text>
<text x="1142.4" y="1072.4" font-size="29.5" text-anchor="end" font-family="'Liberation Sans', Arial, Helvetica, sans-serif" fill="#111111" stroke="#111111" stroke-width="0.35">-0.6</text>
<path d="M1156.2 1509.6h8.3M2000.4 1509.6h-8.3M1156.2 1490h8.3M2000.4 1490h-8.3M1156.2 1470.3h8.3M2000.4 1470.3h-8.3M1156.2 1450.7h8.3M2000.4 1450.7h-8.3M1156.2 1411.3h8.3M2000.4 1411.3h-8.3M1156.2 1391.7h8.3M2000.4 1391.7h-8.3M1156.2 1372h8.3M2000.4 1372h-8.3M1156.2 1352.4h8.3M2000.4 1352.4h-8.3M1156.2 1313h8.3M2000.4 1313h-8.3M1156.2 1293.4h8.3M2000.4 1293.4h-8.3M1156.2 1273.7h8.3M2000.4 1273.7h-8.3M1156.2 1254.1h8.3M2000.4 1254.1h-8.3M1156.2 1214.7h8.3M2000.4 1214.7h-8.3M1156.2 1195.1h8.3M2000.4 1195.1h-8.3M1156.2 1175.4h8.3M2000.4 1175.4h-8.3M1156.2 1155.8h8.3M2000.4 1155.8h-8.3M1156.2 1234.4h16.3M2000.4 1234.4h-16.3M1156.2 1332.7h16.3M2000.4 1332.7h-16.3M1156.2 1431h16.3M2000.4 1431h-16.3" stroke="#111111" stroke-width="2.0" fill="none"/>
<text x="1142.4" y="1152.8" font-size="29.5" text-anchor="end" font-family="'Liberation Sans', Arial, Helvetica, sans-serif" fill="#111111" stroke="#111111" stroke-width="0.35">0.10</text>
<text x="1142.4" y="1244.7" font-size="29.5" text-anchor="end" font-family="'Liberation Sans', Arial, Helvetica, sans-serif" fill="#111111" stroke="#111111" stroke-width="0.35">0.05</text>
<text x="1142.4" y="1343" font-size="29.5" text-anchor="end" font-family="'Liberation Sans', Arial, Helvetica, sans-serif" fill="#111111" stroke="#111111" stroke-width="0.35">0.00</text>
<text x="1142.4" y="1441.3" font-size="29.5" text-anchor="end" font-family="'Liberation Sans', Arial, Helvetica, sans-serif" fill="#111111" stroke="#111111" stroke-width="0.35">-0.05</text>
<text x="1142.4" y="1528.8" font-size="29.5" text-anchor="end" font-family="'Liberation Sans', Arial, Helvetica, sans-serif" fill="#111111" stroke="#111111" stroke-width="0.35">-0.10</text>
</g>
<text letter-spacing="0" transform="translate(23.9 202) rotate(-90)" text-anchor="middle" font-size="29.5" fill="#111111" stroke="#111111" stroke-width="0.35" font-family="'Liberation Sans', Arial, Helvetica, sans-serif">RCCF(<tspan font-family="'Liberation Serif', 'Times New Roman', Times, serif" font-weight="bold" font-style="italic">x</tspan>)</text>
<text letter-spacing="0" transform="translate(1046.1 201.4) rotate(-90)" text-anchor="middle" font-size="29.5" fill="#111111" stroke="#111111" stroke-width="0.35" font-family="'Liberation Sans', Arial, Helvetica, sans-serif">RCCF<tspan font-family="'Liberation Serif', 'Times New Roman', Times, serif" font-style="italic">(</tspan><tspan font-family="'Liberation Serif', 'Times New Roman', Times, serif" font-weight="bold" font-style="italic">y</tspan><tspan font-family="'Liberation Serif', 'Times New Roman', Times, serif" font-style="italic">)</tspan></text>
<text letter-spacing="0" transform="translate(23.8 768.5) rotate(-90)" text-anchor="middle" font-size="29.5" fill="#111111" stroke="#111111" stroke-width="0.35" font-family="'Liberation Sans', Arial, Helvetica, sans-serif"><tspan font-family="'Liberation Serif', 'Times New Roman', Times, serif" font-weight="bold" font-style="italic" font-size="31.6">S</tspan><tspan font-family="'Liberation Serif', 'Times New Roman', Times, serif" font-style="italic">(</tspan><tspan font-family="'Liberation Serif', 'Times New Roman', Times, serif" font-weight="bold" font-style="italic">x</tspan><tspan font-family="'Liberation Serif', 'Times New Roman', Times, serif" font-style="italic">)</tspan></text>
<text letter-spacing="0" transform="translate(1046 768.5) rotate(-90)" text-anchor="middle" font-size="29.5" fill="#111111" stroke="#111111" stroke-width="0.35" font-family="'Liberation Sans', Arial, Helvetica, sans-serif"><tspan font-family="'Liberation Serif', 'Times New Roman', Times, serif" font-weight="bold" font-style="italic" font-size="31.6">S</tspan><tspan font-family="'Liberation Serif', 'Times New Roman', Times, serif" font-style="italic">(</tspan><tspan font-family="'Liberation Serif', 'Times New Roman', Times, serif" font-weight="bold" font-style="italic">y</tspan><tspan font-family="'Liberation Serif', 'Times New Roman', Times, serif" font-style="italic">)</tspan></text>
<text letter-spacing="-0.55" transform="translate(23.6 1333.2) rotate(-90)" text-anchor="middle" font-size="29.5" fill="#111111" stroke="#111111" stroke-width="0.35" font-family="'Liberation Sans', Arial, Helvetica, sans-serif"><tspan font-family="'Liberation Serif', 'Times New Roman', Times, serif" font-weight="bold" font-style="italic" font-size="31.6">S</tspan><tspan font-family="'Liberation Serif', 'Times New Roman', Times, serif" font-style="italic">(</tspan><tspan font-family="'Liberation Serif', 'Times New Roman', Times, serif" font-weight="bold" font-style="italic">x</tspan><tspan font-family="'Liberation Serif', 'Times New Roman', Times, serif" font-style="italic">)</tspan><tspan font-weight="bold">-</tspan><tspan font-family="'Liberation Serif', 'Times New Roman', Times, serif" font-weight="bold" font-style="italic" font-size="31.6">C</tspan><tspan font-family="'Liberation Serif', 'Times New Roman', Times, serif" font-style="italic">(</tspan><tspan font-family="'Liberation Serif', 'Times New Roman', Times, serif" font-weight="bold" font-style="italic">x</tspan><tspan font-family="'Liberation Serif', 'Times New Roman', Times, serif" font-style="italic">)</tspan></text>
<text letter-spacing="-0.5" transform="translate(1046 1333.2) rotate(-90)" text-anchor="middle" font-size="29.5" fill="#111111" stroke="#111111" stroke-width="0.35" font-family="'Liberation Sans', Arial, Helvetica, sans-serif"><tspan font-family="'Liberation Serif', 'Times New Roman', Times, serif" font-weight="bold" font-style="italic" font-size="31.6">S</tspan><tspan font-family="'Liberation Serif', 'Times New Roman', Times, serif" font-style="italic">(</tspan><tspan font-family="'Liberation Serif', 'Times New Roman', Times, serif" font-weight="bold" font-style="italic">y</tspan><tspan font-family="'Liberation Serif', 'Times New Roman', Times, serif" font-style="italic">)</tspan><tspan font-weight="bold">-</tspan><tspan font-family="'Liberation Serif', 'Times New Roman', Times, serif" font-weight="bold" font-style="italic" font-size="31.6">C</tspan><tspan font-family="'Liberation Serif', 'Times New Roman', Times, serif" font-style="italic">(</tspan><tspan font-family="'Liberation Serif', 'Times New Roman', Times, serif" font-weight="bold" font-style="italic">y</tspan><tspan font-family="'Liberation Serif', 'Times New Roman', Times, serif" font-style="italic">)</tspan></text>
<text x="548.6" y="1610" text-anchor="middle" font-size="29.5" fill="#111111" stroke="#111111" stroke-width="0.35" font-family="'Liberation Sans', Arial, Helvetica, sans-serif"><tspan font-family="'Liberation Serif', 'Times New Roman', Times, serif" font-weight="bold" font-style="italic">x</tspan> (arcsec)</text>
<text x="1578.4" y="1610" text-anchor="middle" font-size="29.5" fill="#111111" stroke="#111111" stroke-width="0.35" font-family="'Liberation Sans', Arial, Helvetica, sans-serif"><tspan font-family="'Liberation Serif', 'Times New Roman', Times, serif" font-weight="bold" font-style="italic">y</tspan> (arcsec)</text>
<text x="715.8" y="483.1" font-size="39.3" fill="#111111" stroke="#111111" stroke-width="0.5" font-family="'Liberation Sans', Arial, Helvetica, sans-serif">CD-45<tspan font-size="24.4" dy="-17.6">o</tspan><tspan dy="17.6">5058</tspan></text>
<text x="715.8" y="532.1" font-size="39.3" fill="#111111" stroke="#111111" stroke-width="0.5" font-family="'Liberation Sans', Arial, Helvetica, sans-serif">sppr = 0.97</text>
<text x="1745.8" y="482.5" font-size="39.3" fill="#111111" stroke="#111111" stroke-width="0.5" font-family="'Liberation Sans', Arial, Helvetica, sans-serif">CD-45<tspan font-size="24.4" dy="-17.6">o</tspan><tspan dy="17.6">5058</tspan></text>
<text x="1745.8" y="531.8" font-size="39.3" fill="#111111" stroke="#111111" stroke-width="0.5" font-family="'Liberation Sans', Arial, Helvetica, sans-serif">sppr = 0.99</text>
</svg>
</body></html>
